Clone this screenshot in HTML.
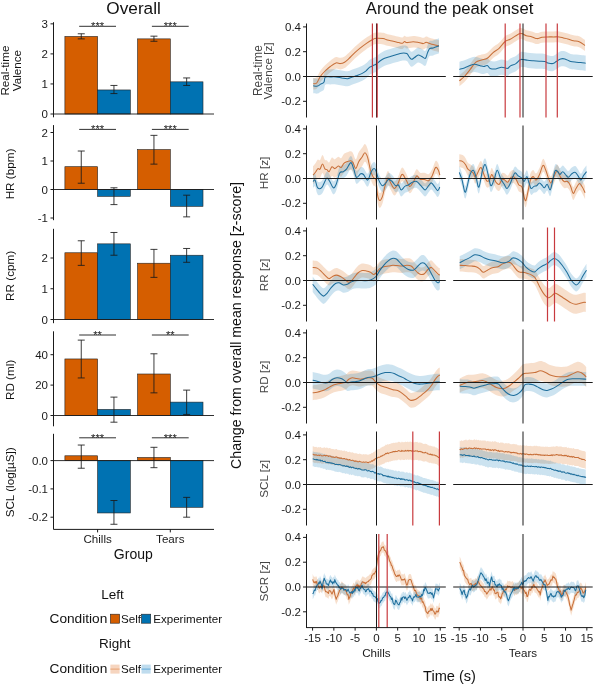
<!DOCTYPE html>
<html><head><meta charset="utf-8"><style>
html,body{margin:0;padding:0;background:#fff;width:598px;height:685px;overflow:hidden}
svg{display:block;will-change:transform}
text{font-family:"Liberation Sans", sans-serif}
</style></head><body>
<svg width="598" height="685" viewBox="0 0 598 685">
<rect width="598" height="685" fill="#fff"/>
<text x="133.60" y="14.40" font-size="17.2" text-anchor="middle" fill="#111111" >Overall</text>
<rect x="64.90" y="36.47" width="32.70" height="77.53" fill="#D55E00" stroke="#222" stroke-width="0.6"/>
<rect x="97.60" y="89.96" width="32.70" height="24.04" fill="#0072B2" stroke="#222" stroke-width="0.6"/>
<rect x="137.60" y="38.88" width="32.70" height="75.12" fill="#D55E00" stroke="#222" stroke-width="0.6"/>
<rect x="170.30" y="81.85" width="32.70" height="32.15" fill="#0072B2" stroke="#222" stroke-width="0.6"/>
<line x1="53.50" y1="114.00" x2="214.00" y2="114.00" stroke="#1a1a1a" stroke-width="0.9" />
<line x1="81.25" y1="38.88" x2="81.25" y2="33.77" stroke="#1a1a1a" stroke-width="0.85" />
<line x1="77.75" y1="38.88" x2="84.75" y2="38.88" stroke="#1a1a1a" stroke-width="0.85" />
<line x1="77.75" y1="33.77" x2="84.75" y2="33.77" stroke="#1a1a1a" stroke-width="0.85" />
<line x1="113.95" y1="93.57" x2="113.95" y2="85.45" stroke="#1a1a1a" stroke-width="0.85" />
<line x1="110.45" y1="93.57" x2="117.45" y2="93.57" stroke="#1a1a1a" stroke-width="0.85" />
<line x1="110.45" y1="85.45" x2="117.45" y2="85.45" stroke="#1a1a1a" stroke-width="0.85" />
<line x1="153.95" y1="41.28" x2="153.95" y2="36.17" stroke="#1a1a1a" stroke-width="0.85" />
<line x1="150.45" y1="41.28" x2="157.45" y2="41.28" stroke="#1a1a1a" stroke-width="0.85" />
<line x1="150.45" y1="36.17" x2="157.45" y2="36.17" stroke="#1a1a1a" stroke-width="0.85" />
<line x1="186.65" y1="85.45" x2="186.65" y2="77.94" stroke="#1a1a1a" stroke-width="0.85" />
<line x1="183.15" y1="85.45" x2="190.15" y2="85.45" stroke="#1a1a1a" stroke-width="0.85" />
<line x1="183.15" y1="77.94" x2="190.15" y2="77.94" stroke="#1a1a1a" stroke-width="0.85" />
<line x1="53.50" y1="22.20" x2="53.50" y2="117.30" stroke="#1a1a1a" stroke-width="1.0" />
<line x1="50.50" y1="114.00" x2="53.50" y2="114.00" stroke="#1a1a1a" stroke-width="1.0" />
<text x="48.00" y="118.00" font-size="11.5" text-anchor="end" fill="#1a1a1a" >0</text>
<line x1="50.50" y1="83.95" x2="53.50" y2="83.95" stroke="#1a1a1a" stroke-width="1.0" />
<text x="48.00" y="87.95" font-size="11.5" text-anchor="end" fill="#1a1a1a" >1</text>
<line x1="50.50" y1="53.90" x2="53.50" y2="53.90" stroke="#1a1a1a" stroke-width="1.0" />
<text x="48.00" y="57.90" font-size="11.5" text-anchor="end" fill="#1a1a1a" >2</text>
<line x1="50.50" y1="23.85" x2="53.50" y2="23.85" stroke="#1a1a1a" stroke-width="1.0" />
<text x="48.00" y="27.85" font-size="11.5" text-anchor="end" fill="#1a1a1a" >3</text>
<line x1="79.20" y1="26.30" x2="116.00" y2="26.30" stroke="#1a1a1a" stroke-width="0.9" />
<text x="97.60" y="30.20" font-size="11.2" text-anchor="middle" fill="#222" >***</text>
<line x1="151.90" y1="26.30" x2="188.70" y2="26.30" stroke="#1a1a1a" stroke-width="0.9" />
<text x="170.30" y="30.20" font-size="11.2" text-anchor="middle" fill="#222" >***</text>
<text x="9.30" y="70.60" font-size="11.7" text-anchor="middle" fill="#111111" transform="rotate(-90 9.30 70.60)" >Real-time</text>
<text x="20.60" y="70.60" font-size="11.7" text-anchor="middle" fill="#111111" transform="rotate(-90 20.60 70.60)" >Valence</text>
<rect x="64.90" y="166.70" width="32.70" height="22.80" fill="#D55E00" stroke="#222" stroke-width="0.6"/>
<rect x="97.60" y="189.50" width="32.70" height="6.84" fill="#0072B2" stroke="#222" stroke-width="0.6"/>
<rect x="137.60" y="149.60" width="32.70" height="39.90" fill="#D55E00" stroke="#222" stroke-width="0.6"/>
<rect x="170.30" y="189.50" width="32.70" height="16.81" fill="#0072B2" stroke="#222" stroke-width="0.6"/>
<line x1="53.50" y1="189.50" x2="214.00" y2="189.50" stroke="#1a1a1a" stroke-width="0.9" />
<line x1="81.25" y1="183.23" x2="81.25" y2="151.03" stroke="#1a1a1a" stroke-width="0.85" />
<line x1="77.75" y1="183.23" x2="84.75" y2="183.23" stroke="#1a1a1a" stroke-width="0.85" />
<line x1="77.75" y1="151.03" x2="84.75" y2="151.03" stroke="#1a1a1a" stroke-width="0.85" />
<line x1="113.95" y1="204.60" x2="113.95" y2="187.79" stroke="#1a1a1a" stroke-width="0.85" />
<line x1="110.45" y1="204.60" x2="117.45" y2="204.60" stroke="#1a1a1a" stroke-width="0.85" />
<line x1="110.45" y1="187.79" x2="117.45" y2="187.79" stroke="#1a1a1a" stroke-width="0.85" />
<line x1="153.95" y1="164.13" x2="153.95" y2="135.35" stroke="#1a1a1a" stroke-width="0.85" />
<line x1="150.45" y1="164.13" x2="157.45" y2="164.13" stroke="#1a1a1a" stroke-width="0.85" />
<line x1="150.45" y1="135.35" x2="157.45" y2="135.35" stroke="#1a1a1a" stroke-width="0.85" />
<line x1="186.65" y1="216.86" x2="186.65" y2="195.20" stroke="#1a1a1a" stroke-width="0.85" />
<line x1="183.15" y1="216.86" x2="190.15" y2="216.86" stroke="#1a1a1a" stroke-width="0.85" />
<line x1="183.15" y1="195.20" x2="190.15" y2="195.20" stroke="#1a1a1a" stroke-width="0.85" />
<line x1="53.50" y1="125.10" x2="53.50" y2="220.20" stroke="#1a1a1a" stroke-width="1.0" />
<line x1="50.50" y1="218.00" x2="53.50" y2="218.00" stroke="#1a1a1a" stroke-width="1.0" />
<text x="48.00" y="222.00" font-size="11.5" text-anchor="end" fill="#1a1a1a" >-1</text>
<line x1="50.50" y1="189.50" x2="53.50" y2="189.50" stroke="#1a1a1a" stroke-width="1.0" />
<text x="48.00" y="193.50" font-size="11.5" text-anchor="end" fill="#1a1a1a" >0</text>
<line x1="50.50" y1="161.00" x2="53.50" y2="161.00" stroke="#1a1a1a" stroke-width="1.0" />
<text x="48.00" y="165.00" font-size="11.5" text-anchor="end" fill="#1a1a1a" >1</text>
<line x1="50.50" y1="132.50" x2="53.50" y2="132.50" stroke="#1a1a1a" stroke-width="1.0" />
<text x="48.00" y="136.50" font-size="11.5" text-anchor="end" fill="#1a1a1a" >2</text>
<line x1="79.20" y1="129.40" x2="116.00" y2="129.40" stroke="#1a1a1a" stroke-width="0.9" />
<text x="97.60" y="133.30" font-size="11.2" text-anchor="middle" fill="#222" >***</text>
<line x1="151.90" y1="129.40" x2="188.70" y2="129.40" stroke="#1a1a1a" stroke-width="0.9" />
<text x="170.30" y="133.30" font-size="11.2" text-anchor="middle" fill="#222" >***</text>
<text x="13.80" y="174.00" font-size="11.7" text-anchor="middle" fill="#111111" transform="rotate(-90 13.80 174.00)" >HR (bpm)</text>
<rect x="64.90" y="252.77" width="32.70" height="66.73" fill="#D55E00" stroke="#222" stroke-width="0.6"/>
<rect x="97.60" y="243.86" width="32.70" height="75.64" fill="#0072B2" stroke="#222" stroke-width="0.6"/>
<rect x="137.60" y="263.23" width="32.70" height="56.27" fill="#D55E00" stroke="#222" stroke-width="0.6"/>
<rect x="170.30" y="255.23" width="32.70" height="64.27" fill="#0072B2" stroke="#222" stroke-width="0.6"/>
<line x1="53.50" y1="319.50" x2="214.00" y2="319.50" stroke="#1a1a1a" stroke-width="0.9" />
<line x1="81.25" y1="265.38" x2="81.25" y2="240.78" stroke="#1a1a1a" stroke-width="0.85" />
<line x1="77.75" y1="265.38" x2="84.75" y2="265.38" stroke="#1a1a1a" stroke-width="0.85" />
<line x1="77.75" y1="240.78" x2="84.75" y2="240.78" stroke="#1a1a1a" stroke-width="0.85" />
<line x1="113.95" y1="255.23" x2="113.95" y2="232.48" stroke="#1a1a1a" stroke-width="0.85" />
<line x1="110.45" y1="255.23" x2="117.45" y2="255.23" stroke="#1a1a1a" stroke-width="0.85" />
<line x1="110.45" y1="232.48" x2="117.45" y2="232.48" stroke="#1a1a1a" stroke-width="0.85" />
<line x1="153.95" y1="277.37" x2="153.95" y2="249.39" stroke="#1a1a1a" stroke-width="0.85" />
<line x1="150.45" y1="277.37" x2="157.45" y2="277.37" stroke="#1a1a1a" stroke-width="0.85" />
<line x1="150.45" y1="249.39" x2="157.45" y2="249.39" stroke="#1a1a1a" stroke-width="0.85" />
<line x1="186.65" y1="262.31" x2="186.65" y2="248.47" stroke="#1a1a1a" stroke-width="0.85" />
<line x1="183.15" y1="262.31" x2="190.15" y2="262.31" stroke="#1a1a1a" stroke-width="0.85" />
<line x1="183.15" y1="248.47" x2="190.15" y2="248.47" stroke="#1a1a1a" stroke-width="0.85" />
<line x1="53.50" y1="228.80" x2="53.50" y2="323.20" stroke="#1a1a1a" stroke-width="1.0" />
<line x1="50.50" y1="319.50" x2="53.50" y2="319.50" stroke="#1a1a1a" stroke-width="1.0" />
<text x="48.00" y="323.50" font-size="11.5" text-anchor="end" fill="#1a1a1a" >0</text>
<line x1="50.50" y1="288.75" x2="53.50" y2="288.75" stroke="#1a1a1a" stroke-width="1.0" />
<text x="48.00" y="292.75" font-size="11.5" text-anchor="end" fill="#1a1a1a" >1</text>
<line x1="50.50" y1="258.00" x2="53.50" y2="258.00" stroke="#1a1a1a" stroke-width="1.0" />
<text x="48.00" y="262.00" font-size="11.5" text-anchor="end" fill="#1a1a1a" >2</text>
<text x="13.80" y="275.90" font-size="11.7" text-anchor="middle" fill="#111111" transform="rotate(-90 13.80 275.90)" >RR (cpm)</text>
<rect x="64.90" y="358.96" width="32.70" height="56.54" fill="#D55E00" stroke="#222" stroke-width="0.6"/>
<rect x="97.60" y="409.42" width="32.70" height="6.08" fill="#0072B2" stroke="#222" stroke-width="0.6"/>
<rect x="137.60" y="374.00" width="32.70" height="41.50" fill="#D55E00" stroke="#222" stroke-width="0.6"/>
<rect x="170.30" y="402.12" width="32.70" height="13.38" fill="#0072B2" stroke="#222" stroke-width="0.6"/>
<line x1="53.50" y1="415.50" x2="214.00" y2="415.50" stroke="#1a1a1a" stroke-width="0.9" />
<line x1="81.25" y1="377.96" x2="81.25" y2="340.11" stroke="#1a1a1a" stroke-width="0.85" />
<line x1="77.75" y1="377.96" x2="84.75" y2="377.96" stroke="#1a1a1a" stroke-width="0.85" />
<line x1="77.75" y1="340.11" x2="84.75" y2="340.11" stroke="#1a1a1a" stroke-width="0.85" />
<line x1="113.95" y1="422.19" x2="113.95" y2="397.11" stroke="#1a1a1a" stroke-width="0.85" />
<line x1="110.45" y1="422.19" x2="117.45" y2="422.19" stroke="#1a1a1a" stroke-width="0.85" />
<line x1="110.45" y1="397.11" x2="117.45" y2="397.11" stroke="#1a1a1a" stroke-width="0.85" />
<line x1="153.95" y1="392.85" x2="153.95" y2="353.79" stroke="#1a1a1a" stroke-width="0.85" />
<line x1="150.45" y1="392.85" x2="157.45" y2="392.85" stroke="#1a1a1a" stroke-width="0.85" />
<line x1="150.45" y1="353.79" x2="157.45" y2="353.79" stroke="#1a1a1a" stroke-width="0.85" />
<line x1="186.65" y1="414.44" x2="186.65" y2="390.12" stroke="#1a1a1a" stroke-width="0.85" />
<line x1="183.15" y1="414.44" x2="190.15" y2="414.44" stroke="#1a1a1a" stroke-width="0.85" />
<line x1="183.15" y1="390.12" x2="190.15" y2="390.12" stroke="#1a1a1a" stroke-width="0.85" />
<line x1="53.50" y1="331.30" x2="53.50" y2="426.30" stroke="#1a1a1a" stroke-width="1.0" />
<line x1="50.50" y1="415.50" x2="53.50" y2="415.50" stroke="#1a1a1a" stroke-width="1.0" />
<text x="48.00" y="419.50" font-size="11.5" text-anchor="end" fill="#1a1a1a" >0</text>
<line x1="50.50" y1="385.10" x2="53.50" y2="385.10" stroke="#1a1a1a" stroke-width="1.0" />
<text x="48.00" y="389.10" font-size="11.5" text-anchor="end" fill="#1a1a1a" >20</text>
<line x1="50.50" y1="354.70" x2="53.50" y2="354.70" stroke="#1a1a1a" stroke-width="1.0" />
<text x="48.00" y="358.70" font-size="11.5" text-anchor="end" fill="#1a1a1a" >40</text>
<line x1="79.20" y1="335.00" x2="116.00" y2="335.00" stroke="#1a1a1a" stroke-width="0.9" />
<text x="97.60" y="338.90" font-size="11.2" text-anchor="middle" fill="#222" >**</text>
<line x1="151.90" y1="335.00" x2="188.70" y2="335.00" stroke="#1a1a1a" stroke-width="0.9" />
<text x="170.30" y="338.90" font-size="11.2" text-anchor="middle" fill="#222" >**</text>
<text x="13.80" y="379.90" font-size="11.7" text-anchor="middle" fill="#111111" transform="rotate(-90 13.80 379.90)" >RD (ml)</text>
<rect x="64.90" y="455.79" width="32.70" height="4.81" fill="#D55E00" stroke="#222" stroke-width="0.6"/>
<rect x="97.60" y="460.60" width="32.70" height="52.36" fill="#0072B2" stroke="#222" stroke-width="0.6"/>
<rect x="137.60" y="457.49" width="32.70" height="3.11" fill="#D55E00" stroke="#222" stroke-width="0.6"/>
<rect x="170.30" y="460.60" width="32.70" height="46.69" fill="#0072B2" stroke="#222" stroke-width="0.6"/>
<line x1="53.50" y1="460.60" x2="214.00" y2="460.60" stroke="#1a1a1a" stroke-width="0.9" />
<line x1="81.25" y1="468.24" x2="81.25" y2="445.04" stroke="#1a1a1a" stroke-width="0.85" />
<line x1="77.75" y1="468.24" x2="84.75" y2="468.24" stroke="#1a1a1a" stroke-width="0.85" />
<line x1="77.75" y1="445.04" x2="84.75" y2="445.04" stroke="#1a1a1a" stroke-width="0.85" />
<line x1="113.95" y1="524.27" x2="113.95" y2="500.50" stroke="#1a1a1a" stroke-width="0.85" />
<line x1="110.45" y1="524.27" x2="117.45" y2="524.27" stroke="#1a1a1a" stroke-width="0.85" />
<line x1="110.45" y1="500.50" x2="117.45" y2="500.50" stroke="#1a1a1a" stroke-width="0.85" />
<line x1="153.95" y1="467.68" x2="153.95" y2="447.30" stroke="#1a1a1a" stroke-width="0.85" />
<line x1="150.45" y1="467.68" x2="157.45" y2="467.68" stroke="#1a1a1a" stroke-width="0.85" />
<line x1="150.45" y1="447.30" x2="157.45" y2="447.30" stroke="#1a1a1a" stroke-width="0.85" />
<line x1="186.65" y1="517.20" x2="186.65" y2="497.39" stroke="#1a1a1a" stroke-width="0.85" />
<line x1="183.15" y1="517.20" x2="190.15" y2="517.20" stroke="#1a1a1a" stroke-width="0.85" />
<line x1="183.15" y1="497.39" x2="190.15" y2="497.39" stroke="#1a1a1a" stroke-width="0.85" />
<line x1="53.50" y1="433.80" x2="53.50" y2="529.40" stroke="#1a1a1a" stroke-width="1.0" />
<line x1="50.50" y1="517.20" x2="53.50" y2="517.20" stroke="#1a1a1a" stroke-width="1.0" />
<text x="48.00" y="521.20" font-size="11.5" text-anchor="end" fill="#1a1a1a" >-0.2</text>
<line x1="50.50" y1="488.90" x2="53.50" y2="488.90" stroke="#1a1a1a" stroke-width="1.0" />
<text x="48.00" y="492.90" font-size="11.5" text-anchor="end" fill="#1a1a1a" >-0.1</text>
<line x1="50.50" y1="460.60" x2="53.50" y2="460.60" stroke="#1a1a1a" stroke-width="1.0" />
<text x="48.00" y="464.60" font-size="11.5" text-anchor="end" fill="#1a1a1a" >0.0</text>
<line x1="79.20" y1="437.80" x2="116.00" y2="437.80" stroke="#1a1a1a" stroke-width="0.9" />
<text x="97.60" y="441.70" font-size="11.2" text-anchor="middle" fill="#222" >***</text>
<line x1="151.90" y1="437.80" x2="188.70" y2="437.80" stroke="#1a1a1a" stroke-width="0.9" />
<text x="170.30" y="441.70" font-size="11.2" text-anchor="middle" fill="#222" >***</text>
<text x="13.80" y="482.40" font-size="11.7" text-anchor="middle" fill="#111111" transform="rotate(-90 13.80 482.40)" >SCL (log[µS])</text>
<line x1="53.50" y1="529.40" x2="214.00" y2="529.40" stroke="#1a1a1a" stroke-width="1.0" />
<line x1="97.60" y1="529.40" x2="97.60" y2="532.40" stroke="#1a1a1a" stroke-width="1.0" />
<line x1="170.30" y1="529.40" x2="170.30" y2="532.40" stroke="#1a1a1a" stroke-width="1.0" />
<text x="97.60" y="542.90" font-size="11.6" text-anchor="middle" fill="#1a1a1a" >Chills</text>
<text x="170.30" y="542.90" font-size="11.6" text-anchor="middle" fill="#1a1a1a" >Tears</text>
<text x="133.30" y="558.50" font-size="14" text-anchor="middle" fill="#111111" >Group</text>
<text x="112.50" y="599.10" font-size="13.5" text-anchor="middle" fill="#111111" >Left</text>
<text x="49.50" y="623.30" font-size="13.7" text-anchor="start" fill="#111111" >Condition</text>
<rect x="110.40" y="614.20" width="9.20" height="9.00" fill="#D55E00" stroke="#222" stroke-width="0.6"/>
<text x="121.00" y="623.00" font-size="11.6" text-anchor="start" fill="#111111" >Self</text>
<rect x="141.50" y="614.20" width="9.20" height="9.00" fill="#0072B2" stroke="#222" stroke-width="0.6"/>
<text x="153.20" y="623.00" font-size="11.6" text-anchor="start" fill="#111111" >Experimenter</text>
<text x="114.80" y="648.20" font-size="13.5" text-anchor="middle" fill="#111111" >Right</text>
<text x="49.50" y="673.00" font-size="13.7" text-anchor="start" fill="#111111" >Condition</text>
<rect x="110.40" y="664.60" width="9.20" height="9.00" fill="#f6d5bf" stroke="none" stroke-width="0.5"/>
<line x1="110.40" y1="669.10" x2="119.60" y2="669.10" stroke="#e8a070" stroke-width="1.0" />
<text x="121.00" y="672.80" font-size="11.6" text-anchor="start" fill="#111111" >Self</text>
<rect x="141.50" y="664.60" width="9.20" height="9.00" fill="#bfdcee" stroke="none" stroke-width="0.5"/>
<line x1="141.50" y1="669.10" x2="150.70" y2="669.10" stroke="#60a8d8" stroke-width="1.0" />
<text x="153.20" y="672.80" font-size="11.6" text-anchor="start" fill="#111111" >Experimenter</text>
<text x="449.60" y="13.80" font-size="16.65" text-anchor="middle" fill="#111111" >Around the peak onset</text>
<path d="M313.20,77.90 C313.78,77.78 315.52,78.40 316.70,77.20 C317.88,76.00 318.98,72.62 320.30,70.70 C321.62,68.78 322.93,67.37 324.60,65.70 C326.27,64.03 328.40,62.13 330.30,60.70 C332.20,59.27 334.33,57.58 336.00,57.10 C337.67,56.62 338.87,57.92 340.30,57.80 C341.73,57.68 343.17,57.23 344.60,56.40 C346.03,55.57 347.23,54.35 348.90,52.80 C350.57,51.25 352.68,48.88 354.60,47.10 C356.52,45.32 358.48,43.65 360.40,42.10 C362.32,40.55 364.20,39.12 366.10,37.80 C368.00,36.48 370.15,35.08 371.80,34.20 C373.45,33.32 374.10,32.73 376.00,32.50 C377.90,32.27 381.30,32.52 383.20,32.80 C385.10,33.08 385.73,33.77 387.40,34.20 C389.07,34.63 391.28,34.97 393.20,35.40 C395.12,35.83 397.35,36.47 398.90,36.80 C400.45,37.13 401.55,37.58 402.50,37.40 C403.45,37.22 403.88,35.80 404.60,35.70 C405.32,35.60 405.37,36.77 406.80,36.80 C408.23,36.83 411.18,35.90 413.20,35.90 C415.22,35.90 417.23,36.48 418.90,36.80 C420.57,37.12 422.00,37.87 423.20,37.80 C424.40,37.73 425.15,36.47 426.10,36.40 C427.05,36.33 427.72,37.00 428.90,37.40 C430.08,37.80 431.52,38.33 433.20,38.80 C434.88,39.27 438.03,39.97 439.00,40.20 L439.00,51.80 C438.03,51.57 434.88,50.87 433.20,50.40 C431.52,49.93 430.08,49.40 428.90,49.00 C427.72,48.60 427.05,47.93 426.10,48.00 C425.15,48.07 424.40,49.33 423.20,49.40 C422.00,49.47 420.57,48.72 418.90,48.40 C417.23,48.08 415.22,47.50 413.20,47.50 C411.18,47.50 408.23,48.43 406.80,48.40 C405.37,48.37 405.32,47.20 404.60,47.30 C403.88,47.40 403.45,48.82 402.50,49.00 C401.55,49.18 400.45,48.73 398.90,48.40 C397.35,48.07 395.12,47.43 393.20,47.00 C391.28,46.57 389.07,46.23 387.40,45.80 C385.73,45.37 385.10,44.68 383.20,44.40 C381.30,44.12 377.90,43.87 376.00,44.10 C374.10,44.33 373.45,44.92 371.80,45.80 C370.15,46.68 368.00,48.08 366.10,49.40 C364.20,50.72 362.32,52.15 360.40,53.70 C358.48,55.25 356.52,56.92 354.60,58.70 C352.68,60.48 350.57,62.85 348.90,64.40 C347.23,65.95 346.03,67.17 344.60,68.00 C343.17,68.83 341.73,69.28 340.30,69.40 C338.87,69.52 337.67,68.22 336.00,68.70 C334.33,69.18 332.20,70.87 330.30,72.30 C328.40,73.73 326.27,75.63 324.60,77.30 C322.93,78.97 321.62,80.38 320.30,82.30 C318.98,84.22 317.88,87.60 316.70,88.80 C315.52,90.00 313.78,89.38 313.20,89.50 Z" fill="#D55E00" fill-opacity="0.2" stroke="none"/>
<path d="M313.20,78.30 C313.90,78.35 316.22,78.83 317.40,78.60 C318.58,78.37 319.22,77.55 320.30,76.90 C321.38,76.25 323.07,75.90 323.90,74.70 C324.73,73.50 324.23,70.58 325.30,69.70 C326.37,68.82 328.52,69.45 330.30,69.40 C332.08,69.35 334.08,69.23 336.00,69.40 C337.92,69.57 339.88,70.10 341.80,70.40 C343.72,70.70 345.83,71.32 347.50,71.20 C349.17,71.08 350.37,70.18 351.80,69.70 C353.23,69.22 354.43,68.90 356.10,68.30 C357.77,67.70 360.13,66.93 361.80,66.10 C363.47,65.27 364.78,64.37 366.10,63.30 C367.42,62.23 368.52,60.58 369.70,59.70 C370.88,58.82 372.15,58.48 373.20,58.00 C374.25,57.52 374.82,57.58 376.00,56.80 C377.18,56.02 378.87,54.30 380.30,53.30 C381.73,52.30 382.93,51.52 384.60,50.80 C386.27,50.08 388.40,49.58 390.30,49.00 C392.20,48.42 394.08,47.85 396.00,47.30 C397.92,46.75 400.00,45.90 401.80,45.70 C403.60,45.50 405.62,45.55 406.80,46.10 C407.98,46.65 408.12,48.05 408.90,49.00 C409.68,49.95 410.55,51.63 411.50,51.80 C412.45,51.97 413.48,50.72 414.60,50.00 C415.72,49.28 417.00,47.67 418.20,47.50 C419.40,47.33 420.60,48.45 421.80,49.00 C423.00,49.55 424.45,51.40 425.40,50.80 C426.35,50.20 426.80,47.02 427.50,45.40 C428.20,43.78 428.65,41.93 429.60,41.10 C430.55,40.27 431.63,40.87 433.20,40.40 C434.77,39.93 438.03,38.65 439.00,38.30 L439.00,53.30 C438.03,53.65 434.77,54.93 433.20,55.40 C431.63,55.87 430.55,55.27 429.60,56.10 C428.65,56.93 428.20,58.78 427.50,60.40 C426.80,62.02 426.35,65.20 425.40,65.80 C424.45,66.40 423.00,64.55 421.80,64.00 C420.60,63.45 419.40,62.33 418.20,62.50 C417.00,62.67 415.72,64.28 414.60,65.00 C413.48,65.72 412.45,66.97 411.50,66.80 C410.55,66.63 409.68,64.95 408.90,64.00 C408.12,63.05 407.98,61.65 406.80,61.10 C405.62,60.55 403.60,60.50 401.80,60.70 C400.00,60.90 397.92,61.75 396.00,62.30 C394.08,62.85 392.20,63.42 390.30,64.00 C388.40,64.58 386.27,65.08 384.60,65.80 C382.93,66.52 381.73,67.30 380.30,68.30 C378.87,69.30 377.18,71.02 376.00,71.80 C374.82,72.58 374.25,72.52 373.20,73.00 C372.15,73.48 370.88,73.82 369.70,74.70 C368.52,75.58 367.42,77.23 366.10,78.30 C364.78,79.37 363.47,80.27 361.80,81.10 C360.13,81.93 357.77,82.70 356.10,83.30 C354.43,83.90 353.23,84.22 351.80,84.70 C350.37,85.18 349.17,86.08 347.50,86.20 C345.83,86.32 343.72,85.70 341.80,85.40 C339.88,85.10 337.92,84.57 336.00,84.40 C334.08,84.23 332.08,84.35 330.30,84.40 C328.52,84.45 326.37,83.82 325.30,84.70 C324.23,85.58 324.73,88.50 323.90,89.70 C323.07,90.90 321.38,91.25 320.30,91.90 C319.22,92.55 318.58,93.37 317.40,93.60 C316.22,93.83 313.90,93.35 313.20,93.30 Z" fill="#0072B2" fill-opacity="0.2" stroke="none"/>
<path d="M313.20,83.70 C313.78,83.58 315.52,84.20 316.70,83.00 C317.88,81.80 318.98,78.42 320.30,76.50 C321.62,74.58 322.93,73.17 324.60,71.50 C326.27,69.83 328.40,67.93 330.30,66.50 C332.20,65.07 334.33,63.38 336.00,62.90 C337.67,62.42 338.87,63.72 340.30,63.60 C341.73,63.48 343.17,63.03 344.60,62.20 C346.03,61.37 347.23,60.15 348.90,58.60 C350.57,57.05 352.68,54.68 354.60,52.90 C356.52,51.12 358.48,49.45 360.40,47.90 C362.32,46.35 364.20,44.92 366.10,43.60 C368.00,42.28 370.15,40.88 371.80,40.00 C373.45,39.12 374.10,38.53 376.00,38.30 C377.90,38.07 381.30,38.32 383.20,38.60 C385.10,38.88 385.73,39.57 387.40,40.00 C389.07,40.43 391.28,40.77 393.20,41.20 C395.12,41.63 397.35,42.27 398.90,42.60 C400.45,42.93 401.55,43.38 402.50,43.20 C403.45,43.02 403.88,41.60 404.60,41.50 C405.32,41.40 405.37,42.57 406.80,42.60 C408.23,42.63 411.18,41.70 413.20,41.70 C415.22,41.70 417.23,42.28 418.90,42.60 C420.57,42.92 422.00,43.67 423.20,43.60 C424.40,43.53 425.15,42.27 426.10,42.20 C427.05,42.13 427.72,42.80 428.90,43.20 C430.08,43.60 431.52,44.13 433.20,44.60 C434.88,45.07 438.03,45.77 439.00,46.00" fill="none" stroke="#C8703A" stroke-width="1.05" stroke-linejoin="round"/>
<path d="M313.20,85.80 C313.90,85.85 316.22,86.33 317.40,86.10 C318.58,85.87 319.22,85.05 320.30,84.40 C321.38,83.75 323.07,83.40 323.90,82.20 C324.73,81.00 324.23,78.08 325.30,77.20 C326.37,76.32 328.52,76.95 330.30,76.90 C332.08,76.85 334.08,76.73 336.00,76.90 C337.92,77.07 339.88,77.60 341.80,77.90 C343.72,78.20 345.83,78.82 347.50,78.70 C349.17,78.58 350.37,77.68 351.80,77.20 C353.23,76.72 354.43,76.40 356.10,75.80 C357.77,75.20 360.13,74.43 361.80,73.60 C363.47,72.77 364.78,71.87 366.10,70.80 C367.42,69.73 368.52,68.08 369.70,67.20 C370.88,66.32 372.15,65.98 373.20,65.50 C374.25,65.02 374.82,65.08 376.00,64.30 C377.18,63.52 378.87,61.80 380.30,60.80 C381.73,59.80 382.93,59.02 384.60,58.30 C386.27,57.58 388.40,57.08 390.30,56.50 C392.20,55.92 394.08,55.35 396.00,54.80 C397.92,54.25 400.00,53.40 401.80,53.20 C403.60,53.00 405.62,53.05 406.80,53.60 C407.98,54.15 408.12,55.55 408.90,56.50 C409.68,57.45 410.55,59.13 411.50,59.30 C412.45,59.47 413.48,58.22 414.60,57.50 C415.72,56.78 417.00,55.17 418.20,55.00 C419.40,54.83 420.60,55.95 421.80,56.50 C423.00,57.05 424.45,58.90 425.40,58.30 C426.35,57.70 426.80,54.52 427.50,52.90 C428.20,51.28 428.65,49.43 429.60,48.60 C430.55,47.77 431.63,48.37 433.20,47.90 C434.77,47.43 438.03,46.15 439.00,45.80" fill="none" stroke="#1E6E9C" stroke-width="1.05" stroke-linejoin="round"/>
<line x1="306.50" y1="76.50" x2="445.80" y2="76.50" stroke="#1a1a1a" stroke-width="1.0" />
<line x1="376.50" y1="23.50" x2="376.50" y2="117.50" stroke="#1a1a1a" stroke-width="1.0" />
<line x1="372.40" y1="23.50" x2="372.40" y2="117.50" stroke="#c83a3e" stroke-width="1.2" />
<line x1="377.20" y1="23.50" x2="377.20" y2="117.50" stroke="#c83a3e" stroke-width="1.2" />
<path d="M459.40,75.30 C460.23,74.58 462.60,72.90 464.40,71.00 C466.20,69.10 468.28,66.28 470.20,63.90 C472.12,61.52 474.00,58.25 475.90,56.70 C477.80,55.15 479.70,55.25 481.60,54.60 C483.50,53.95 485.38,54.05 487.30,52.80 C489.22,51.55 491.18,48.72 493.10,47.10 C495.02,45.48 496.78,44.95 498.80,43.10 C500.82,41.25 503.30,37.55 505.20,36.00 C507.10,34.45 508.42,34.77 510.20,33.80 C511.98,32.83 514.23,31.15 515.90,30.20 C517.57,29.25 519.02,28.38 520.20,28.10 C521.38,27.82 521.98,28.15 523.00,28.50 C524.02,28.85 524.80,29.72 526.30,30.20 C527.80,30.68 530.22,30.92 532.00,31.40 C533.78,31.88 535.33,33.05 537.00,33.10 C538.67,33.15 540.20,31.98 542.00,31.70 C543.80,31.42 545.88,31.45 547.80,31.40 C549.72,31.35 551.60,31.40 553.50,31.40 C555.40,31.40 557.53,31.23 559.20,31.40 C560.87,31.57 562.07,32.07 563.50,32.40 C564.93,32.73 566.13,32.93 567.80,33.40 C569.47,33.87 571.60,34.73 573.50,35.20 C575.40,35.67 577.28,35.40 579.20,36.20 C581.12,37.00 584.03,39.37 585.00,40.00 L585.00,51.00 C584.03,50.37 581.12,48.00 579.20,47.20 C577.28,46.40 575.40,46.67 573.50,46.20 C571.60,45.73 569.47,44.87 567.80,44.40 C566.13,43.93 564.93,43.73 563.50,43.40 C562.07,43.07 560.87,42.57 559.20,42.40 C557.53,42.23 555.40,42.40 553.50,42.40 C551.60,42.40 549.72,42.35 547.80,42.40 C545.88,42.45 543.80,42.42 542.00,42.70 C540.20,42.98 538.67,44.15 537.00,44.10 C535.33,44.05 533.78,42.88 532.00,42.40 C530.22,41.92 527.80,41.68 526.30,41.20 C524.80,40.72 524.02,39.85 523.00,39.50 C521.98,39.15 521.38,38.82 520.20,39.10 C519.02,39.38 517.57,40.25 515.90,41.20 C514.23,42.15 511.98,43.83 510.20,44.80 C508.42,45.77 507.10,45.45 505.20,47.00 C503.30,48.55 500.82,52.25 498.80,54.10 C496.78,55.95 495.02,56.48 493.10,58.10 C491.18,59.72 489.22,62.55 487.30,63.80 C485.38,65.05 483.50,64.95 481.60,65.60 C479.70,66.25 477.80,66.15 475.90,67.70 C474.00,69.25 472.12,72.52 470.20,74.90 C468.28,77.28 466.20,80.10 464.40,82.00 C462.60,83.90 460.23,85.58 459.40,86.30 Z" fill="#D55E00" fill-opacity="0.2" stroke="none"/>
<path d="M459.40,61.80 C460.23,61.55 462.85,60.85 464.40,60.30 C465.95,59.75 467.02,59.10 468.70,58.50 C470.38,57.90 472.58,56.75 474.50,56.70 C476.42,56.65 478.65,57.83 480.20,58.20 C481.75,58.57 482.62,58.95 483.80,58.90 C484.98,58.85 486.23,57.58 487.30,57.90 C488.37,58.22 488.77,60.23 490.20,60.80 C491.63,61.37 494.00,61.50 495.90,61.30 C497.80,61.10 499.68,59.68 501.60,59.60 C503.52,59.52 505.97,60.98 507.40,60.80 C508.83,60.62 508.78,59.30 510.20,58.50 C511.62,57.70 514.23,57.05 515.90,56.00 C517.57,54.95 519.02,52.88 520.20,52.20 C521.38,51.52 521.75,51.82 523.00,51.90 C524.25,51.98 525.97,52.48 527.70,52.70 C529.43,52.92 531.48,53.05 533.40,53.20 C535.32,53.35 537.28,53.48 539.20,53.60 C541.12,53.72 543.47,53.62 544.90,53.90 C546.33,54.18 546.48,54.95 547.80,55.30 C549.12,55.65 551.38,56.23 552.80,56.00 C554.22,55.77 555.00,54.68 556.30,53.90 C557.60,53.12 559.17,51.73 560.60,51.30 C562.03,50.87 563.23,50.87 564.90,51.30 C566.57,51.73 568.68,53.35 570.60,53.90 C572.52,54.45 574.72,54.42 576.40,54.60 C578.08,54.78 579.15,54.83 580.70,55.00 C582.25,55.17 584.87,55.50 585.70,55.60 L585.70,70.80 C584.87,70.70 582.25,70.37 580.70,70.20 C579.15,70.03 578.08,69.98 576.40,69.80 C574.72,69.62 572.52,69.65 570.60,69.10 C568.68,68.55 566.57,66.93 564.90,66.50 C563.23,66.07 562.03,66.07 560.60,66.50 C559.17,66.93 557.60,68.32 556.30,69.10 C555.00,69.88 554.22,70.97 552.80,71.20 C551.38,71.43 549.12,70.85 547.80,70.50 C546.48,70.15 546.33,69.38 544.90,69.10 C543.47,68.82 541.12,68.92 539.20,68.80 C537.28,68.68 535.32,68.55 533.40,68.40 C531.48,68.25 529.43,68.12 527.70,67.90 C525.97,67.68 524.25,67.18 523.00,67.10 C521.75,67.02 521.38,66.72 520.20,67.40 C519.02,68.08 517.57,70.15 515.90,71.20 C514.23,72.25 511.62,72.90 510.20,73.70 C508.78,74.50 508.83,75.82 507.40,76.00 C505.97,76.18 503.52,74.72 501.60,74.80 C499.68,74.88 497.80,76.30 495.90,76.50 C494.00,76.70 491.63,76.57 490.20,76.00 C488.77,75.43 488.37,73.42 487.30,73.10 C486.23,72.78 484.98,74.05 483.80,74.10 C482.62,74.15 481.75,73.77 480.20,73.40 C478.65,73.03 476.42,71.85 474.50,71.90 C472.58,71.95 470.38,73.10 468.70,73.70 C467.02,74.30 465.95,74.95 464.40,75.50 C462.85,76.05 460.23,76.75 459.40,77.00 Z" fill="#0072B2" fill-opacity="0.2" stroke="none"/>
<path d="M459.40,80.80 C460.23,80.08 462.60,78.40 464.40,76.50 C466.20,74.60 468.28,71.78 470.20,69.40 C472.12,67.02 474.00,63.75 475.90,62.20 C477.80,60.65 479.70,60.75 481.60,60.10 C483.50,59.45 485.38,59.55 487.30,58.30 C489.22,57.05 491.18,54.22 493.10,52.60 C495.02,50.98 496.78,50.45 498.80,48.60 C500.82,46.75 503.30,43.05 505.20,41.50 C507.10,39.95 508.42,40.27 510.20,39.30 C511.98,38.33 514.23,36.65 515.90,35.70 C517.57,34.75 519.02,33.88 520.20,33.60 C521.38,33.32 521.98,33.65 523.00,34.00 C524.02,34.35 524.80,35.22 526.30,35.70 C527.80,36.18 530.22,36.42 532.00,36.90 C533.78,37.38 535.33,38.55 537.00,38.60 C538.67,38.65 540.20,37.48 542.00,37.20 C543.80,36.92 545.88,36.95 547.80,36.90 C549.72,36.85 551.60,36.90 553.50,36.90 C555.40,36.90 557.53,36.73 559.20,36.90 C560.87,37.07 562.07,37.57 563.50,37.90 C564.93,38.23 566.13,38.43 567.80,38.90 C569.47,39.37 571.60,40.23 573.50,40.70 C575.40,41.17 577.28,40.90 579.20,41.70 C581.12,42.50 584.03,44.87 585.00,45.50" fill="none" stroke="#C8703A" stroke-width="1.05" stroke-linejoin="round"/>
<path d="M459.40,69.40 C460.23,69.15 462.85,68.45 464.40,67.90 C465.95,67.35 467.02,66.70 468.70,66.10 C470.38,65.50 472.58,64.35 474.50,64.30 C476.42,64.25 478.65,65.43 480.20,65.80 C481.75,66.17 482.62,66.55 483.80,66.50 C484.98,66.45 486.23,65.18 487.30,65.50 C488.37,65.82 488.77,67.83 490.20,68.40 C491.63,68.97 494.00,69.10 495.90,68.90 C497.80,68.70 499.68,67.28 501.60,67.20 C503.52,67.12 505.97,68.58 507.40,68.40 C508.83,68.22 508.78,66.90 510.20,66.10 C511.62,65.30 514.23,64.65 515.90,63.60 C517.57,62.55 519.02,60.48 520.20,59.80 C521.38,59.12 521.75,59.42 523.00,59.50 C524.25,59.58 525.97,60.08 527.70,60.30 C529.43,60.52 531.48,60.65 533.40,60.80 C535.32,60.95 537.28,61.08 539.20,61.20 C541.12,61.32 543.47,61.22 544.90,61.50 C546.33,61.78 546.48,62.55 547.80,62.90 C549.12,63.25 551.38,63.83 552.80,63.60 C554.22,63.37 555.00,62.28 556.30,61.50 C557.60,60.72 559.17,59.33 560.60,58.90 C562.03,58.47 563.23,58.47 564.90,58.90 C566.57,59.33 568.68,60.95 570.60,61.50 C572.52,62.05 574.72,62.02 576.40,62.20 C578.08,62.38 579.15,62.43 580.70,62.60 C582.25,62.77 584.87,63.10 585.70,63.20" fill="none" stroke="#1E6E9C" stroke-width="1.05" stroke-linejoin="round"/>
<line x1="453.20" y1="76.50" x2="592.70" y2="76.50" stroke="#1a1a1a" stroke-width="1.0" />
<line x1="523.00" y1="23.50" x2="523.00" y2="117.50" stroke="#1a1a1a" stroke-width="1.0" />
<line x1="505.20" y1="23.50" x2="505.20" y2="117.50" stroke="#c83a3e" stroke-width="1.2" />
<line x1="520.00" y1="23.50" x2="520.00" y2="117.50" stroke="#c83a3e" stroke-width="1.2" />
<line x1="546.00" y1="23.50" x2="546.00" y2="117.50" stroke="#c83a3e" stroke-width="1.2" />
<line x1="557.30" y1="23.50" x2="557.30" y2="117.50" stroke="#c83a3e" stroke-width="1.2" />
<line x1="306.50" y1="23.50" x2="306.50" y2="117.50" stroke="#1a1a1a" stroke-width="1.0" />
<line x1="303.00" y1="26.90" x2="306.50" y2="26.90" stroke="#1a1a1a" stroke-width="1.0" />
<text x="301.00" y="30.90" font-size="11.5" text-anchor="end" fill="#1a1a1a" >0.4</text>
<line x1="303.00" y1="51.70" x2="306.50" y2="51.70" stroke="#1a1a1a" stroke-width="1.0" />
<text x="301.00" y="55.70" font-size="11.5" text-anchor="end" fill="#1a1a1a" >0.2</text>
<line x1="303.00" y1="76.50" x2="306.50" y2="76.50" stroke="#1a1a1a" stroke-width="1.0" />
<text x="301.00" y="80.50" font-size="11.5" text-anchor="end" fill="#1a1a1a" >0.0</text>
<line x1="303.00" y1="101.30" x2="306.50" y2="101.30" stroke="#1a1a1a" stroke-width="1.0" />
<text x="301.00" y="105.30" font-size="11.5" text-anchor="end" fill="#1a1a1a" >-0.2</text>
<text x="261.80" y="70.60" font-size="11.9" text-anchor="middle" fill="#444" transform="rotate(-90 261.80 70.60)" >Real-time</text>
<text x="271.60" y="70.90" font-size="11.7" text-anchor="middle" fill="#444" transform="rotate(-90 271.60 70.90)" >Valence [z]</text>
<path d="M313.00,166.20 C313.47,165.61 314.98,163.78 315.80,162.67 C316.62,161.56 317.20,159.97 317.90,159.55 C318.60,159.12 319.23,160.90 320.00,160.13 C320.77,159.35 321.68,154.96 322.50,154.90 C323.32,154.84 324.15,158.85 324.90,159.77 C325.65,160.70 326.30,159.99 327.00,160.45 C327.70,160.91 328.28,163.00 329.10,162.53 C329.92,162.05 330.95,158.13 331.90,157.60 C332.85,157.07 333.73,159.50 334.80,159.37 C335.87,159.24 337.25,157.03 338.30,156.83 C339.35,156.64 340.17,158.68 341.10,158.20 C342.03,157.72 342.85,154.97 343.90,153.97 C344.95,152.98 346.23,152.68 347.40,152.23 C348.57,151.79 349.97,151.14 350.90,151.30 C351.83,151.45 352.18,151.87 353.00,153.17 C353.82,154.48 354.87,159.27 355.80,159.14 C356.73,159.02 357.55,154.31 358.60,152.41 C359.65,150.52 361.05,149.18 362.10,147.76 C363.15,146.35 363.97,143.68 364.90,143.91 C365.83,144.15 366.77,146.13 367.70,149.16 C368.63,152.20 369.57,158.74 370.50,162.11 C371.43,165.49 372.38,167.68 373.30,169.40 C374.22,171.12 375.32,169.56 376.00,172.41 C376.68,175.26 376.82,183.09 377.40,186.52 C377.98,189.94 378.68,192.45 379.50,192.98 C380.32,193.51 381.37,192.07 382.30,189.69 C383.23,187.31 384.17,181.81 385.10,178.70 C386.03,175.59 386.97,171.48 387.90,171.03 C388.83,170.57 389.65,174.19 390.70,175.95 C391.75,177.71 393.03,181.34 394.20,181.58 C395.37,181.83 396.42,179.74 397.70,177.42 C398.98,175.09 400.60,168.58 401.90,167.65 C403.20,166.73 404.20,169.89 405.50,171.89 C406.80,173.88 408.42,179.03 409.70,179.62 C410.98,180.22 412.03,177.20 413.20,175.46 C414.37,173.72 415.53,169.64 416.70,169.19 C417.87,168.73 418.92,172.12 420.20,172.72 C421.48,173.31 423.00,172.51 424.40,172.76 C425.80,173.00 427.32,174.77 428.60,174.20 C429.88,173.62 430.93,171.53 432.10,169.33 C433.27,167.12 434.55,161.88 435.60,160.96 C436.65,160.04 437.70,162.50 438.40,163.79 C439.10,165.08 439.57,167.88 439.80,168.70 L439.80,181.70 C439.57,180.89 439.10,178.09 438.40,176.81 C437.70,175.54 436.65,173.10 435.60,174.04 C434.55,174.98 433.27,180.24 432.10,182.47 C430.93,184.70 429.88,186.81 428.60,187.40 C427.32,188.00 425.80,186.26 424.40,186.04 C423.00,185.82 421.48,186.65 420.20,186.08 C418.92,185.51 417.87,182.13 416.70,182.61 C415.53,183.09 414.37,187.18 413.20,188.94 C412.03,190.70 410.98,193.75 409.70,193.18 C408.42,192.60 406.80,187.49 405.50,185.51 C404.20,183.54 403.20,180.40 401.90,181.35 C400.60,182.29 398.98,188.84 397.70,191.18 C396.42,193.53 395.37,195.64 394.20,195.42 C393.03,195.19 391.75,191.59 390.70,189.85 C389.65,188.11 388.83,184.50 387.90,184.97 C386.97,185.45 386.03,189.51 385.10,192.70 C384.17,195.89 383.23,201.59 382.30,204.11 C381.37,206.63 380.32,208.23 379.50,207.82 C378.68,207.42 377.98,205.02 377.40,201.68 C376.82,198.35 376.68,190.54 376.00,187.79 C375.32,185.04 374.22,186.75 373.30,185.20 C372.38,183.65 371.43,181.65 370.50,178.49 C369.57,175.33 368.63,169.04 367.70,166.24 C366.77,163.44 365.83,161.69 364.90,161.69 C363.97,161.69 363.15,164.62 362.10,166.24 C361.05,167.85 359.65,169.42 358.60,171.39 C357.55,173.35 356.73,177.95 355.80,178.06 C354.87,178.16 353.82,173.35 353.00,172.03 C352.18,170.70 351.83,170.28 350.90,170.10 C349.97,169.93 348.57,170.55 347.40,170.97 C346.23,171.39 344.95,171.66 343.90,172.63 C342.85,173.60 342.03,176.34 341.10,176.80 C340.17,177.26 339.35,175.20 338.30,175.37 C337.25,175.54 335.87,177.73 334.80,177.83 C333.73,177.94 332.85,175.49 331.90,176.00 C330.95,176.51 329.92,180.41 329.10,180.87 C328.28,181.33 327.70,179.22 327.00,178.75 C326.30,178.27 325.65,178.97 324.90,178.03 C324.15,177.09 323.32,173.06 322.50,173.10 C321.68,173.14 320.77,177.52 320.00,178.27 C319.23,179.03 318.60,177.24 317.90,177.65 C317.20,178.06 316.62,179.64 315.80,180.73 C314.98,181.82 313.47,183.62 313.00,184.20 Z" fill="#D55E00" fill-opacity="0.2" stroke="none"/>
<path d="M313.00,175.00 C313.35,174.77 314.40,172.67 315.10,173.60 C315.80,174.53 316.50,179.15 317.20,180.60 C317.90,182.05 318.48,182.30 319.30,182.30 C320.12,182.30 321.28,181.58 322.10,180.60 C322.92,179.62 323.38,177.92 324.20,176.40 C325.02,174.88 326.07,171.73 327.00,171.50 C327.93,171.27 328.75,173.37 329.80,175.00 C330.85,176.63 332.23,180.83 333.30,181.30 C334.37,181.77 335.13,180.25 336.20,177.80 C337.27,175.35 338.53,168.70 339.70,166.60 C340.87,164.50 342.03,165.90 343.20,165.20 C344.37,164.50 345.42,163.92 346.70,162.40 C347.98,160.88 349.73,156.10 350.90,156.10 C352.07,156.10 352.77,159.95 353.70,162.40 C354.63,164.85 355.33,169.98 356.50,170.80 C357.67,171.62 359.53,167.77 360.70,167.30 C361.87,166.83 362.33,166.95 363.50,168.00 C364.67,169.05 366.42,174.07 367.70,173.60 C368.98,173.13 370.15,167.12 371.20,165.20 C372.25,163.28 373.20,162.22 374.00,162.10 C374.80,161.98 375.20,162.58 376.00,164.50 C376.80,166.42 377.75,171.15 378.80,173.60 C379.85,176.05 381.13,178.73 382.30,179.20 C383.47,179.67 384.75,177.45 385.80,176.40 C386.85,175.35 387.55,173.13 388.60,172.90 C389.65,172.67 390.93,173.95 392.10,175.00 C393.27,176.05 394.55,178.62 395.60,179.20 C396.65,179.78 397.47,177.80 398.40,178.50 C399.33,179.20 400.13,183.17 401.20,183.40 C402.27,183.63 403.62,180.72 404.80,179.90 C405.98,179.08 407.02,179.20 408.30,178.50 C409.58,177.80 411.10,176.28 412.50,175.70 C413.90,175.12 415.30,174.42 416.70,175.00 C418.10,175.58 419.50,177.80 420.90,179.20 C422.30,180.60 423.82,183.40 425.10,183.40 C426.38,183.40 427.55,180.37 428.60,179.20 C429.65,178.03 430.35,176.17 431.40,176.40 C432.45,176.63 433.85,179.32 434.90,180.60 C435.95,181.88 436.88,184.10 437.70,184.10 C438.52,184.10 439.45,181.18 439.80,180.60 L439.80,193.60 C439.45,194.18 438.52,197.10 437.70,197.10 C436.88,197.10 435.95,194.88 434.90,193.60 C433.85,192.32 432.45,189.63 431.40,189.40 C430.35,189.17 429.65,191.03 428.60,192.20 C427.55,193.37 426.38,196.40 425.10,196.40 C423.82,196.40 422.30,193.60 420.90,192.20 C419.50,190.80 418.10,188.58 416.70,188.00 C415.30,187.42 413.90,188.12 412.50,188.70 C411.10,189.28 409.58,190.80 408.30,191.50 C407.02,192.20 405.98,192.08 404.80,192.90 C403.62,193.72 402.27,196.63 401.20,196.40 C400.13,196.17 399.33,192.20 398.40,191.50 C397.47,190.80 396.65,192.78 395.60,192.20 C394.55,191.62 393.27,189.05 392.10,188.00 C390.93,186.95 389.65,185.67 388.60,185.90 C387.55,186.13 386.85,188.35 385.80,189.40 C384.75,190.45 383.47,192.67 382.30,192.20 C381.13,191.73 379.85,189.05 378.80,186.60 C377.75,184.15 376.80,179.42 376.00,177.50 C375.20,175.58 374.80,174.98 374.00,175.10 C373.20,175.22 372.25,176.28 371.20,178.20 C370.15,180.12 368.98,186.13 367.70,186.60 C366.42,187.07 364.67,182.05 363.50,181.00 C362.33,179.95 361.87,179.83 360.70,180.30 C359.53,180.77 357.67,184.62 356.50,183.80 C355.33,182.98 354.63,177.85 353.70,175.40 C352.77,172.95 352.07,169.10 350.90,169.10 C349.73,169.10 347.98,173.88 346.70,175.40 C345.42,176.92 344.37,177.50 343.20,178.20 C342.03,178.90 340.87,177.50 339.70,179.60 C338.53,181.70 337.27,188.35 336.20,190.80 C335.13,193.25 334.37,194.77 333.30,194.30 C332.23,193.83 330.85,189.63 329.80,188.00 C328.75,186.37 327.93,184.27 327.00,184.50 C326.07,184.73 325.02,187.88 324.20,189.40 C323.38,190.92 322.92,192.62 322.10,193.60 C321.28,194.58 320.12,195.30 319.30,195.30 C318.48,195.30 317.90,195.05 317.20,193.60 C316.50,192.15 315.80,187.53 315.10,186.60 C314.40,185.67 313.35,187.77 313.00,188.00 Z" fill="#0072B2" fill-opacity="0.2" stroke="none"/>
<path d="M313.00,175.20 C313.47,174.62 314.98,172.80 315.80,171.70 C316.62,170.60 317.20,169.02 317.90,168.60 C318.60,168.18 319.23,169.97 320.00,169.20 C320.77,168.43 321.68,164.05 322.50,164.00 C323.32,163.95 324.15,167.97 324.90,168.90 C325.65,169.83 326.30,169.13 327.00,169.60 C327.70,170.07 328.28,172.17 329.10,171.70 C329.92,171.23 330.95,167.32 331.90,166.80 C332.85,166.28 333.73,168.72 334.80,168.60 C335.87,168.48 337.25,166.28 338.30,166.10 C339.35,165.92 340.17,167.97 341.10,167.50 C342.03,167.03 342.85,164.28 343.90,163.30 C344.95,162.32 346.23,162.03 347.40,161.60 C348.57,161.17 349.97,160.53 350.90,160.70 C351.83,160.87 352.18,161.28 353.00,162.60 C353.82,163.92 354.87,168.72 355.80,168.60 C356.73,168.48 357.55,163.83 358.60,161.90 C359.65,159.97 361.05,158.52 362.10,157.00 C363.15,155.48 363.97,152.68 364.90,152.80 C365.83,152.92 366.77,154.78 367.70,157.70 C368.63,160.62 369.57,167.03 370.50,170.30 C371.43,173.57 372.38,175.67 373.30,177.30 C374.22,178.93 375.32,177.30 376.00,180.10 C376.68,182.90 376.82,190.72 377.40,194.10 C377.98,197.48 378.68,199.93 379.50,200.40 C380.32,200.87 381.37,199.35 382.30,196.90 C383.23,194.45 384.17,188.85 385.10,185.70 C386.03,182.55 386.97,178.47 387.90,178.00 C388.83,177.53 389.65,181.15 390.70,182.90 C391.75,184.65 393.03,188.27 394.20,188.50 C395.37,188.73 396.42,186.63 397.70,184.30 C398.98,181.97 400.60,175.43 401.90,174.50 C403.20,173.57 404.20,176.72 405.50,178.70 C406.80,180.68 408.42,185.82 409.70,186.40 C410.98,186.98 412.03,183.95 413.20,182.20 C414.37,180.45 415.53,176.37 416.70,175.90 C417.87,175.43 418.92,178.82 420.20,179.40 C421.48,179.98 423.00,179.17 424.40,179.40 C425.80,179.63 427.32,181.38 428.60,180.80 C429.88,180.22 430.93,178.12 432.10,175.90 C433.27,173.68 434.55,168.43 435.60,167.50 C436.65,166.57 437.70,169.02 438.40,170.30 C439.10,171.58 439.57,174.38 439.80,175.20" fill="none" stroke="#C8703A" stroke-width="1.05" stroke-linejoin="round"/>
<path d="M313.00,181.50 C313.35,181.27 314.40,179.17 315.10,180.10 C315.80,181.03 316.50,185.65 317.20,187.10 C317.90,188.55 318.48,188.80 319.30,188.80 C320.12,188.80 321.28,188.08 322.10,187.10 C322.92,186.12 323.38,184.42 324.20,182.90 C325.02,181.38 326.07,178.23 327.00,178.00 C327.93,177.77 328.75,179.87 329.80,181.50 C330.85,183.13 332.23,187.33 333.30,187.80 C334.37,188.27 335.13,186.75 336.20,184.30 C337.27,181.85 338.53,175.20 339.70,173.10 C340.87,171.00 342.03,172.40 343.20,171.70 C344.37,171.00 345.42,170.42 346.70,168.90 C347.98,167.38 349.73,162.60 350.90,162.60 C352.07,162.60 352.77,166.45 353.70,168.90 C354.63,171.35 355.33,176.48 356.50,177.30 C357.67,178.12 359.53,174.27 360.70,173.80 C361.87,173.33 362.33,173.45 363.50,174.50 C364.67,175.55 366.42,180.57 367.70,180.10 C368.98,179.63 370.15,173.62 371.20,171.70 C372.25,169.78 373.20,168.72 374.00,168.60 C374.80,168.48 375.20,169.08 376.00,171.00 C376.80,172.92 377.75,177.65 378.80,180.10 C379.85,182.55 381.13,185.23 382.30,185.70 C383.47,186.17 384.75,183.95 385.80,182.90 C386.85,181.85 387.55,179.63 388.60,179.40 C389.65,179.17 390.93,180.45 392.10,181.50 C393.27,182.55 394.55,185.12 395.60,185.70 C396.65,186.28 397.47,184.30 398.40,185.00 C399.33,185.70 400.13,189.67 401.20,189.90 C402.27,190.13 403.62,187.22 404.80,186.40 C405.98,185.58 407.02,185.70 408.30,185.00 C409.58,184.30 411.10,182.78 412.50,182.20 C413.90,181.62 415.30,180.92 416.70,181.50 C418.10,182.08 419.50,184.30 420.90,185.70 C422.30,187.10 423.82,189.90 425.10,189.90 C426.38,189.90 427.55,186.87 428.60,185.70 C429.65,184.53 430.35,182.67 431.40,182.90 C432.45,183.13 433.85,185.82 434.90,187.10 C435.95,188.38 436.88,190.60 437.70,190.60 C438.52,190.60 439.45,187.68 439.80,187.10" fill="none" stroke="#1E6E9C" stroke-width="1.05" stroke-linejoin="round"/>
<line x1="306.50" y1="178.50" x2="445.80" y2="178.50" stroke="#1a1a1a" stroke-width="1.0" />
<line x1="376.50" y1="125.50" x2="376.50" y2="219.50" stroke="#1a1a1a" stroke-width="1.0" />
<path d="M459.30,154.20 C459.88,154.35 461.75,154.43 462.80,155.10 C463.85,155.77 464.78,156.98 465.60,158.20 C466.42,159.42 466.88,161.35 467.70,162.40 C468.52,163.45 469.57,163.80 470.50,164.50 C471.43,165.20 472.48,165.55 473.30,166.60 C474.12,167.65 474.58,171.03 475.40,170.80 C476.22,170.57 477.27,166.83 478.20,165.20 C479.13,163.57 480.05,160.53 481.00,161.00 C481.95,161.47 482.95,165.78 483.90,168.00 C484.85,170.22 485.77,173.37 486.70,174.30 C487.63,175.23 488.68,174.65 489.50,173.60 C490.32,172.55 490.90,168.35 491.60,168.00 C492.30,167.65 492.88,170.10 493.70,171.50 C494.52,172.90 495.57,175.35 496.50,176.40 C497.43,177.45 498.37,178.38 499.30,177.80 C500.23,177.22 501.17,173.60 502.10,172.90 C503.03,172.20 503.97,173.13 504.90,173.60 C505.83,174.07 506.77,176.05 507.70,175.70 C508.63,175.35 509.57,172.43 510.50,171.50 C511.43,170.57 512.37,169.87 513.30,170.10 C514.23,170.33 515.17,171.50 516.10,172.90 C517.03,174.30 517.92,177.22 518.90,178.50 C519.88,179.78 521.13,178.62 522.00,180.60 C522.87,182.58 523.45,188.18 524.10,190.40 C524.75,192.62 525.20,195.07 525.90,193.90 C526.60,192.73 527.55,186.78 528.30,183.40 C529.05,180.02 529.58,175.82 530.40,173.60 C531.22,171.38 532.27,170.10 533.20,170.10 C534.13,170.10 534.95,173.95 536.00,173.60 C537.05,173.25 538.33,170.45 539.50,168.00 C540.67,165.55 541.95,159.60 543.00,158.90 C544.05,158.20 544.87,161.58 545.80,163.80 C546.73,166.02 547.77,170.10 548.60,172.20 C549.43,174.30 549.97,176.63 550.80,176.40 C551.63,176.17 552.55,172.78 553.60,170.80 C554.65,168.82 555.93,164.50 557.10,164.50 C558.27,164.50 559.43,169.05 560.60,170.80 C561.77,172.55 562.93,174.30 564.10,175.00 C565.27,175.70 566.55,174.30 567.60,175.00 C568.65,175.70 569.47,177.22 570.40,179.20 C571.33,181.18 572.27,186.43 573.20,186.90 C574.13,187.37 574.95,183.63 576.00,182.00 C577.05,180.37 578.45,177.33 579.50,177.10 C580.55,176.87 581.37,179.08 582.30,180.60 C583.23,182.12 584.63,185.27 585.10,186.20 L585.10,199.20 C584.63,198.27 583.23,195.12 582.30,193.60 C581.37,192.08 580.55,189.87 579.50,190.10 C578.45,190.33 577.05,193.37 576.00,195.00 C574.95,196.63 574.13,200.37 573.20,199.90 C572.27,199.43 571.33,194.18 570.40,192.20 C569.47,190.22 568.65,188.70 567.60,188.00 C566.55,187.30 565.27,188.70 564.10,188.00 C562.93,187.30 561.77,185.55 560.60,183.80 C559.43,182.05 558.27,177.50 557.10,177.50 C555.93,177.50 554.65,181.82 553.60,183.80 C552.55,185.78 551.63,189.17 550.80,189.40 C549.97,189.63 549.43,187.30 548.60,185.20 C547.77,183.10 546.73,179.02 545.80,176.80 C544.87,174.58 544.05,171.20 543.00,171.90 C541.95,172.60 540.67,178.55 539.50,181.00 C538.33,183.45 537.05,186.25 536.00,186.60 C534.95,186.95 534.13,183.10 533.20,183.10 C532.27,183.10 531.22,184.38 530.40,186.60 C529.58,188.82 529.05,193.02 528.30,196.40 C527.55,199.78 526.60,205.73 525.90,206.90 C525.20,208.07 524.75,205.62 524.10,203.40 C523.45,201.18 522.87,195.58 522.00,193.60 C521.13,191.62 519.88,192.78 518.90,191.50 C517.92,190.22 517.03,187.30 516.10,185.90 C515.17,184.50 514.23,183.33 513.30,183.10 C512.37,182.87 511.43,183.57 510.50,184.50 C509.57,185.43 508.63,188.35 507.70,188.70 C506.77,189.05 505.83,187.07 504.90,186.60 C503.97,186.13 503.03,185.20 502.10,185.90 C501.17,186.60 500.23,190.22 499.30,190.80 C498.37,191.38 497.43,190.45 496.50,189.40 C495.57,188.35 494.52,185.90 493.70,184.50 C492.88,183.10 492.30,180.65 491.60,181.00 C490.90,181.35 490.32,185.55 489.50,186.60 C488.68,187.65 487.63,188.23 486.70,187.30 C485.77,186.37 484.85,183.22 483.90,181.00 C482.95,178.78 481.95,174.47 481.00,174.00 C480.05,173.53 479.13,176.57 478.20,178.20 C477.27,179.83 476.22,183.57 475.40,183.80 C474.58,184.03 474.12,180.65 473.30,179.60 C472.48,178.55 471.43,178.20 470.50,177.50 C469.57,176.80 468.52,176.45 467.70,175.40 C466.88,174.35 466.42,172.42 465.60,171.20 C464.78,169.98 463.85,168.77 462.80,168.10 C461.75,167.43 459.88,167.35 459.30,167.20 Z" fill="#D55E00" fill-opacity="0.2" stroke="none"/>
<path d="M459.30,166.10 C459.77,167.38 461.17,170.53 462.10,173.80 C463.03,177.07 464.08,184.53 464.90,185.70 C465.72,186.87 466.18,183.60 467.00,180.80 C467.82,178.00 468.75,171.70 469.80,168.90 C470.85,166.10 472.25,163.65 473.30,164.00 C474.35,164.35 475.17,168.20 476.10,171.00 C477.03,173.80 477.83,181.97 478.90,180.80 C479.97,179.63 481.43,167.73 482.50,164.00 C483.57,160.27 484.37,157.70 485.30,158.40 C486.23,159.10 487.17,164.70 488.10,168.20 C489.03,171.70 489.85,178.70 490.90,179.40 C491.95,180.10 493.35,174.97 494.40,172.40 C495.45,169.83 496.15,164.00 497.20,164.00 C498.25,164.00 499.53,170.07 500.70,172.40 C501.87,174.73 503.15,176.37 504.20,178.00 C505.25,179.63 505.95,182.43 507.00,182.20 C508.05,181.97 509.22,179.17 510.50,176.60 C511.78,174.03 513.42,167.97 514.70,166.80 C515.98,165.63 517.03,168.78 518.20,169.60 C519.37,170.42 520.72,170.77 521.70,171.70 C522.68,172.63 523.23,175.43 524.10,175.20 C524.97,174.97 526.08,170.07 526.90,170.30 C527.72,170.53 528.30,174.62 529.00,176.60 C529.70,178.58 530.28,181.62 531.10,182.20 C531.92,182.78 532.97,180.57 533.90,180.10 C534.83,179.63 535.77,179.98 536.70,179.40 C537.63,178.82 538.57,176.60 539.50,176.60 C540.43,176.60 541.48,178.58 542.30,179.40 C543.12,180.22 543.58,181.73 544.40,181.50 C545.22,181.27 546.25,177.65 547.20,178.00 C548.15,178.35 549.27,183.83 550.10,183.60 C550.93,183.37 551.38,179.75 552.20,176.60 C553.02,173.45 554.07,166.57 555.00,164.70 C555.93,162.83 556.98,164.82 557.80,165.40 C558.62,165.98 559.08,168.20 559.90,168.20 C560.72,168.20 561.77,165.40 562.70,165.40 C563.63,165.40 564.57,167.27 565.50,168.20 C566.43,169.13 567.25,171.12 568.30,171.00 C569.35,170.88 570.63,168.32 571.80,167.50 C572.97,166.68 574.25,165.75 575.30,166.10 C576.35,166.45 577.17,168.32 578.10,169.60 C579.03,170.88 579.97,173.92 580.90,173.80 C581.83,173.68 582.77,170.30 583.70,168.90 C584.63,167.50 586.03,165.98 586.50,165.40 L586.50,178.00 C586.03,178.58 584.63,180.10 583.70,181.50 C582.77,182.90 581.83,186.28 580.90,186.40 C579.97,186.52 579.03,183.48 578.10,182.20 C577.17,180.92 576.35,179.05 575.30,178.70 C574.25,178.35 572.97,179.28 571.80,180.10 C570.63,180.92 569.35,183.48 568.30,183.60 C567.25,183.72 566.43,181.73 565.50,180.80 C564.57,179.87 563.63,178.00 562.70,178.00 C561.77,178.00 560.72,180.80 559.90,180.80 C559.08,180.80 558.62,178.58 557.80,178.00 C556.98,177.42 555.93,175.43 555.00,177.30 C554.07,179.17 553.02,186.05 552.20,189.20 C551.38,192.35 550.93,195.97 550.10,196.20 C549.27,196.43 548.15,190.95 547.20,190.60 C546.25,190.25 545.22,193.87 544.40,194.10 C543.58,194.33 543.12,192.82 542.30,192.00 C541.48,191.18 540.43,189.20 539.50,189.20 C538.57,189.20 537.63,191.42 536.70,192.00 C535.77,192.58 534.83,192.23 533.90,192.70 C532.97,193.17 531.92,195.38 531.10,194.80 C530.28,194.22 529.70,191.18 529.00,189.20 C528.30,187.22 527.72,183.13 526.90,182.90 C526.08,182.67 524.97,187.57 524.10,187.80 C523.23,188.03 522.68,185.23 521.70,184.30 C520.72,183.37 519.37,183.02 518.20,182.20 C517.03,181.38 515.98,178.23 514.70,179.40 C513.42,180.57 511.78,186.63 510.50,189.20 C509.22,191.77 508.05,194.57 507.00,194.80 C505.95,195.03 505.25,192.23 504.20,190.60 C503.15,188.97 501.87,187.33 500.70,185.00 C499.53,182.67 498.25,176.60 497.20,176.60 C496.15,176.60 495.45,182.43 494.40,185.00 C493.35,187.57 491.95,192.70 490.90,192.00 C489.85,191.30 489.03,184.30 488.10,180.80 C487.17,177.30 486.23,171.70 485.30,171.00 C484.37,170.30 483.57,172.87 482.50,176.60 C481.43,180.33 479.97,192.23 478.90,193.40 C477.83,194.57 477.03,186.40 476.10,183.60 C475.17,180.80 474.35,176.95 473.30,176.60 C472.25,176.25 470.85,178.70 469.80,181.50 C468.75,184.30 467.82,190.60 467.00,193.40 C466.18,196.20 465.72,199.47 464.90,198.30 C464.08,197.13 463.03,189.67 462.10,186.40 C461.17,183.13 459.77,179.98 459.30,178.70 Z" fill="#0072B2" fill-opacity="0.2" stroke="none"/>
<path d="M459.30,160.70 C459.88,160.85 461.75,160.93 462.80,161.60 C463.85,162.27 464.78,163.48 465.60,164.70 C466.42,165.92 466.88,167.85 467.70,168.90 C468.52,169.95 469.57,170.30 470.50,171.00 C471.43,171.70 472.48,172.05 473.30,173.10 C474.12,174.15 474.58,177.53 475.40,177.30 C476.22,177.07 477.27,173.33 478.20,171.70 C479.13,170.07 480.05,167.03 481.00,167.50 C481.95,167.97 482.95,172.28 483.90,174.50 C484.85,176.72 485.77,179.87 486.70,180.80 C487.63,181.73 488.68,181.15 489.50,180.10 C490.32,179.05 490.90,174.85 491.60,174.50 C492.30,174.15 492.88,176.60 493.70,178.00 C494.52,179.40 495.57,181.85 496.50,182.90 C497.43,183.95 498.37,184.88 499.30,184.30 C500.23,183.72 501.17,180.10 502.10,179.40 C503.03,178.70 503.97,179.63 504.90,180.10 C505.83,180.57 506.77,182.55 507.70,182.20 C508.63,181.85 509.57,178.93 510.50,178.00 C511.43,177.07 512.37,176.37 513.30,176.60 C514.23,176.83 515.17,178.00 516.10,179.40 C517.03,180.80 517.92,183.72 518.90,185.00 C519.88,186.28 521.13,185.12 522.00,187.10 C522.87,189.08 523.45,194.68 524.10,196.90 C524.75,199.12 525.20,201.57 525.90,200.40 C526.60,199.23 527.55,193.28 528.30,189.90 C529.05,186.52 529.58,182.32 530.40,180.10 C531.22,177.88 532.27,176.60 533.20,176.60 C534.13,176.60 534.95,180.45 536.00,180.10 C537.05,179.75 538.33,176.95 539.50,174.50 C540.67,172.05 541.95,166.10 543.00,165.40 C544.05,164.70 544.87,168.08 545.80,170.30 C546.73,172.52 547.77,176.60 548.60,178.70 C549.43,180.80 549.97,183.13 550.80,182.90 C551.63,182.67 552.55,179.28 553.60,177.30 C554.65,175.32 555.93,171.00 557.10,171.00 C558.27,171.00 559.43,175.55 560.60,177.30 C561.77,179.05 562.93,180.80 564.10,181.50 C565.27,182.20 566.55,180.80 567.60,181.50 C568.65,182.20 569.47,183.72 570.40,185.70 C571.33,187.68 572.27,192.93 573.20,193.40 C574.13,193.87 574.95,190.13 576.00,188.50 C577.05,186.87 578.45,183.83 579.50,183.60 C580.55,183.37 581.37,185.58 582.30,187.10 C583.23,188.62 584.63,191.77 585.10,192.70" fill="none" stroke="#C8703A" stroke-width="1.05" stroke-linejoin="round"/>
<path d="M459.30,172.40 C459.77,173.68 461.17,176.83 462.10,180.10 C463.03,183.37 464.08,190.83 464.90,192.00 C465.72,193.17 466.18,189.90 467.00,187.10 C467.82,184.30 468.75,178.00 469.80,175.20 C470.85,172.40 472.25,169.95 473.30,170.30 C474.35,170.65 475.17,174.50 476.10,177.30 C477.03,180.10 477.83,188.27 478.90,187.10 C479.97,185.93 481.43,174.03 482.50,170.30 C483.57,166.57 484.37,164.00 485.30,164.70 C486.23,165.40 487.17,171.00 488.10,174.50 C489.03,178.00 489.85,185.00 490.90,185.70 C491.95,186.40 493.35,181.27 494.40,178.70 C495.45,176.13 496.15,170.30 497.20,170.30 C498.25,170.30 499.53,176.37 500.70,178.70 C501.87,181.03 503.15,182.67 504.20,184.30 C505.25,185.93 505.95,188.73 507.00,188.50 C508.05,188.27 509.22,185.47 510.50,182.90 C511.78,180.33 513.42,174.27 514.70,173.10 C515.98,171.93 517.03,175.08 518.20,175.90 C519.37,176.72 520.72,177.07 521.70,178.00 C522.68,178.93 523.23,181.73 524.10,181.50 C524.97,181.27 526.08,176.37 526.90,176.60 C527.72,176.83 528.30,180.92 529.00,182.90 C529.70,184.88 530.28,187.92 531.10,188.50 C531.92,189.08 532.97,186.87 533.90,186.40 C534.83,185.93 535.77,186.28 536.70,185.70 C537.63,185.12 538.57,182.90 539.50,182.90 C540.43,182.90 541.48,184.88 542.30,185.70 C543.12,186.52 543.58,188.03 544.40,187.80 C545.22,187.57 546.25,183.95 547.20,184.30 C548.15,184.65 549.27,190.13 550.10,189.90 C550.93,189.67 551.38,186.05 552.20,182.90 C553.02,179.75 554.07,172.87 555.00,171.00 C555.93,169.13 556.98,171.12 557.80,171.70 C558.62,172.28 559.08,174.50 559.90,174.50 C560.72,174.50 561.77,171.70 562.70,171.70 C563.63,171.70 564.57,173.57 565.50,174.50 C566.43,175.43 567.25,177.42 568.30,177.30 C569.35,177.18 570.63,174.62 571.80,173.80 C572.97,172.98 574.25,172.05 575.30,172.40 C576.35,172.75 577.17,174.62 578.10,175.90 C579.03,177.18 579.97,180.22 580.90,180.10 C581.83,179.98 582.77,176.60 583.70,175.20 C584.63,173.80 586.03,172.28 586.50,171.70" fill="none" stroke="#1E6E9C" stroke-width="1.05" stroke-linejoin="round"/>
<line x1="453.20" y1="178.50" x2="592.70" y2="178.50" stroke="#1a1a1a" stroke-width="1.0" />
<line x1="523.00" y1="125.50" x2="523.00" y2="219.50" stroke="#1a1a1a" stroke-width="1.0" />
<line x1="306.50" y1="125.50" x2="306.50" y2="219.50" stroke="#1a1a1a" stroke-width="1.0" />
<line x1="303.00" y1="128.90" x2="306.50" y2="128.90" stroke="#1a1a1a" stroke-width="1.0" />
<text x="301.00" y="132.90" font-size="11.5" text-anchor="end" fill="#1a1a1a" >0.4</text>
<line x1="303.00" y1="153.70" x2="306.50" y2="153.70" stroke="#1a1a1a" stroke-width="1.0" />
<text x="301.00" y="157.70" font-size="11.5" text-anchor="end" fill="#1a1a1a" >0.2</text>
<line x1="303.00" y1="178.50" x2="306.50" y2="178.50" stroke="#1a1a1a" stroke-width="1.0" />
<text x="301.00" y="182.50" font-size="11.5" text-anchor="end" fill="#1a1a1a" >0.0</text>
<line x1="303.00" y1="203.30" x2="306.50" y2="203.30" stroke="#1a1a1a" stroke-width="1.0" />
<text x="301.00" y="207.30" font-size="11.5" text-anchor="end" fill="#1a1a1a" >-0.2</text>
<text x="267.80" y="172.90" font-size="11.7" text-anchor="middle" fill="#444" transform="rotate(-90 267.80 172.90)" >HR [z]</text>
<path d="M312.70,260.40 C313.45,260.52 315.75,260.40 317.20,261.10 C318.65,261.80 320.00,263.32 321.40,264.60 C322.80,265.88 324.32,267.63 325.60,268.80 C326.88,269.97 327.93,271.48 329.10,271.60 C330.27,271.72 331.42,270.08 332.60,269.50 C333.78,268.92 334.90,268.10 336.20,268.10 C337.50,268.10 339.00,268.80 340.40,269.50 C341.80,270.20 343.32,271.37 344.60,272.30 C345.88,273.23 347.05,274.75 348.10,275.10 C349.15,275.45 349.85,275.22 350.90,274.40 C351.95,273.58 353.23,271.60 354.40,270.20 C355.57,268.80 356.62,267.10 357.90,266.00 C359.18,264.90 360.70,263.95 362.10,263.60 C363.50,263.25 364.90,263.62 366.30,263.90 C367.70,264.18 369.33,264.72 370.50,265.30 C371.67,265.88 372.38,267.28 373.30,267.40 C374.22,267.52 374.97,266.93 376.00,266.00 C377.03,265.07 378.22,262.85 379.50,261.80 C380.78,260.75 382.18,260.17 383.70,259.70 C385.22,259.23 387.08,259.23 388.60,259.00 C390.12,258.77 391.40,258.37 392.80,258.30 C394.20,258.23 395.48,258.48 397.00,258.60 C398.52,258.72 400.25,259.05 401.90,259.00 C403.55,258.95 405.37,258.30 406.90,258.30 C408.43,258.30 409.82,258.30 411.10,259.00 C412.38,259.70 413.43,261.33 414.60,262.50 C415.77,263.67 417.05,265.18 418.10,266.00 C419.15,266.82 419.85,267.28 420.90,267.40 C421.95,267.52 423.23,267.52 424.40,266.70 C425.57,265.88 426.73,263.55 427.90,262.50 C429.07,261.45 430.23,260.17 431.40,260.40 C432.57,260.63 433.73,262.73 434.90,263.90 C436.07,265.07 437.58,266.70 438.40,267.40 C439.22,268.10 439.57,267.98 439.80,268.10 L439.80,282.10 C439.57,281.98 439.22,282.10 438.40,281.40 C437.58,280.70 436.07,279.07 434.90,277.90 C433.73,276.73 432.57,274.63 431.40,274.40 C430.23,274.17 429.07,275.45 427.90,276.50 C426.73,277.55 425.57,279.88 424.40,280.70 C423.23,281.52 421.95,281.52 420.90,281.40 C419.85,281.28 419.15,280.82 418.10,280.00 C417.05,279.18 415.77,277.67 414.60,276.50 C413.43,275.33 412.38,273.70 411.10,273.00 C409.82,272.30 408.43,272.30 406.90,272.30 C405.37,272.30 403.55,272.95 401.90,273.00 C400.25,273.05 398.52,272.72 397.00,272.60 C395.48,272.48 394.20,272.23 392.80,272.30 C391.40,272.37 390.12,272.77 388.60,273.00 C387.08,273.23 385.22,273.23 383.70,273.70 C382.18,274.17 380.78,274.75 379.50,275.80 C378.22,276.85 377.03,279.07 376.00,280.00 C374.97,280.93 374.22,281.52 373.30,281.40 C372.38,281.28 371.67,279.88 370.50,279.30 C369.33,278.72 367.70,278.18 366.30,277.90 C364.90,277.62 363.50,277.25 362.10,277.60 C360.70,277.95 359.18,278.90 357.90,280.00 C356.62,281.10 355.57,282.80 354.40,284.20 C353.23,285.60 351.95,287.58 350.90,288.40 C349.85,289.22 349.15,289.45 348.10,289.10 C347.05,288.75 345.88,287.23 344.60,286.30 C343.32,285.37 341.80,284.20 340.40,283.50 C339.00,282.80 337.50,282.10 336.20,282.10 C334.90,282.10 333.78,282.92 332.60,283.50 C331.42,284.08 330.27,285.72 329.10,285.60 C327.93,285.48 326.88,283.97 325.60,282.80 C324.32,281.63 322.80,279.88 321.40,278.60 C320.00,277.32 318.65,275.80 317.20,275.10 C315.75,274.40 313.45,274.52 312.70,274.40 Z" fill="#D55E00" fill-opacity="0.2" stroke="none"/>
<path d="M312.70,276.40 C313.33,277.22 315.28,279.78 316.50,281.30 C317.72,282.82 318.83,284.33 320.00,285.50 C321.17,286.67 322.33,288.30 323.50,288.30 C324.67,288.30 325.72,286.90 327.00,285.50 C328.28,284.10 329.78,281.53 331.20,279.90 C332.62,278.27 334.20,276.52 335.50,275.70 C336.80,274.88 337.72,274.77 339.00,275.00 C340.28,275.23 341.80,276.87 343.20,277.10 C344.60,277.33 346.12,276.87 347.40,276.40 C348.68,275.93 349.73,274.88 350.90,274.30 C352.07,273.72 353.00,273.18 354.40,272.90 C355.80,272.62 357.55,272.60 359.30,272.60 C361.05,272.60 363.03,272.97 364.90,272.90 C366.77,272.83 368.65,272.90 370.50,272.20 C372.35,271.50 374.50,270.22 376.00,268.70 C377.50,267.18 378.22,264.97 379.50,263.10 C380.78,261.23 382.30,259.13 383.70,257.50 C385.10,255.87 386.50,254.43 387.90,253.30 C389.30,252.17 390.70,251.05 392.10,250.70 C393.50,250.35 395.02,250.53 396.30,251.20 C397.58,251.87 398.52,253.42 399.80,254.70 C401.08,255.98 402.58,257.73 404.00,258.90 C405.42,260.07 406.77,261.12 408.30,261.70 C409.83,262.28 411.80,262.75 413.20,262.40 C414.60,262.05 415.42,260.77 416.70,259.60 C417.98,258.43 419.62,256.10 420.90,255.40 C422.18,254.70 423.23,254.70 424.40,255.40 C425.57,256.10 426.73,257.85 427.90,259.60 C429.07,261.35 430.23,263.80 431.40,265.90 C432.57,268.00 433.85,270.68 434.90,272.20 C435.95,273.72 436.88,274.77 437.70,275.00 C438.52,275.23 439.45,273.83 439.80,273.60 L439.80,289.20 C439.45,289.43 438.52,290.83 437.70,290.60 C436.88,290.37 435.95,289.32 434.90,287.80 C433.85,286.28 432.57,283.60 431.40,281.50 C430.23,279.40 429.07,276.95 427.90,275.20 C426.73,273.45 425.57,271.70 424.40,271.00 C423.23,270.30 422.18,270.30 420.90,271.00 C419.62,271.70 417.98,274.03 416.70,275.20 C415.42,276.37 414.60,277.65 413.20,278.00 C411.80,278.35 409.83,277.88 408.30,277.30 C406.77,276.72 405.42,275.67 404.00,274.50 C402.58,273.33 401.08,271.58 399.80,270.30 C398.52,269.02 397.58,267.47 396.30,266.80 C395.02,266.13 393.50,265.95 392.10,266.30 C390.70,266.65 389.30,267.77 387.90,268.90 C386.50,270.03 385.10,271.47 383.70,273.10 C382.30,274.73 380.78,276.83 379.50,278.70 C378.22,280.57 377.50,282.78 376.00,284.30 C374.50,285.82 372.35,287.10 370.50,287.80 C368.65,288.50 366.77,288.43 364.90,288.50 C363.03,288.57 361.05,288.20 359.30,288.20 C357.55,288.20 355.80,288.22 354.40,288.50 C353.00,288.78 352.07,289.32 350.90,289.90 C349.73,290.48 348.68,291.53 347.40,292.00 C346.12,292.47 344.60,292.93 343.20,292.70 C341.80,292.47 340.28,290.83 339.00,290.60 C337.72,290.37 336.80,290.48 335.50,291.30 C334.20,292.12 332.62,293.87 331.20,295.50 C329.78,297.13 328.28,299.70 327.00,301.10 C325.72,302.50 324.67,303.90 323.50,303.90 C322.33,303.90 321.17,302.27 320.00,301.10 C318.83,299.93 317.72,298.42 316.50,296.90 C315.28,295.38 313.33,292.82 312.70,292.00 Z" fill="#0072B2" fill-opacity="0.2" stroke="none"/>
<path d="M312.70,267.40 C313.45,267.52 315.75,267.40 317.20,268.10 C318.65,268.80 320.00,270.32 321.40,271.60 C322.80,272.88 324.32,274.63 325.60,275.80 C326.88,276.97 327.93,278.48 329.10,278.60 C330.27,278.72 331.42,277.08 332.60,276.50 C333.78,275.92 334.90,275.10 336.20,275.10 C337.50,275.10 339.00,275.80 340.40,276.50 C341.80,277.20 343.32,278.37 344.60,279.30 C345.88,280.23 347.05,281.75 348.10,282.10 C349.15,282.45 349.85,282.22 350.90,281.40 C351.95,280.58 353.23,278.60 354.40,277.20 C355.57,275.80 356.62,274.10 357.90,273.00 C359.18,271.90 360.70,270.95 362.10,270.60 C363.50,270.25 364.90,270.62 366.30,270.90 C367.70,271.18 369.33,271.72 370.50,272.30 C371.67,272.88 372.38,274.28 373.30,274.40 C374.22,274.52 374.97,273.93 376.00,273.00 C377.03,272.07 378.22,269.85 379.50,268.80 C380.78,267.75 382.18,267.17 383.70,266.70 C385.22,266.23 387.08,266.23 388.60,266.00 C390.12,265.77 391.40,265.37 392.80,265.30 C394.20,265.23 395.48,265.48 397.00,265.60 C398.52,265.72 400.25,266.05 401.90,266.00 C403.55,265.95 405.37,265.30 406.90,265.30 C408.43,265.30 409.82,265.30 411.10,266.00 C412.38,266.70 413.43,268.33 414.60,269.50 C415.77,270.67 417.05,272.18 418.10,273.00 C419.15,273.82 419.85,274.28 420.90,274.40 C421.95,274.52 423.23,274.52 424.40,273.70 C425.57,272.88 426.73,270.55 427.90,269.50 C429.07,268.45 430.23,267.17 431.40,267.40 C432.57,267.63 433.73,269.73 434.90,270.90 C436.07,272.07 437.58,273.70 438.40,274.40 C439.22,275.10 439.57,274.98 439.80,275.10" fill="none" stroke="#C8703A" stroke-width="1.05" stroke-linejoin="round"/>
<path d="M312.70,284.20 C313.33,285.02 315.28,287.58 316.50,289.10 C317.72,290.62 318.83,292.13 320.00,293.30 C321.17,294.47 322.33,296.10 323.50,296.10 C324.67,296.10 325.72,294.70 327.00,293.30 C328.28,291.90 329.78,289.33 331.20,287.70 C332.62,286.07 334.20,284.32 335.50,283.50 C336.80,282.68 337.72,282.57 339.00,282.80 C340.28,283.03 341.80,284.67 343.20,284.90 C344.60,285.13 346.12,284.67 347.40,284.20 C348.68,283.73 349.73,282.68 350.90,282.10 C352.07,281.52 353.00,280.98 354.40,280.70 C355.80,280.42 357.55,280.40 359.30,280.40 C361.05,280.40 363.03,280.77 364.90,280.70 C366.77,280.63 368.65,280.70 370.50,280.00 C372.35,279.30 374.50,278.02 376.00,276.50 C377.50,274.98 378.22,272.77 379.50,270.90 C380.78,269.03 382.30,266.93 383.70,265.30 C385.10,263.67 386.50,262.23 387.90,261.10 C389.30,259.97 390.70,258.85 392.10,258.50 C393.50,258.15 395.02,258.33 396.30,259.00 C397.58,259.67 398.52,261.22 399.80,262.50 C401.08,263.78 402.58,265.53 404.00,266.70 C405.42,267.87 406.77,268.92 408.30,269.50 C409.83,270.08 411.80,270.55 413.20,270.20 C414.60,269.85 415.42,268.57 416.70,267.40 C417.98,266.23 419.62,263.90 420.90,263.20 C422.18,262.50 423.23,262.50 424.40,263.20 C425.57,263.90 426.73,265.65 427.90,267.40 C429.07,269.15 430.23,271.60 431.40,273.70 C432.57,275.80 433.85,278.48 434.90,280.00 C435.95,281.52 436.88,282.57 437.70,282.80 C438.52,283.03 439.45,281.63 439.80,281.40" fill="none" stroke="#1E6E9C" stroke-width="1.05" stroke-linejoin="round"/>
<line x1="306.50" y1="280.50" x2="445.80" y2="280.50" stroke="#1a1a1a" stroke-width="1.0" />
<line x1="376.50" y1="227.50" x2="376.50" y2="321.50" stroke="#1a1a1a" stroke-width="1.0" />
<path d="M459.70,259.00 C460.68,259.05 463.68,259.18 465.60,259.30 C467.52,259.42 469.45,259.52 471.20,259.70 C472.95,259.88 474.70,259.93 476.10,260.40 C477.50,260.87 478.42,261.57 479.60,262.50 C480.78,263.43 481.90,265.77 483.20,266.00 C484.50,266.23 485.88,264.65 487.40,263.90 C488.92,263.15 490.55,262.08 492.30,261.50 C494.05,260.92 496.27,261.02 497.90,260.40 C499.53,259.78 500.70,258.50 502.10,257.80 C503.50,257.10 504.90,256.43 506.30,256.20 C507.70,255.97 509.22,255.70 510.50,256.40 C511.78,257.10 512.83,259.03 514.00,260.40 C515.17,261.77 516.45,263.67 517.50,264.60 C518.55,265.53 519.38,265.77 520.30,266.00 C521.22,266.23 522.02,265.88 523.00,266.00 C523.98,266.12 524.97,266.36 526.20,266.70 C527.43,267.04 529.00,267.48 530.40,268.01 C531.80,268.55 533.43,268.88 534.60,269.92 C535.77,270.95 536.47,272.67 537.40,274.22 C538.33,275.77 539.27,277.67 540.20,279.22 C541.13,280.77 542.07,282.30 543.00,283.53 C543.93,284.76 544.87,285.80 545.80,286.60 C546.73,287.40 547.65,288.30 548.60,288.30 C549.55,288.30 550.43,287.35 551.50,286.60 C552.57,285.85 553.83,284.03 555.00,283.80 C556.17,283.57 557.22,284.50 558.50,285.20 C559.78,285.90 561.30,287.07 562.70,288.00 C564.10,288.93 565.50,289.90 566.90,290.80 C568.30,291.70 569.70,292.73 571.10,293.40 C572.50,294.07 573.90,294.72 575.30,294.80 C576.70,294.88 578.22,294.22 579.50,293.90 C580.78,293.58 581.95,293.07 583.00,292.90 C584.05,292.73 585.33,292.90 585.80,292.90 L585.80,311.90 C585.33,311.90 584.05,311.73 583.00,311.90 C581.95,312.07 580.78,312.58 579.50,312.90 C578.22,313.22 576.70,313.88 575.30,313.80 C573.90,313.72 572.50,313.07 571.10,312.40 C569.70,311.73 568.30,310.70 566.90,309.80 C565.50,308.90 564.10,307.93 562.70,307.00 C561.30,306.07 559.78,304.90 558.50,304.20 C557.22,303.50 556.17,302.57 555.00,302.80 C553.83,303.03 552.57,304.85 551.50,305.60 C550.43,306.35 549.55,307.30 548.60,307.30 C547.65,307.30 546.73,306.54 545.80,305.60 C544.87,304.66 543.93,303.24 543.00,301.67 C542.07,300.10 541.13,298.13 540.20,296.18 C539.27,294.23 538.33,291.93 537.40,289.98 C536.47,288.03 535.77,286.01 534.60,284.48 C533.43,282.95 531.80,281.65 530.40,280.79 C529.00,279.92 527.43,279.66 526.20,279.30 C524.97,278.94 523.98,278.72 523.00,278.60 C522.02,278.48 521.22,278.83 520.30,278.60 C519.38,278.37 518.55,278.13 517.50,277.20 C516.45,276.27 515.17,274.37 514.00,273.00 C512.83,271.63 511.78,269.70 510.50,269.00 C509.22,268.30 507.70,268.57 506.30,268.80 C504.90,269.03 503.50,269.70 502.10,270.40 C500.70,271.10 499.53,272.38 497.90,273.00 C496.27,273.62 494.05,273.52 492.30,274.10 C490.55,274.68 488.92,275.75 487.40,276.50 C485.88,277.25 484.50,278.83 483.20,278.60 C481.90,278.37 480.78,276.03 479.60,275.10 C478.42,274.17 477.50,273.47 476.10,273.00 C474.70,272.53 472.95,272.48 471.20,272.30 C469.45,272.12 467.52,272.02 465.60,271.90 C463.68,271.78 460.68,271.65 459.70,271.60 Z" fill="#D55E00" fill-opacity="0.2" stroke="none"/>
<path d="M459.70,256.20 C460.45,255.82 462.52,254.75 464.20,253.90 C465.88,253.05 468.05,252.03 469.80,251.10 C471.55,250.17 473.07,248.65 474.70,248.30 C476.33,247.95 477.95,248.47 479.60,249.00 C481.25,249.53 482.95,250.80 484.60,251.50 C486.25,252.20 487.75,252.73 489.50,253.20 C491.25,253.67 493.23,253.83 495.10,254.30 C496.97,254.77 499.07,255.68 500.70,256.00 C502.33,256.32 503.50,256.43 504.90,256.20 C506.30,255.97 507.82,255.38 509.10,254.60 C510.38,253.82 511.43,251.93 512.60,251.50 C513.77,251.07 514.93,251.60 516.10,252.00 C517.27,252.40 518.45,253.08 519.60,253.90 C520.75,254.72 521.90,255.73 523.00,256.90 C524.10,258.07 524.97,259.70 526.20,260.90 C527.43,262.10 529.00,263.33 530.40,264.10 C531.80,264.87 533.32,265.80 534.60,265.50 C535.88,265.20 536.82,263.30 538.10,262.30 C539.38,261.30 540.78,260.37 542.30,259.50 C543.82,258.63 545.78,258.03 547.20,257.10 C548.62,256.17 549.62,254.75 550.80,253.90 C551.98,253.05 553.02,251.93 554.30,252.00 C555.58,252.07 557.10,253.05 558.50,254.30 C559.90,255.55 561.30,257.58 562.70,259.50 C564.10,261.42 565.50,263.47 566.90,265.80 C568.30,268.13 569.58,271.40 571.10,273.50 C572.62,275.60 574.60,278.05 576.00,278.40 C577.40,278.75 578.33,277.12 579.50,275.60 C580.67,274.08 581.83,271.28 583.00,269.30 C584.17,267.32 585.92,264.63 586.50,263.70 L586.50,276.70 C585.92,277.63 584.17,280.32 583.00,282.30 C581.83,284.28 580.67,287.08 579.50,288.60 C578.33,290.12 577.40,291.75 576.00,291.40 C574.60,291.05 572.62,288.60 571.10,286.50 C569.58,284.40 568.30,281.13 566.90,278.80 C565.50,276.47 564.10,274.42 562.70,272.50 C561.30,270.58 559.90,268.55 558.50,267.30 C557.10,266.05 555.58,265.07 554.30,265.00 C553.02,264.93 551.98,266.05 550.80,266.90 C549.62,267.75 548.62,269.17 547.20,270.10 C545.78,271.03 543.82,271.63 542.30,272.50 C540.78,273.37 539.38,274.30 538.10,275.30 C536.82,276.30 535.88,278.20 534.60,278.50 C533.32,278.80 531.80,277.87 530.40,277.10 C529.00,276.33 527.43,275.10 526.20,273.90 C524.97,272.70 524.10,271.07 523.00,269.90 C521.90,268.73 520.75,267.72 519.60,266.90 C518.45,266.08 517.27,265.40 516.10,265.00 C514.93,264.60 513.77,264.07 512.60,264.50 C511.43,264.93 510.38,266.82 509.10,267.60 C507.82,268.38 506.30,268.97 504.90,269.20 C503.50,269.43 502.33,269.32 500.70,269.00 C499.07,268.68 496.97,267.77 495.10,267.30 C493.23,266.83 491.25,266.67 489.50,266.20 C487.75,265.73 486.25,265.20 484.60,264.50 C482.95,263.80 481.25,262.53 479.60,262.00 C477.95,261.47 476.33,260.95 474.70,261.30 C473.07,261.65 471.55,263.17 469.80,264.10 C468.05,265.03 465.88,266.05 464.20,266.90 C462.52,267.75 460.45,268.82 459.70,269.20 Z" fill="#0072B2" fill-opacity="0.2" stroke="none"/>
<path d="M459.70,265.30 C460.68,265.35 463.68,265.48 465.60,265.60 C467.52,265.72 469.45,265.82 471.20,266.00 C472.95,266.18 474.70,266.23 476.10,266.70 C477.50,267.17 478.42,267.87 479.60,268.80 C480.78,269.73 481.90,272.07 483.20,272.30 C484.50,272.53 485.88,270.95 487.40,270.20 C488.92,269.45 490.55,268.38 492.30,267.80 C494.05,267.22 496.27,267.32 497.90,266.70 C499.53,266.08 500.70,264.80 502.10,264.10 C503.50,263.40 504.90,262.73 506.30,262.50 C507.70,262.27 509.22,262.00 510.50,262.70 C511.78,263.40 512.83,265.33 514.00,266.70 C515.17,268.07 516.45,269.97 517.50,270.90 C518.55,271.83 519.38,272.07 520.30,272.30 C521.22,272.53 522.02,272.18 523.00,272.30 C523.98,272.42 524.97,272.65 526.20,273.00 C527.43,273.35 529.00,273.70 530.40,274.40 C531.80,275.10 533.43,275.92 534.60,277.20 C535.77,278.48 536.47,280.35 537.40,282.10 C538.33,283.85 539.27,285.95 540.20,287.70 C541.13,289.45 542.07,291.20 543.00,292.60 C543.93,294.00 544.87,295.23 545.80,296.10 C546.73,296.97 547.65,297.80 548.60,297.80 C549.55,297.80 550.43,296.85 551.50,296.10 C552.57,295.35 553.83,293.53 555.00,293.30 C556.17,293.07 557.22,294.00 558.50,294.70 C559.78,295.40 561.30,296.57 562.70,297.50 C564.10,298.43 565.50,299.40 566.90,300.30 C568.30,301.20 569.70,302.23 571.10,302.90 C572.50,303.57 573.90,304.22 575.30,304.30 C576.70,304.38 578.22,303.72 579.50,303.40 C580.78,303.08 581.95,302.57 583.00,302.40 C584.05,302.23 585.33,302.40 585.80,302.40" fill="none" stroke="#C8703A" stroke-width="1.05" stroke-linejoin="round"/>
<path d="M459.70,262.70 C460.45,262.32 462.52,261.25 464.20,260.40 C465.88,259.55 468.05,258.53 469.80,257.60 C471.55,256.67 473.07,255.15 474.70,254.80 C476.33,254.45 477.95,254.97 479.60,255.50 C481.25,256.03 482.95,257.30 484.60,258.00 C486.25,258.70 487.75,259.23 489.50,259.70 C491.25,260.17 493.23,260.33 495.10,260.80 C496.97,261.27 499.07,262.18 500.70,262.50 C502.33,262.82 503.50,262.93 504.90,262.70 C506.30,262.47 507.82,261.88 509.10,261.10 C510.38,260.32 511.43,258.43 512.60,258.00 C513.77,257.57 514.93,258.10 516.10,258.50 C517.27,258.90 518.45,259.58 519.60,260.40 C520.75,261.22 521.90,262.23 523.00,263.40 C524.10,264.57 524.97,266.20 526.20,267.40 C527.43,268.60 529.00,269.83 530.40,270.60 C531.80,271.37 533.32,272.30 534.60,272.00 C535.88,271.70 536.82,269.80 538.10,268.80 C539.38,267.80 540.78,266.87 542.30,266.00 C543.82,265.13 545.78,264.53 547.20,263.60 C548.62,262.67 549.62,261.25 550.80,260.40 C551.98,259.55 553.02,258.43 554.30,258.50 C555.58,258.57 557.10,259.55 558.50,260.80 C559.90,262.05 561.30,264.08 562.70,266.00 C564.10,267.92 565.50,269.97 566.90,272.30 C568.30,274.63 569.58,277.90 571.10,280.00 C572.62,282.10 574.60,284.55 576.00,284.90 C577.40,285.25 578.33,283.62 579.50,282.10 C580.67,280.58 581.83,277.78 583.00,275.80 C584.17,273.82 585.92,271.13 586.50,270.20" fill="none" stroke="#1E6E9C" stroke-width="1.05" stroke-linejoin="round"/>
<line x1="453.20" y1="280.50" x2="592.70" y2="280.50" stroke="#1a1a1a" stroke-width="1.0" />
<line x1="523.00" y1="227.50" x2="523.00" y2="321.50" stroke="#1a1a1a" stroke-width="1.0" />
<line x1="547.50" y1="227.50" x2="547.50" y2="321.50" stroke="#c83a3e" stroke-width="1.2" />
<line x1="554.50" y1="227.50" x2="554.50" y2="321.50" stroke="#c83a3e" stroke-width="1.2" />
<line x1="306.50" y1="227.50" x2="306.50" y2="321.50" stroke="#1a1a1a" stroke-width="1.0" />
<line x1="303.00" y1="230.90" x2="306.50" y2="230.90" stroke="#1a1a1a" stroke-width="1.0" />
<text x="301.00" y="234.90" font-size="11.5" text-anchor="end" fill="#1a1a1a" >0.4</text>
<line x1="303.00" y1="255.70" x2="306.50" y2="255.70" stroke="#1a1a1a" stroke-width="1.0" />
<text x="301.00" y="259.70" font-size="11.5" text-anchor="end" fill="#1a1a1a" >0.2</text>
<line x1="303.00" y1="280.50" x2="306.50" y2="280.50" stroke="#1a1a1a" stroke-width="1.0" />
<text x="301.00" y="284.50" font-size="11.5" text-anchor="end" fill="#1a1a1a" >0.0</text>
<line x1="303.00" y1="305.30" x2="306.50" y2="305.30" stroke="#1a1a1a" stroke-width="1.0" />
<text x="301.00" y="309.30" font-size="11.5" text-anchor="end" fill="#1a1a1a" >-0.2</text>
<text x="267.80" y="274.90" font-size="11.7" text-anchor="middle" fill="#444" transform="rotate(-90 267.80 274.90)" >RR [z]</text>
<path d="M312.70,385.40 C313.45,385.30 315.75,385.08 317.20,384.80 C318.65,384.52 320.00,384.17 321.40,383.70 C322.80,383.23 324.20,382.70 325.60,382.00 C327.00,381.30 328.40,380.27 329.80,379.50 C331.20,378.73 332.58,377.92 334.00,377.40 C335.42,376.88 336.88,376.70 338.30,376.40 C339.72,376.10 341.22,375.90 342.50,375.60 C343.78,375.30 344.95,375.23 346.00,374.60 C347.05,373.97 347.75,372.50 348.80,371.80 C349.85,371.10 351.02,370.52 352.30,370.40 C353.58,370.28 355.10,370.87 356.50,371.10 C357.90,371.33 359.30,371.85 360.70,371.80 C362.10,371.75 363.50,371.03 364.90,370.80 C366.30,370.57 367.82,370.35 369.10,370.40 C370.38,370.45 371.45,370.33 372.60,371.10 C373.75,371.87 374.73,373.83 376.00,375.00 C377.27,376.17 378.80,377.35 380.20,378.10 C381.60,378.85 383.00,379.03 384.40,379.50 C385.80,379.97 387.20,380.43 388.60,380.90 C390.00,381.37 391.28,381.95 392.80,382.30 C394.32,382.65 396.18,382.42 397.70,383.00 C399.22,383.58 400.48,384.75 401.90,385.80 C403.32,386.85 404.78,388.13 406.20,389.30 C407.62,390.47 408.88,392.33 410.40,392.80 C411.92,393.27 413.78,392.68 415.30,392.10 C416.82,391.52 418.10,390.35 419.50,389.30 C420.90,388.25 422.30,386.97 423.70,385.80 C425.10,384.63 426.62,383.58 427.90,382.30 C429.18,381.02 430.23,379.73 431.40,378.10 C432.57,376.47 433.85,374.02 434.90,372.50 C435.95,370.98 436.88,369.82 437.70,369.00 C438.52,368.18 439.45,367.83 439.80,367.60 L439.80,382.40 C439.45,382.63 438.52,382.98 437.70,383.80 C436.88,384.62 435.95,385.78 434.90,387.30 C433.85,388.82 432.57,391.27 431.40,392.90 C430.23,394.53 429.18,395.82 427.90,397.10 C426.62,398.38 425.10,399.43 423.70,400.60 C422.30,401.77 420.90,403.05 419.50,404.10 C418.10,405.15 416.82,406.32 415.30,406.90 C413.78,407.48 411.92,408.07 410.40,407.60 C408.88,407.13 407.62,405.27 406.20,404.10 C404.78,402.93 403.32,401.65 401.90,400.60 C400.48,399.55 399.22,398.38 397.70,397.80 C396.18,397.22 394.32,397.45 392.80,397.10 C391.28,396.75 390.00,396.17 388.60,395.70 C387.20,395.23 385.80,394.77 384.40,394.30 C383.00,393.83 381.60,393.65 380.20,392.90 C378.80,392.15 377.27,390.97 376.00,389.80 C374.73,388.63 373.75,386.67 372.60,385.90 C371.45,385.13 370.38,385.25 369.10,385.20 C367.82,385.15 366.30,385.37 364.90,385.60 C363.50,385.83 362.10,386.55 360.70,386.60 C359.30,386.65 357.90,386.13 356.50,385.90 C355.10,385.67 353.58,385.08 352.30,385.20 C351.02,385.32 349.85,385.90 348.80,386.60 C347.75,387.30 347.05,388.77 346.00,389.40 C344.95,390.03 343.78,390.10 342.50,390.40 C341.22,390.70 339.72,390.90 338.30,391.20 C336.88,391.50 335.42,391.68 334.00,392.20 C332.58,392.72 331.20,393.53 329.80,394.30 C328.40,395.07 327.00,396.10 325.60,396.80 C324.20,397.50 322.80,398.03 321.40,398.50 C320.00,398.97 318.65,399.32 317.20,399.60 C315.75,399.88 313.45,400.10 312.70,400.20 Z" fill="#D55E00" fill-opacity="0.2" stroke="none"/>
<path d="M312.70,372.00 C313.45,372.18 315.75,372.73 317.20,373.10 C318.65,373.47 320.00,373.92 321.40,374.20 C322.80,374.48 324.32,374.87 325.60,374.80 C326.88,374.73 327.93,374.43 329.10,373.80 C330.27,373.17 331.30,371.70 332.60,371.00 C333.90,370.30 335.48,369.72 336.90,369.60 C338.32,369.48 339.82,369.83 341.10,370.30 C342.38,370.77 343.55,371.70 344.60,372.40 C345.65,373.10 346.35,374.27 347.40,374.50 C348.45,374.73 349.62,373.97 350.90,373.80 C352.18,373.63 353.70,373.67 355.10,373.50 C356.50,373.33 357.90,373.22 359.30,372.80 C360.70,372.38 362.10,371.60 363.50,371.00 C364.90,370.40 366.30,369.55 367.70,369.20 C369.10,368.85 370.52,369.18 371.90,368.90 C373.28,368.62 374.62,368.02 376.00,367.50 C377.38,366.98 378.68,366.32 380.20,365.80 C381.72,365.28 383.47,364.63 385.10,364.40 C386.73,364.17 388.48,364.23 390.00,364.40 C391.52,364.57 392.80,364.88 394.20,365.40 C395.60,365.92 397.00,366.87 398.40,367.50 C399.80,368.13 401.18,368.50 402.60,369.20 C404.02,369.90 405.48,370.93 406.90,371.70 C408.32,372.47 409.58,373.15 411.10,373.80 C412.62,374.45 414.37,375.25 416.00,375.60 C417.63,375.95 419.15,375.97 420.90,375.90 C422.65,375.83 424.63,375.43 426.50,375.20 C428.37,374.97 430.47,374.73 432.10,374.50 C433.73,374.27 435.02,373.92 436.30,373.80 C437.58,373.68 439.22,373.80 439.80,373.80 L439.80,390.20 C439.22,390.20 437.58,390.08 436.30,390.20 C435.02,390.32 433.73,390.67 432.10,390.90 C430.47,391.13 428.37,391.37 426.50,391.60 C424.63,391.83 422.65,392.23 420.90,392.30 C419.15,392.37 417.63,392.35 416.00,392.00 C414.37,391.65 412.62,390.85 411.10,390.20 C409.58,389.55 408.32,388.87 406.90,388.10 C405.48,387.33 404.02,386.30 402.60,385.60 C401.18,384.90 399.80,384.53 398.40,383.90 C397.00,383.27 395.60,382.32 394.20,381.80 C392.80,381.28 391.52,380.97 390.00,380.80 C388.48,380.63 386.73,380.57 385.10,380.80 C383.47,381.03 381.72,381.68 380.20,382.20 C378.68,382.72 377.38,383.38 376.00,383.90 C374.62,384.42 373.28,385.02 371.90,385.30 C370.52,385.58 369.10,385.25 367.70,385.60 C366.30,385.95 364.90,386.80 363.50,387.40 C362.10,388.00 360.70,388.78 359.30,389.20 C357.90,389.62 356.50,389.73 355.10,389.90 C353.70,390.07 352.18,390.03 350.90,390.20 C349.62,390.37 348.45,391.13 347.40,390.90 C346.35,390.67 345.65,389.50 344.60,388.80 C343.55,388.10 342.38,387.17 341.10,386.70 C339.82,386.23 338.32,385.88 336.90,386.00 C335.48,386.12 333.90,386.70 332.60,387.40 C331.30,388.10 330.27,389.57 329.10,390.20 C327.93,390.83 326.88,391.13 325.60,391.20 C324.32,391.27 322.80,390.88 321.40,390.60 C320.00,390.32 318.65,389.87 317.20,389.50 C315.75,389.13 313.45,388.58 312.70,388.40 Z" fill="#0072B2" fill-opacity="0.2" stroke="none"/>
<path d="M312.70,392.80 C313.45,392.70 315.75,392.48 317.20,392.20 C318.65,391.92 320.00,391.57 321.40,391.10 C322.80,390.63 324.20,390.10 325.60,389.40 C327.00,388.70 328.40,387.67 329.80,386.90 C331.20,386.13 332.58,385.32 334.00,384.80 C335.42,384.28 336.88,384.10 338.30,383.80 C339.72,383.50 341.22,383.30 342.50,383.00 C343.78,382.70 344.95,382.63 346.00,382.00 C347.05,381.37 347.75,379.90 348.80,379.20 C349.85,378.50 351.02,377.92 352.30,377.80 C353.58,377.68 355.10,378.27 356.50,378.50 C357.90,378.73 359.30,379.25 360.70,379.20 C362.10,379.15 363.50,378.43 364.90,378.20 C366.30,377.97 367.82,377.75 369.10,377.80 C370.38,377.85 371.45,377.73 372.60,378.50 C373.75,379.27 374.73,381.23 376.00,382.40 C377.27,383.57 378.80,384.75 380.20,385.50 C381.60,386.25 383.00,386.43 384.40,386.90 C385.80,387.37 387.20,387.83 388.60,388.30 C390.00,388.77 391.28,389.35 392.80,389.70 C394.32,390.05 396.18,389.82 397.70,390.40 C399.22,390.98 400.48,392.15 401.90,393.20 C403.32,394.25 404.78,395.53 406.20,396.70 C407.62,397.87 408.88,399.73 410.40,400.20 C411.92,400.67 413.78,400.08 415.30,399.50 C416.82,398.92 418.10,397.75 419.50,396.70 C420.90,395.65 422.30,394.37 423.70,393.20 C425.10,392.03 426.62,390.98 427.90,389.70 C429.18,388.42 430.23,387.13 431.40,385.50 C432.57,383.87 433.85,381.42 434.90,379.90 C435.95,378.38 436.88,377.22 437.70,376.40 C438.52,375.58 439.45,375.23 439.80,375.00" fill="none" stroke="#C8703A" stroke-width="1.05" stroke-linejoin="round"/>
<path d="M312.70,380.20 C313.45,380.38 315.75,380.93 317.20,381.30 C318.65,381.67 320.00,382.12 321.40,382.40 C322.80,382.68 324.32,383.07 325.60,383.00 C326.88,382.93 327.93,382.63 329.10,382.00 C330.27,381.37 331.30,379.90 332.60,379.20 C333.90,378.50 335.48,377.92 336.90,377.80 C338.32,377.68 339.82,378.03 341.10,378.50 C342.38,378.97 343.55,379.90 344.60,380.60 C345.65,381.30 346.35,382.47 347.40,382.70 C348.45,382.93 349.62,382.17 350.90,382.00 C352.18,381.83 353.70,381.87 355.10,381.70 C356.50,381.53 357.90,381.42 359.30,381.00 C360.70,380.58 362.10,379.80 363.50,379.20 C364.90,378.60 366.30,377.75 367.70,377.40 C369.10,377.05 370.52,377.38 371.90,377.10 C373.28,376.82 374.62,376.22 376.00,375.70 C377.38,375.18 378.68,374.52 380.20,374.00 C381.72,373.48 383.47,372.83 385.10,372.60 C386.73,372.37 388.48,372.43 390.00,372.60 C391.52,372.77 392.80,373.08 394.20,373.60 C395.60,374.12 397.00,375.07 398.40,375.70 C399.80,376.33 401.18,376.70 402.60,377.40 C404.02,378.10 405.48,379.13 406.90,379.90 C408.32,380.67 409.58,381.35 411.10,382.00 C412.62,382.65 414.37,383.45 416.00,383.80 C417.63,384.15 419.15,384.17 420.90,384.10 C422.65,384.03 424.63,383.63 426.50,383.40 C428.37,383.17 430.47,382.93 432.10,382.70 C433.73,382.47 435.02,382.12 436.30,382.00 C437.58,381.88 439.22,382.00 439.80,382.00" fill="none" stroke="#1E6E9C" stroke-width="1.05" stroke-linejoin="round"/>
<line x1="306.50" y1="382.50" x2="445.80" y2="382.50" stroke="#1a1a1a" stroke-width="1.0" />
<line x1="376.50" y1="329.50" x2="376.50" y2="423.50" stroke="#1a1a1a" stroke-width="1.0" />
<path d="M459.70,378.49 C460.45,378.12 462.75,376.91 464.20,376.30 C465.65,375.69 467.00,375.08 468.40,374.82 C469.80,374.56 471.08,374.89 472.60,374.74 C474.12,374.60 475.85,374.22 477.50,373.95 C479.15,373.69 480.97,373.07 482.50,373.16 C484.03,373.24 485.18,373.81 486.70,374.48 C488.22,375.15 489.97,376.28 491.60,377.18 C493.23,378.09 494.87,379.29 496.50,379.89 C498.13,380.49 499.88,380.76 501.40,380.80 C502.92,380.84 504.20,380.66 505.60,380.12 C507.00,379.58 508.40,378.61 509.80,377.54 C511.20,376.47 512.60,375.03 514.00,373.70 C515.40,372.37 516.70,371.13 518.20,369.57 C519.70,368.01 521.43,365.38 523.00,364.35 C524.57,363.32 525.67,363.65 527.60,363.39 C529.53,363.12 532.50,363.17 534.60,362.77 C536.70,362.36 538.45,361.02 540.20,360.95 C541.95,360.88 543.45,361.64 545.10,362.33 C546.75,363.03 548.33,364.42 550.10,365.12 C551.87,365.81 553.83,366.20 555.70,366.50 C557.57,366.79 559.43,366.89 561.30,366.88 C563.17,366.87 565.15,366.88 566.90,366.46 C568.65,366.04 570.05,365.12 571.80,364.35 C573.55,363.57 575.88,362.12 577.40,361.83 C578.92,361.54 579.73,362.09 580.90,362.62 C582.07,363.15 583.52,364.26 584.40,365.01 C585.28,365.75 585.90,366.75 586.20,367.10 L586.20,387.10 C585.90,386.75 585.28,385.75 584.40,384.99 C583.52,384.24 582.07,383.12 580.90,382.58 C579.73,382.05 578.92,381.49 577.40,381.77 C575.88,382.05 573.55,383.49 571.80,384.25 C570.05,385.02 568.65,385.93 566.90,386.34 C565.15,386.75 563.17,386.73 561.30,386.72 C559.43,386.71 557.57,386.61 555.70,386.30 C553.83,386.00 551.87,385.59 550.10,384.88 C548.33,384.18 546.75,382.77 545.10,382.07 C543.45,381.36 541.95,380.59 540.20,380.65 C538.45,380.71 536.70,382.04 534.60,382.43 C532.50,382.83 529.53,382.81 527.60,383.01 C525.67,383.21 524.57,382.91 523.00,383.65 C521.43,384.39 519.70,386.32 518.20,387.43 C516.70,388.54 515.40,389.30 514.00,390.30 C512.60,391.30 511.20,392.53 509.80,393.46 C508.40,394.39 507.00,395.39 505.60,395.88 C504.20,396.37 502.92,396.50 501.40,396.40 C499.88,396.30 498.13,395.97 496.50,395.31 C494.87,394.64 493.23,393.38 491.60,392.42 C489.97,391.45 488.22,390.25 486.70,389.52 C485.18,388.79 484.03,388.19 482.50,388.04 C480.97,387.90 479.15,388.45 477.50,388.65 C475.85,388.85 474.12,389.17 472.60,389.26 C471.08,389.34 469.80,388.97 468.40,389.18 C467.00,389.38 465.65,389.94 464.20,390.50 C462.75,391.05 460.45,392.18 459.70,392.51 Z" fill="#D55E00" fill-opacity="0.2" stroke="none"/>
<path d="M459.70,379.20 C460.68,379.27 463.92,379.48 465.60,379.60 C467.28,379.72 468.40,379.62 469.80,379.90 C471.20,380.18 472.60,381.30 474.00,381.30 C475.40,381.30 476.55,380.37 478.20,379.90 C479.85,379.43 482.02,378.97 483.90,378.50 C485.78,378.03 487.63,377.45 489.50,377.10 C491.37,376.75 493.58,376.40 495.10,376.40 C496.62,376.40 497.43,376.28 498.60,377.10 C499.77,377.92 500.82,379.90 502.10,381.30 C503.38,382.70 504.90,384.38 506.30,385.50 C507.70,386.62 509.10,387.53 510.50,388.00 C511.90,388.47 513.30,388.60 514.70,388.30 C516.10,388.00 517.52,387.32 518.90,386.20 C520.28,385.08 522.02,383.00 523.00,381.60 C523.98,380.20 523.80,378.55 524.80,377.80 C525.80,377.05 527.60,377.10 529.00,377.10 C530.40,377.10 531.80,377.33 533.20,377.80 C534.60,378.27 535.77,379.08 537.40,379.90 C539.03,380.72 541.37,382.12 543.00,382.70 C544.63,383.28 545.78,383.52 547.20,383.40 C548.62,383.28 550.08,382.58 551.50,382.00 C552.92,381.42 554.30,380.72 555.70,379.90 C557.10,379.08 558.50,378.03 559.90,377.10 C561.30,376.17 562.70,375.12 564.10,374.30 C565.50,373.48 566.67,372.62 568.30,372.20 C569.93,371.78 572.03,371.87 573.90,371.80 C575.77,371.73 577.45,371.73 579.50,371.80 C581.55,371.87 585.08,372.13 586.20,372.20 L586.20,386.20 C585.08,386.13 581.55,385.87 579.50,385.80 C577.45,385.73 575.77,385.73 573.90,385.80 C572.03,385.87 569.93,385.78 568.30,386.20 C566.67,386.62 565.50,387.48 564.10,388.30 C562.70,389.12 561.30,390.17 559.90,391.10 C558.50,392.03 557.10,393.08 555.70,393.90 C554.30,394.72 552.92,395.42 551.50,396.00 C550.08,396.58 548.62,397.28 547.20,397.40 C545.78,397.52 544.63,397.28 543.00,396.70 C541.37,396.12 539.03,394.72 537.40,393.90 C535.77,393.08 534.60,392.27 533.20,391.80 C531.80,391.33 530.40,391.10 529.00,391.10 C527.60,391.10 525.80,391.05 524.80,391.80 C523.80,392.55 523.98,394.20 523.00,395.60 C522.02,397.00 520.28,399.08 518.90,400.20 C517.52,401.32 516.10,402.00 514.70,402.30 C513.30,402.60 511.90,402.47 510.50,402.00 C509.10,401.53 507.70,400.62 506.30,399.50 C504.90,398.38 503.38,396.70 502.10,395.30 C500.82,393.90 499.77,391.92 498.60,391.10 C497.43,390.28 496.62,390.40 495.10,390.40 C493.58,390.40 491.37,390.75 489.50,391.10 C487.63,391.45 485.78,392.03 483.90,392.50 C482.02,392.97 479.85,393.43 478.20,393.90 C476.55,394.37 475.40,395.30 474.00,395.30 C472.60,395.30 471.20,394.18 469.80,393.90 C468.40,393.62 467.28,393.72 465.60,393.60 C463.92,393.48 460.68,393.27 459.70,393.20 Z" fill="#0072B2" fill-opacity="0.2" stroke="none"/>
<path d="M459.70,385.50 C460.45,385.15 462.75,383.98 464.20,383.40 C465.65,382.82 467.00,382.23 468.40,382.00 C469.80,381.77 471.08,382.12 472.60,382.00 C474.12,381.88 475.85,381.53 477.50,381.30 C479.15,381.07 480.97,380.48 482.50,380.60 C484.03,380.72 485.18,381.30 486.70,382.00 C488.22,382.70 489.97,383.87 491.60,384.80 C493.23,385.73 494.87,386.97 496.50,387.60 C498.13,388.23 499.88,388.53 501.40,388.60 C502.92,388.67 504.20,388.52 505.60,388.00 C507.00,387.48 508.40,386.50 509.80,385.50 C511.20,384.50 512.60,383.17 514.00,382.00 C515.40,380.83 516.70,379.83 518.20,378.50 C519.70,377.17 521.43,374.88 523.00,374.00 C524.57,373.12 525.67,373.43 527.60,373.20 C529.53,372.97 532.50,373.00 534.60,372.60 C536.70,372.20 538.45,370.87 540.20,370.80 C541.95,370.73 543.45,371.50 545.10,372.20 C546.75,372.90 548.33,374.30 550.10,375.00 C551.87,375.70 553.83,376.10 555.70,376.40 C557.57,376.70 559.43,376.80 561.30,376.80 C563.17,376.80 565.15,376.82 566.90,376.40 C568.65,375.98 570.05,375.07 571.80,374.30 C573.55,373.53 575.88,372.08 577.40,371.80 C578.92,371.52 579.73,372.07 580.90,372.60 C582.07,373.13 583.52,374.25 584.40,375.00 C585.28,375.75 585.90,376.75 586.20,377.10" fill="none" stroke="#C8703A" stroke-width="1.05" stroke-linejoin="round"/>
<path d="M459.70,386.20 C460.68,386.27 463.92,386.48 465.60,386.60 C467.28,386.72 468.40,386.62 469.80,386.90 C471.20,387.18 472.60,388.30 474.00,388.30 C475.40,388.30 476.55,387.37 478.20,386.90 C479.85,386.43 482.02,385.97 483.90,385.50 C485.78,385.03 487.63,384.45 489.50,384.10 C491.37,383.75 493.58,383.40 495.10,383.40 C496.62,383.40 497.43,383.28 498.60,384.10 C499.77,384.92 500.82,386.90 502.10,388.30 C503.38,389.70 504.90,391.38 506.30,392.50 C507.70,393.62 509.10,394.53 510.50,395.00 C511.90,395.47 513.30,395.60 514.70,395.30 C516.10,395.00 517.52,394.32 518.90,393.20 C520.28,392.08 522.02,390.00 523.00,388.60 C523.98,387.20 523.80,385.55 524.80,384.80 C525.80,384.05 527.60,384.10 529.00,384.10 C530.40,384.10 531.80,384.33 533.20,384.80 C534.60,385.27 535.77,386.08 537.40,386.90 C539.03,387.72 541.37,389.12 543.00,389.70 C544.63,390.28 545.78,390.52 547.20,390.40 C548.62,390.28 550.08,389.58 551.50,389.00 C552.92,388.42 554.30,387.72 555.70,386.90 C557.10,386.08 558.50,385.03 559.90,384.10 C561.30,383.17 562.70,382.12 564.10,381.30 C565.50,380.48 566.67,379.62 568.30,379.20 C569.93,378.78 572.03,378.87 573.90,378.80 C575.77,378.73 577.45,378.73 579.50,378.80 C581.55,378.87 585.08,379.13 586.20,379.20" fill="none" stroke="#1E6E9C" stroke-width="1.05" stroke-linejoin="round"/>
<line x1="453.20" y1="382.50" x2="592.70" y2="382.50" stroke="#1a1a1a" stroke-width="1.0" />
<line x1="523.00" y1="329.50" x2="523.00" y2="423.50" stroke="#1a1a1a" stroke-width="1.0" />
<line x1="306.50" y1="329.50" x2="306.50" y2="423.50" stroke="#1a1a1a" stroke-width="1.0" />
<line x1="303.00" y1="332.90" x2="306.50" y2="332.90" stroke="#1a1a1a" stroke-width="1.0" />
<text x="301.00" y="336.90" font-size="11.5" text-anchor="end" fill="#1a1a1a" >0.4</text>
<line x1="303.00" y1="357.70" x2="306.50" y2="357.70" stroke="#1a1a1a" stroke-width="1.0" />
<text x="301.00" y="361.70" font-size="11.5" text-anchor="end" fill="#1a1a1a" >0.2</text>
<line x1="303.00" y1="382.50" x2="306.50" y2="382.50" stroke="#1a1a1a" stroke-width="1.0" />
<text x="301.00" y="386.50" font-size="11.5" text-anchor="end" fill="#1a1a1a" >0.0</text>
<line x1="303.00" y1="407.30" x2="306.50" y2="407.30" stroke="#1a1a1a" stroke-width="1.0" />
<text x="301.00" y="411.30" font-size="11.5" text-anchor="end" fill="#1a1a1a" >-0.2</text>
<text x="267.80" y="376.90" font-size="11.7" text-anchor="middle" fill="#444" transform="rotate(-90 267.80 376.90)" >RD [z]</text>
<path d="M312.7,446.3 L313.4,446.3 L314.2,447.0 L314.9,446.8 L315.6,447.1 L316.4,446.8 L317.1,447.4 L317.8,447.4 L318.5,447.1 L319.3,447.6 L320.0,447.0 L320.7,447.0 L321.4,447.8 L322.1,447.9 L322.8,447.8 L323.5,447.8 L324.2,447.2 L324.9,447.5 L325.6,448.1 L326.3,447.4 L327.0,447.8 L327.7,447.8 L328.4,448.6 L329.1,448.0 L329.8,448.0 L330.5,448.3 L331.2,449.0 L331.9,448.8 L332.6,449.1 L333.3,449.1 L334.0,449.3 L334.7,449.6 L335.4,449.3 L336.1,448.9 L336.8,449.0 L337.6,449.9 L338.3,449.7 L339.0,450.3 L339.7,450.0 L340.4,450.5 L341.1,450.0 L341.8,450.6 L342.5,450.8 L343.2,451.0 L343.9,450.6 L344.6,450.6 L345.3,451.2 L346.0,451.3 L346.7,451.1 L347.4,451.7 L348.1,452.0 L348.8,452.1 L349.5,451.6 L350.2,452.1 L350.9,452.5 L351.6,452.5 L352.3,452.3 L353.0,452.4 L353.7,453.0 L354.4,453.5 L355.1,452.8 L355.8,453.6 L356.5,453.2 L357.2,453.4 L357.9,454.1 L358.6,454.0 L359.3,453.4 L360.0,453.8 L360.7,453.9 L361.4,454.3 L362.1,454.4 L362.8,454.5 L363.5,454.1 L364.2,454.5 L364.9,454.3 L365.6,454.2 L366.3,454.3 L367.0,454.4 L367.7,454.8 L368.4,454.8 L369.1,454.3 L369.8,454.2 L370.5,454.1 L371.2,453.5 L371.9,452.8 L372.6,453.2 L373.5,451.9 L374.3,452.0 L375.1,450.8 L376.0,450.2 L376.8,449.9 L377.7,449.5 L378.5,448.9 L379.4,448.9 L380.2,448.4 L380.9,447.4 L381.6,447.6 L382.3,447.1 L383.0,446.6 L383.7,446.4 L384.4,446.1 L385.1,445.4 L385.8,444.6 L386.6,444.9 L387.4,444.1 L388.2,444.8 L389.0,444.1 L389.8,443.9 L390.6,443.7 L391.4,443.3 L392.1,443.3 L392.8,443.0 L393.5,442.7 L394.2,442.7 L394.9,442.9 L395.6,442.5 L396.3,442.5 L397.0,442.8 L397.7,442.2 L398.4,441.8 L399.1,441.8 L399.8,442.1 L400.5,442.4 L401.2,442.5 L401.9,441.5 L402.7,442.2 L403.4,442.2 L404.1,442.1 L404.8,442.3 L405.5,441.5 L406.2,442.1 L406.9,441.9 L407.6,441.4 L408.3,442.2 L409.0,441.5 L409.7,441.9 L410.4,441.6 L411.1,441.8 L411.8,442.3 L412.5,441.6 L413.2,442.2 L413.9,442.4 L414.6,442.3 L415.3,441.8 L416.0,442.0 L416.7,441.9 L417.4,441.8 L418.1,442.7 L418.8,442.4 L419.5,442.6 L420.2,442.3 L420.9,442.9 L421.6,442.8 L422.3,443.3 L423.0,443.8 L423.7,443.9 L424.4,444.1 L425.1,443.5 L425.8,444.1 L426.5,444.1 L427.2,444.3 L427.9,445.2 L428.6,445.2 L429.3,445.6 L430.0,446.0 L430.7,445.4 L431.4,446.3 L432.1,445.8 L432.8,446.8 L433.5,446.6 L434.2,446.6 L434.9,446.8 L435.6,447.4 L436.3,447.4 L437.0,447.8 L437.7,448.3 L438.4,449.2 L439.1,449.3 L439.1,465.8 L438.4,465.8 L437.7,464.9 L437.0,464.5 L436.3,464.1 L435.6,464.1 L434.9,463.7 L434.2,463.5 L433.5,463.5 L432.8,463.7 L432.1,462.8 L431.4,463.4 L430.7,462.6 L430.0,463.2 L429.3,462.8 L428.6,462.5 L427.9,462.6 L427.2,461.7 L426.5,461.6 L425.8,461.6 L425.1,461.1 L424.4,461.7 L423.7,461.6 L423.0,461.5 L422.3,461.1 L421.6,460.7 L420.9,460.8 L420.2,460.3 L419.5,460.6 L418.8,460.4 L418.1,460.6 L417.4,459.8 L416.7,459.9 L416.0,460.0 L415.3,459.8 L414.6,460.2 L413.9,460.3 L413.2,460.1 L412.5,459.5 L411.8,460.2 L411.1,459.7 L410.4,459.5 L409.7,459.8 L409.0,459.4 L408.3,460.1 L407.6,459.3 L406.9,459.8 L406.2,459.9 L405.5,459.3 L404.8,460.1 L404.1,459.9 L403.4,460.0 L402.7,460.0 L401.9,459.3 L401.2,460.3 L400.5,460.2 L399.8,459.9 L399.1,459.6 L398.4,459.5 L397.7,459.9 L397.0,460.5 L396.3,460.3 L395.6,460.2 L394.9,460.6 L394.2,460.4 L393.5,460.4 L392.8,460.7 L392.1,461.0 L391.4,461.0 L390.6,461.4 L389.8,461.6 L389.0,461.7 L388.2,462.4 L387.4,461.7 L386.6,462.5 L385.8,462.2 L385.1,463.0 L384.4,463.6 L383.7,463.8 L383.0,463.9 L382.3,464.3 L381.6,464.8 L380.9,464.5 L380.2,465.4 L379.4,465.7 L378.5,465.6 L377.7,466.1 L376.8,466.4 L376.0,466.6 L375.1,467.1 L374.3,468.2 L373.5,467.9 L372.6,469.1 L371.9,468.6 L371.2,469.2 L370.5,469.8 L369.8,469.8 L369.1,469.9 L368.4,470.4 L367.7,470.4 L367.0,470.1 L366.3,470.0 L365.6,469.8 L364.9,470.0 L364.2,470.1 L363.5,469.7 L362.8,470.2 L362.1,470.1 L361.4,469.9 L360.7,469.6 L360.0,469.5 L359.3,469.1 L358.6,469.6 L357.9,469.7 L357.2,469.1 L356.5,468.9 L355.8,469.3 L355.1,468.5 L354.4,469.2 L353.7,468.7 L353.0,468.1 L352.3,468.1 L351.6,468.3 L350.9,468.2 L350.2,467.9 L349.5,467.4 L348.8,467.9 L348.1,467.8 L347.4,467.5 L346.7,466.9 L346.0,467.1 L345.3,467.0 L344.6,466.4 L343.9,466.4 L343.2,466.7 L342.5,466.6 L341.8,466.4 L341.1,465.8 L340.4,466.3 L339.7,465.8 L339.0,466.1 L338.3,465.5 L337.6,465.8 L336.8,464.8 L336.1,464.7 L335.4,465.2 L334.7,465.4 L334.0,465.2 L333.3,465.0 L332.6,465.0 L331.9,464.6 L331.2,464.9 L330.5,464.2 L329.8,463.8 L329.1,463.9 L328.4,464.5 L327.7,463.7 L327.0,463.7 L326.3,463.3 L325.6,464.0 L324.9,463.4 L324.2,463.1 L323.5,463.7 L322.8,463.7 L322.1,463.8 L321.4,463.7 L320.7,463.0 L320.0,463.0 L319.3,463.5 L318.5,463.1 L317.8,463.3 L317.1,463.3 L316.4,462.8 L315.6,463.0 L314.9,462.8 L314.2,462.9 L313.4,462.3 L312.7,462.3 Z" fill="#D55E00" fill-opacity="0.2" stroke="none"/>
<path d="M312.7,451.4 L313.4,451.5 L314.2,452.0 L314.9,452.1 L315.6,452.3 L316.4,452.0 L317.1,452.7 L317.8,452.1 L318.5,452.8 L319.3,452.8 L320.0,452.5 L320.7,453.5 L321.4,453.4 L322.1,453.0 L322.8,453.9 L323.5,454.0 L324.2,454.1 L324.9,453.8 L325.6,454.6 L326.3,455.2 L327.0,455.3 L327.7,454.8 L328.4,455.3 L329.1,455.0 L329.8,455.5 L330.5,455.3 L331.2,455.8 L331.9,455.5 L332.6,456.0 L333.3,456.0 L334.0,456.1 L334.7,456.8 L335.4,457.0 L336.1,456.8 L336.8,457.1 L337.6,457.1 L338.3,457.4 L339.0,457.0 L339.7,457.2 L340.4,457.4 L341.1,457.7 L341.8,457.9 L342.5,458.4 L343.2,458.5 L343.9,458.2 L344.6,458.4 L345.3,458.9 L346.0,459.1 L346.7,458.5 L347.4,459.1 L348.1,458.8 L348.8,459.6 L349.5,460.1 L350.2,459.4 L350.9,459.9 L351.6,460.4 L352.3,459.9 L353.0,459.8 L353.7,460.5 L354.4,460.7 L355.1,460.9 L355.8,461.2 L356.5,460.9 L357.2,461.3 L357.9,461.7 L358.6,461.1 L359.3,461.2 L360.0,461.8 L360.7,461.6 L361.4,462.4 L362.1,462.6 L362.8,462.5 L363.5,462.6 L364.2,462.8 L364.9,462.2 L365.6,462.4 L366.3,462.5 L367.0,463.3 L367.7,463.6 L368.4,463.2 L369.1,463.2 L369.9,463.7 L370.6,464.2 L371.4,464.3 L372.2,463.9 L372.9,464.2 L373.7,464.4 L374.5,465.5 L375.2,465.7 L376.0,465.0 L376.7,466.0 L377.4,466.4 L378.1,466.6 L378.8,466.1 L379.5,467.0 L380.2,466.5 L380.9,466.6 L381.6,466.9 L382.3,467.1 L383.0,468.3 L383.7,468.0 L384.4,468.4 L385.1,468.2 L385.8,468.6 L386.5,469.0 L387.2,468.6 L387.9,469.5 L388.6,468.7 L389.3,469.7 L390.0,469.2 L390.7,469.8 L391.4,469.7 L392.1,470.3 L392.8,469.8 L393.5,470.2 L394.2,470.7 L394.9,470.7 L395.6,470.6 L396.3,470.6 L397.0,471.4 L397.7,471.3 L398.4,470.7 L399.1,471.1 L399.8,471.2 L400.5,472.0 L401.2,471.2 L401.9,472.0 L402.6,471.5 L403.3,471.8 L404.0,471.7 L404.7,472.5 L405.4,472.7 L406.1,472.3 L406.8,472.3 L407.6,472.6 L408.3,473.3 L409.0,472.6 L409.7,472.8 L410.4,472.9 L411.1,473.8 L411.8,473.3 L412.5,473.8 L413.2,474.4 L413.9,474.7 L414.6,474.4 L415.3,475.2 L416.0,475.4 L416.7,475.6 L417.4,475.2 L418.1,475.3 L418.8,476.1 L419.5,475.9 L420.2,476.8 L420.9,476.4 L421.6,477.1 L422.3,477.3 L423.0,477.7 L423.7,477.9 L424.4,477.9 L425.1,478.0 L425.8,478.4 L426.5,478.4 L427.2,478.8 L427.9,479.3 L428.6,479.0 L429.3,479.5 L430.0,479.4 L430.7,480.0 L431.4,480.1 L432.1,479.7 L432.8,480.2 L433.5,480.6 L434.2,480.6 L434.9,481.2 L435.6,481.1 L436.3,481.8 L437.0,481.7 L437.7,481.4 L438.4,482.4 L439.1,482.2 L439.1,497.0 L438.4,497.2 L437.7,496.2 L437.0,496.5 L436.3,496.6 L435.6,495.9 L434.9,496.0 L434.2,495.4 L433.5,495.4 L432.8,495.0 L432.1,494.5 L431.4,494.9 L430.7,494.8 L430.0,494.2 L429.3,494.3 L428.6,493.8 L427.9,494.1 L427.2,493.6 L426.5,493.2 L425.8,493.2 L425.1,492.8 L424.4,492.7 L423.7,492.7 L423.0,492.5 L422.3,492.1 L421.6,491.9 L420.9,491.2 L420.2,491.6 L419.5,490.7 L418.8,490.9 L418.1,490.1 L417.4,490.0 L416.7,490.4 L416.0,490.2 L415.3,490.0 L414.6,489.2 L413.9,489.5 L413.2,489.2 L412.5,488.6 L411.8,488.1 L411.1,488.6 L410.4,487.7 L409.7,487.6 L409.0,487.4 L408.3,488.1 L407.6,487.4 L406.8,487.1 L406.1,487.1 L405.4,487.5 L404.7,487.3 L404.0,486.5 L403.3,486.6 L402.6,486.3 L401.9,486.8 L401.2,486.0 L400.5,486.8 L399.8,486.0 L399.1,485.9 L398.4,485.5 L397.7,486.1 L397.0,486.2 L396.3,485.4 L395.6,485.4 L394.9,485.5 L394.2,485.5 L393.5,485.0 L392.8,484.6 L392.1,485.1 L391.4,484.5 L390.7,484.6 L390.0,484.0 L389.3,484.5 L388.6,483.5 L387.9,484.3 L387.2,483.4 L386.5,483.8 L385.8,483.4 L385.1,483.0 L384.4,483.2 L383.7,482.8 L383.0,483.1 L382.3,481.9 L381.6,481.7 L380.9,481.4 L380.2,481.3 L379.5,481.8 L378.8,480.9 L378.1,481.4 L377.4,481.2 L376.7,480.8 L376.0,479.8 L375.2,480.5 L374.5,480.3 L373.7,479.2 L372.9,479.0 L372.2,478.7 L371.4,479.1 L370.6,479.0 L369.9,478.5 L369.1,478.0 L368.4,478.0 L367.7,478.4 L367.0,478.1 L366.3,477.3 L365.6,477.2 L364.9,477.0 L364.2,477.6 L363.5,477.4 L362.8,477.3 L362.1,477.4 L361.4,477.2 L360.7,476.4 L360.0,476.6 L359.3,476.0 L358.6,475.9 L357.9,476.5 L357.2,476.1 L356.5,475.7 L355.8,476.0 L355.1,475.7 L354.4,475.5 L353.7,475.3 L353.0,474.6 L352.3,474.7 L351.6,475.2 L350.9,474.7 L350.2,474.2 L349.5,474.9 L348.8,474.4 L348.1,473.6 L347.4,473.9 L346.7,473.3 L346.0,473.9 L345.3,473.7 L344.6,473.2 L343.9,473.0 L343.2,473.3 L342.5,473.2 L341.8,472.7 L341.1,472.5 L340.4,472.2 L339.7,472.0 L339.0,471.8 L338.3,472.2 L337.6,471.9 L336.8,471.9 L336.1,471.6 L335.4,471.8 L334.7,471.6 L334.0,470.9 L333.3,470.8 L332.6,470.8 L331.9,470.3 L331.2,470.6 L330.5,470.1 L329.8,470.3 L329.1,469.8 L328.4,470.1 L327.7,469.6 L327.0,470.1 L326.3,470.0 L325.6,469.4 L324.9,468.6 L324.2,468.9 L323.5,468.8 L322.8,468.7 L322.1,467.8 L321.4,468.2 L320.7,468.3 L320.0,467.3 L319.3,467.6 L318.5,467.6 L317.8,466.9 L317.1,467.5 L316.4,466.8 L315.6,467.1 L314.9,466.9 L314.2,466.8 L313.4,466.3 L312.7,466.2 Z" fill="#0072B2" fill-opacity="0.2" stroke="none"/>
<path d="M312.7,454.3 L313.4,454.3 L314.2,455.0 L314.9,454.8 L315.6,455.1 L316.4,454.8 L317.1,455.4 L317.8,455.3 L318.5,455.1 L319.3,455.6 L320.0,455.0 L320.7,455.0 L321.4,455.7 L322.1,455.9 L322.8,455.8 L323.5,455.8 L324.2,455.2 L324.9,455.4 L325.6,456.0 L326.3,455.3 L327.0,455.7 L327.7,455.7 L328.4,456.5 L329.1,455.9 L329.8,455.9 L330.5,456.2 L331.2,456.9 L331.9,456.7 L332.6,457.1 L333.3,457.1 L334.0,457.3 L334.7,457.5 L335.4,457.3 L336.1,456.8 L336.8,456.9 L337.6,457.8 L338.3,457.6 L339.0,458.2 L339.7,457.9 L340.4,458.4 L341.1,457.9 L341.8,458.5 L342.5,458.7 L343.2,458.8 L343.9,458.5 L344.6,458.5 L345.3,459.1 L346.0,459.2 L346.7,459.0 L347.4,459.6 L348.1,459.9 L348.8,460.0 L349.5,459.5 L350.2,460.0 L350.9,460.3 L351.6,460.4 L352.3,460.2 L353.0,460.3 L353.7,460.9 L354.4,461.4 L355.1,460.7 L355.8,461.5 L356.5,461.1 L357.2,461.3 L357.9,461.9 L358.6,461.8 L359.3,461.3 L360.0,461.6 L360.7,461.8 L361.4,462.1 L362.1,462.2 L362.8,462.3 L363.5,461.9 L364.2,462.3 L364.9,462.2 L365.6,462.0 L366.3,462.1 L367.0,462.2 L367.7,462.6 L368.4,462.6 L369.1,462.1 L369.8,462.0 L370.5,462.0 L371.2,461.4 L371.9,460.7 L372.6,461.2 L373.5,459.9 L374.3,460.1 L375.1,458.9 L376.0,458.4 L376.8,458.2 L377.7,457.8 L378.5,457.2 L379.4,457.3 L380.2,456.9 L380.9,456.0 L381.6,456.2 L382.3,455.7 L383.0,455.3 L383.7,455.1 L384.4,454.8 L385.1,454.2 L385.8,453.4 L386.6,453.7 L387.4,452.9 L388.2,453.6 L389.0,452.9 L389.8,452.8 L390.6,452.6 L391.4,452.2 L392.1,452.2 L392.8,451.8 L393.5,451.6 L394.2,451.6 L394.9,451.8 L395.6,451.3 L396.3,451.4 L397.0,451.6 L397.7,451.1 L398.4,450.6 L399.1,450.7 L399.8,451.0 L400.5,451.3 L401.2,451.4 L401.9,450.4 L402.7,451.1 L403.4,451.1 L404.1,451.0 L404.8,451.2 L405.5,450.4 L406.2,451.0 L406.9,450.9 L407.6,450.4 L408.3,451.1 L409.0,450.4 L409.7,450.9 L410.4,450.5 L411.1,450.8 L411.8,451.3 L412.5,450.6 L413.2,451.1 L413.9,451.3 L414.6,451.2 L415.3,450.8 L416.0,451.0 L416.7,450.9 L417.4,450.8 L418.1,451.7 L418.8,451.4 L419.5,451.6 L420.2,451.3 L420.9,451.9 L421.6,451.8 L422.3,452.2 L423.0,452.7 L423.7,452.8 L424.4,452.9 L425.1,452.3 L425.8,452.8 L426.5,452.9 L427.2,453.0 L427.9,453.9 L428.6,453.9 L429.3,454.2 L430.0,454.6 L430.7,454.0 L431.4,454.9 L432.1,454.3 L432.8,455.2 L433.5,455.1 L434.2,455.0 L434.9,455.3 L435.6,455.7 L436.3,455.8 L437.0,456.2 L437.7,456.6 L438.4,457.5 L439.1,457.6" fill="none" stroke="#C8703A" stroke-width="1.05" stroke-linejoin="round"/>
<path d="M312.7,458.8 L313.4,458.9 L314.2,459.4 L314.9,459.5 L315.6,459.7 L316.4,459.4 L317.1,460.1 L317.8,459.5 L318.5,460.2 L319.3,460.2 L320.0,459.9 L320.7,460.9 L321.4,460.8 L322.1,460.4 L322.8,461.3 L323.5,461.4 L324.2,461.5 L324.9,461.2 L325.6,462.0 L326.3,462.6 L327.0,462.7 L327.7,462.2 L328.4,462.7 L329.1,462.4 L329.8,462.9 L330.5,462.7 L331.2,463.2 L331.9,462.9 L332.6,463.4 L333.3,463.4 L334.0,463.5 L334.7,464.2 L335.4,464.4 L336.1,464.2 L336.8,464.5 L337.6,464.5 L338.3,464.8 L339.0,464.4 L339.7,464.6 L340.4,464.8 L341.1,465.1 L341.8,465.3 L342.5,465.8 L343.2,465.9 L343.9,465.6 L344.6,465.8 L345.3,466.3 L346.0,466.5 L346.7,465.9 L347.4,466.5 L348.1,466.2 L348.8,467.0 L349.5,467.5 L350.2,466.8 L350.9,467.3 L351.6,467.8 L352.3,467.3 L353.0,467.2 L353.7,467.9 L354.4,468.1 L355.1,468.3 L355.8,468.6 L356.5,468.3 L357.2,468.7 L357.9,469.1 L358.6,468.5 L359.3,468.6 L360.0,469.2 L360.7,469.0 L361.4,469.8 L362.1,470.0 L362.8,469.9 L363.5,470.0 L364.2,470.2 L364.9,469.6 L365.6,469.8 L366.3,469.9 L367.0,470.7 L367.7,471.0 L368.4,470.6 L369.1,470.6 L369.9,471.1 L370.6,471.6 L371.4,471.7 L372.2,471.3 L372.9,471.6 L373.7,471.8 L374.5,472.9 L375.2,473.1 L376.0,472.4 L376.7,473.4 L377.4,473.8 L378.1,474.0 L378.8,473.5 L379.5,474.4 L380.2,473.9 L380.9,474.0 L381.6,474.3 L382.3,474.5 L383.0,475.7 L383.7,475.4 L384.4,475.8 L385.1,475.6 L385.8,476.0 L386.5,476.4 L387.2,476.0 L387.9,476.9 L388.6,476.1 L389.3,477.1 L390.0,476.6 L390.7,477.2 L391.4,477.1 L392.1,477.7 L392.8,477.2 L393.5,477.6 L394.2,478.1 L394.9,478.1 L395.6,478.0 L396.3,478.0 L397.0,478.8 L397.7,478.7 L398.4,478.1 L399.1,478.5 L399.8,478.6 L400.5,479.4 L401.2,478.6 L401.9,479.4 L402.6,478.9 L403.3,479.2 L404.0,479.1 L404.7,479.9 L405.4,480.1 L406.1,479.7 L406.8,479.7 L407.6,480.0 L408.3,480.7 L409.0,480.0 L409.7,480.2 L410.4,480.3 L411.1,481.2 L411.8,480.7 L412.5,481.2 L413.2,481.8 L413.9,482.1 L414.6,481.8 L415.3,482.6 L416.0,482.8 L416.7,483.0 L417.4,482.6 L418.1,482.7 L418.8,483.5 L419.5,483.3 L420.2,484.2 L420.9,483.8 L421.6,484.5 L422.3,484.7 L423.0,485.1 L423.7,485.3 L424.4,485.3 L425.1,485.4 L425.8,485.8 L426.5,485.8 L427.2,486.2 L427.9,486.7 L428.6,486.4 L429.3,486.9 L430.0,486.8 L430.7,487.4 L431.4,487.5 L432.1,487.1 L432.8,487.6 L433.5,488.0 L434.2,488.0 L434.9,488.6 L435.6,488.5 L436.3,489.2 L437.0,489.1 L437.7,488.8 L438.4,489.8 L439.1,489.6" fill="none" stroke="#1E6E9C" stroke-width="1.05" stroke-linejoin="round"/>
<line x1="306.50" y1="484.50" x2="445.80" y2="484.50" stroke="#1a1a1a" stroke-width="1.0" />
<line x1="376.50" y1="431.50" x2="376.50" y2="525.50" stroke="#1a1a1a" stroke-width="1.0" />
<line x1="412.80" y1="431.50" x2="412.80" y2="525.50" stroke="#c83a3e" stroke-width="1.2" />
<line x1="439.40" y1="431.50" x2="439.40" y2="525.50" stroke="#c83a3e" stroke-width="1.2" />
<path d="M459.7,440.5 L460.4,441.3 L461.2,440.2 L461.9,440.5 L462.6,441.0 L463.4,440.6 L464.1,440.3 L464.8,440.0 L465.5,439.8 L466.3,439.6 L467.0,440.4 L467.7,440.3 L468.4,440.1 L469.1,439.5 L469.8,439.5 L470.5,439.9 L471.2,439.8 L471.9,440.0 L472.6,440.2 L473.3,440.1 L474.0,439.6 L474.7,439.3 L475.4,440.3 L476.1,439.5 L476.8,439.8 L477.5,440.2 L478.2,440.0 L478.9,439.8 L479.6,440.7 L480.3,440.1 L481.0,440.7 L481.7,440.5 L482.4,440.6 L483.1,440.4 L483.8,440.5 L484.6,440.4 L485.3,440.4 L486.0,441.0 L486.7,441.4 L487.4,440.9 L488.1,440.7 L488.8,441.5 L489.5,441.6 L490.2,441.0 L490.9,441.9 L491.6,441.7 L492.3,441.2 L493.0,441.2 L493.7,442.1 L494.4,441.3 L495.1,441.3 L495.8,441.5 L496.5,442.0 L497.2,442.1 L497.9,442.7 L498.6,441.9 L499.3,442.9 L500.0,442.9 L500.7,442.3 L501.4,442.5 L502.1,442.8 L502.8,442.6 L503.5,443.1 L504.2,443.5 L504.9,443.4 L505.6,443.0 L506.3,443.3 L507.0,443.2 L507.7,443.6 L508.4,443.1 L509.1,443.5 L509.8,443.4 L510.5,444.2 L511.2,443.9 L511.9,444.4 L512.6,443.9 L513.3,443.8 L514.0,444.2 L514.7,444.0 L515.4,444.2 L516.1,444.6 L516.9,444.2 L517.6,445.3 L518.4,445.2 L519.2,445.2 L519.9,445.4 L520.7,444.9 L521.5,445.7 L522.2,445.3 L523.0,445.2 L523.8,445.2 L524.5,445.5 L525.2,446.0 L526.0,445.5 L526.8,445.4 L527.5,445.9 L528.2,446.1 L529.0,446.1 L529.7,446.1 L530.4,445.7 L531.1,446.3 L531.8,446.0 L532.5,446.3 L533.2,446.3 L533.9,445.8 L534.6,445.8 L535.3,445.7 L536.0,446.2 L536.7,445.6 L537.4,446.2 L538.1,446.0 L538.8,446.5 L539.5,446.1 L540.2,446.7 L540.9,446.2 L541.6,446.8 L542.3,446.7 L543.0,446.4 L543.7,446.7 L544.4,447.0 L545.1,446.5 L545.8,446.8 L546.5,446.8 L547.3,446.6 L548.0,446.9 L548.7,447.0 L549.4,446.9 L550.1,446.7 L550.8,447.0 L551.5,446.4 L552.2,447.1 L552.9,446.2 L553.6,446.6 L554.3,446.8 L555.0,446.6 L555.7,446.4 L556.4,446.0 L557.1,446.3 L557.8,446.2 L558.5,446.7 L559.2,446.6 L559.9,446.6 L560.6,446.6 L561.3,446.3 L562.0,447.2 L562.7,447.0 L563.4,447.1 L564.1,447.5 L564.8,446.7 L565.5,447.2 L566.2,446.8 L566.9,447.5 L567.6,448.0 L568.3,447.4 L569.0,447.8 L569.7,448.2 L570.4,448.1 L571.1,448.4 L571.8,447.9 L572.5,448.8 L573.2,448.1 L573.9,448.2 L574.6,449.0 L575.3,449.0 L576.0,449.1 L576.7,448.9 L577.4,449.0 L578.1,448.9 L578.9,449.5 L579.6,450.1 L580.4,450.3 L581.2,450.3 L582.0,451.0 L582.7,450.8 L583.5,451.0 L584.3,451.1 L585.0,451.6 L585.8,452.1 L585.8,469.1 L585.0,468.6 L584.3,468.1 L583.5,468.0 L582.7,467.8 L582.0,468.0 L581.2,467.3 L580.4,467.3 L579.6,467.1 L578.9,466.5 L578.1,465.9 L577.4,466.0 L576.7,465.9 L576.0,466.1 L575.3,466.0 L574.6,466.0 L573.9,465.2 L573.2,465.1 L572.5,465.8 L571.8,464.9 L571.1,465.4 L570.4,465.1 L569.7,465.2 L569.0,464.8 L568.3,464.4 L567.6,465.0 L566.9,464.5 L566.2,463.8 L565.5,464.2 L564.8,463.7 L564.1,464.5 L563.4,464.1 L562.7,464.0 L562.0,464.2 L561.3,463.3 L560.6,463.6 L559.9,463.6 L559.2,463.6 L558.5,463.7 L557.8,463.2 L557.1,463.3 L556.4,463.0 L555.7,463.4 L555.0,463.6 L554.3,463.8 L553.6,463.6 L552.9,463.2 L552.2,464.1 L551.5,463.4 L550.8,464.0 L550.1,463.7 L549.4,463.9 L548.7,464.0 L548.0,463.9 L547.3,463.6 L546.5,463.8 L545.8,463.8 L545.1,463.5 L544.4,464.0 L543.7,463.7 L543.0,463.4 L542.3,463.7 L541.6,463.8 L540.9,463.2 L540.2,463.7 L539.5,463.1 L538.8,463.5 L538.1,463.0 L537.4,463.2 L536.7,462.6 L536.0,463.2 L535.3,462.7 L534.6,462.8 L533.9,462.8 L533.2,463.3 L532.5,463.3 L531.8,463.0 L531.1,463.3 L530.4,462.7 L529.7,463.1 L529.0,463.1 L528.2,463.1 L527.5,462.9 L526.8,462.4 L526.0,462.5 L525.2,463.0 L524.5,462.5 L523.8,462.2 L523.0,462.2 L522.2,462.3 L521.5,462.7 L520.7,461.9 L519.9,462.4 L519.2,462.2 L518.4,462.2 L517.6,462.3 L516.9,461.2 L516.1,461.6 L515.4,461.2 L514.7,461.0 L514.0,461.2 L513.3,460.8 L512.6,460.9 L511.9,461.4 L511.2,460.9 L510.5,461.2 L509.8,460.4 L509.1,460.5 L508.4,460.1 L507.7,460.6 L507.0,460.2 L506.3,460.3 L505.6,460.0 L504.9,460.4 L504.2,460.5 L503.5,460.1 L502.8,459.6 L502.1,459.8 L501.4,459.5 L500.7,459.3 L500.0,459.9 L499.3,459.9 L498.6,458.9 L497.9,459.7 L497.2,459.1 L496.5,459.0 L495.8,458.5 L495.1,458.3 L494.4,458.3 L493.7,459.1 L493.0,458.2 L492.3,458.2 L491.6,458.7 L490.9,458.9 L490.2,458.0 L489.5,458.6 L488.8,458.5 L488.1,457.7 L487.4,457.9 L486.7,458.4 L486.0,458.0 L485.3,457.4 L484.6,457.4 L483.8,457.5 L483.1,457.4 L482.4,457.6 L481.7,457.5 L481.0,457.7 L480.3,457.1 L479.6,457.7 L478.9,456.8 L478.2,457.0 L477.5,457.2 L476.8,456.8 L476.1,456.5 L475.4,457.3 L474.7,456.3 L474.0,456.6 L473.3,457.1 L472.6,457.2 L471.9,457.0 L471.2,456.8 L470.5,456.9 L469.8,456.5 L469.1,456.5 L468.4,457.1 L467.7,457.3 L467.0,457.4 L466.3,456.6 L465.5,456.8 L464.8,457.0 L464.1,457.3 L463.4,457.6 L462.6,458.0 L461.9,457.5 L461.2,457.2 L460.4,458.3 L459.7,457.5 Z" fill="#D55E00" fill-opacity="0.2" stroke="none"/>
<path d="M459.7,447.0 L460.4,447.1 L461.2,447.4 L461.9,447.1 L462.6,447.8 L463.4,447.3 L464.1,447.1 L464.8,447.0 L465.5,447.9 L466.3,447.7 L467.0,447.8 L467.7,447.9 L468.4,448.0 L469.1,447.6 L469.8,448.4 L470.5,448.2 L471.2,448.4 L471.9,448.5 L472.6,448.7 L473.3,448.7 L474.0,448.2 L474.7,449.1 L475.4,449.1 L476.1,449.2 L476.8,449.3 L477.5,448.9 L478.2,449.1 L478.9,449.9 L479.6,449.8 L480.3,450.2 L481.0,449.9 L481.7,449.8 L482.4,450.3 L483.1,450.4 L483.8,450.9 L484.6,450.7 L485.3,451.5 L486.0,451.3 L486.7,451.3 L487.4,452.0 L488.1,452.0 L488.8,452.2 L489.5,451.6 L490.2,451.7 L490.9,452.1 L491.6,451.9 L492.3,452.3 L493.0,452.7 L493.7,452.3 L494.4,452.4 L495.1,452.8 L495.8,452.3 L496.5,452.2 L497.2,452.6 L497.9,452.3 L498.6,453.3 L499.3,452.5 L500.0,452.7 L500.7,453.2 L501.4,453.2 L502.1,453.3 L502.8,453.0 L503.5,453.5 L504.2,453.3 L504.9,454.1 L505.6,454.4 L506.3,454.1 L507.0,453.9 L507.7,454.4 L508.4,454.3 L509.1,454.6 L509.8,454.4 L510.5,454.5 L511.2,455.0 L511.9,455.1 L512.6,455.7 L513.3,455.2 L514.0,456.0 L514.7,456.1 L515.4,456.0 L516.1,456.7 L516.9,456.0 L517.6,456.7 L518.4,457.2 L519.2,457.3 L519.9,457.1 L520.7,457.6 L521.5,457.3 L522.2,457.9 L523.0,458.6 L523.8,458.2 L524.5,458.3 L525.2,458.8 L526.0,458.6 L526.8,458.6 L527.5,458.2 L528.2,458.7 L529.0,458.5 L529.7,458.5 L530.4,458.9 L531.1,458.3 L531.8,458.6 L532.5,458.8 L533.2,458.8 L533.9,458.9 L534.6,459.1 L535.3,459.1 L536.0,458.7 L536.7,458.9 L537.4,459.6 L538.1,459.2 L538.8,459.0 L539.5,459.4 L540.2,459.9 L540.9,459.3 L541.6,459.4 L542.3,459.6 L543.0,459.8 L543.7,459.6 L544.4,459.9 L545.1,460.2 L545.8,459.9 L546.5,460.4 L547.3,460.7 L548.0,460.6 L548.7,460.7 L549.4,461.1 L550.1,460.8 L550.8,460.6 L551.5,461.6 L552.2,461.7 L552.9,461.6 L553.6,462.2 L554.3,462.5 L555.0,462.4 L555.7,462.4 L556.4,462.8 L557.1,463.2 L557.8,462.9 L558.5,463.7 L559.2,463.3 L559.9,463.5 L560.6,463.4 L561.3,464.2 L562.0,464.7 L562.7,464.1 L563.4,464.4 L564.1,464.2 L564.8,464.9 L565.5,465.3 L566.2,465.5 L566.9,465.3 L567.6,465.0 L568.3,465.3 L569.0,465.9 L569.7,465.6 L570.4,466.4 L571.1,466.1 L571.8,466.6 L572.5,466.5 L573.2,467.1 L573.9,466.5 L574.6,467.0 L575.3,467.2 L576.0,467.3 L576.7,467.9 L577.4,468.1 L578.1,467.5 L578.9,468.3 L579.6,468.4 L580.4,468.5 L581.2,468.7 L582.0,469.1 L582.7,468.9 L583.5,469.1 L584.3,469.5 L585.0,469.0 L585.8,470.1 L585.8,485.5 L585.0,484.4 L584.3,484.9 L583.5,484.5 L582.7,484.3 L582.0,484.5 L581.2,484.1 L580.4,483.9 L579.6,483.8 L578.9,483.7 L578.1,482.9 L577.4,483.5 L576.7,483.3 L576.0,482.7 L575.3,482.6 L574.6,482.4 L573.9,481.9 L573.2,482.5 L572.5,481.9 L571.8,482.0 L571.1,481.5 L570.4,481.8 L569.7,481.0 L569.0,481.3 L568.3,480.7 L567.6,480.4 L566.9,480.7 L566.2,480.9 L565.5,480.7 L564.8,480.3 L564.1,479.6 L563.4,479.8 L562.7,479.5 L562.0,480.1 L561.3,479.6 L560.6,478.8 L559.9,478.9 L559.2,478.7 L558.5,479.1 L557.8,478.3 L557.1,478.6 L556.4,478.2 L555.7,477.8 L555.0,477.8 L554.3,477.9 L553.6,477.6 L552.9,477.0 L552.2,477.1 L551.5,477.0 L550.8,476.0 L550.1,476.2 L549.4,476.5 L548.7,476.1 L548.0,476.0 L547.3,476.1 L546.5,475.8 L545.8,475.3 L545.1,475.6 L544.4,475.3 L543.7,475.0 L543.0,475.2 L542.3,475.0 L541.6,474.8 L540.9,474.7 L540.2,475.3 L539.5,474.8 L538.8,474.4 L538.1,474.6 L537.4,475.0 L536.7,474.3 L536.0,474.1 L535.3,474.5 L534.6,474.5 L533.9,474.3 L533.2,474.2 L532.5,474.2 L531.8,474.0 L531.1,473.7 L530.4,474.3 L529.7,473.9 L529.0,473.9 L528.2,474.1 L527.5,473.6 L526.8,474.0 L526.0,474.0 L525.2,474.2 L524.5,473.7 L523.8,473.6 L523.0,474.0 L522.2,473.3 L521.5,472.7 L520.7,473.0 L519.9,472.5 L519.2,472.7 L518.4,472.6 L517.6,472.1 L516.9,471.4 L516.1,472.1 L515.4,471.4 L514.7,471.5 L514.0,471.4 L513.3,470.6 L512.6,471.1 L511.9,470.5 L511.2,470.4 L510.5,469.9 L509.8,469.8 L509.1,470.0 L508.4,469.7 L507.7,469.8 L507.0,469.3 L506.3,469.5 L505.6,469.8 L504.9,469.5 L504.2,468.7 L503.5,468.9 L502.8,468.4 L502.1,468.7 L501.4,468.6 L500.7,468.6 L500.0,468.1 L499.3,467.9 L498.6,468.7 L497.9,467.7 L497.2,468.0 L496.5,467.6 L495.8,467.7 L495.1,468.2 L494.4,467.8 L493.7,467.7 L493.0,468.1 L492.3,467.7 L491.6,467.3 L490.9,467.5 L490.2,467.1 L489.5,467.0 L488.8,467.6 L488.1,467.4 L487.4,467.4 L486.7,466.7 L486.0,466.7 L485.3,466.9 L484.6,466.1 L483.8,466.3 L483.1,465.8 L482.4,465.7 L481.7,465.2 L481.0,465.3 L480.3,465.6 L479.6,465.2 L478.9,465.3 L478.2,464.5 L477.5,464.3 L476.8,464.7 L476.1,464.6 L475.4,464.5 L474.7,464.5 L474.0,463.6 L473.3,464.1 L472.6,464.1 L471.9,463.9 L471.2,463.8 L470.5,463.6 L469.8,463.8 L469.1,463.0 L468.4,463.4 L467.7,463.3 L467.0,463.2 L466.3,463.1 L465.5,463.3 L464.8,462.4 L464.1,462.5 L463.4,462.7 L462.6,463.2 L461.9,462.5 L461.2,462.8 L460.4,462.5 L459.7,462.4 Z" fill="#0072B2" fill-opacity="0.2" stroke="none"/>
<path d="M459.7,449.0 L460.4,449.8 L461.2,448.7 L461.9,449.0 L462.6,449.5 L463.4,449.1 L464.1,448.8 L464.8,448.5 L465.5,448.3 L466.3,448.1 L467.0,448.9 L467.7,448.8 L468.4,448.6 L469.1,448.0 L469.8,448.0 L470.5,448.4 L471.2,448.3 L471.9,448.5 L472.6,448.7 L473.3,448.6 L474.0,448.1 L474.7,447.8 L475.4,448.8 L476.1,448.0 L476.8,448.3 L477.5,448.7 L478.2,448.5 L478.9,448.3 L479.6,449.2 L480.3,448.6 L481.0,449.2 L481.7,449.0 L482.4,449.1 L483.1,448.9 L483.8,449.0 L484.6,448.9 L485.3,448.9 L486.0,449.5 L486.7,449.9 L487.4,449.4 L488.1,449.2 L488.8,450.0 L489.5,450.1 L490.2,449.5 L490.9,450.4 L491.6,450.2 L492.3,449.7 L493.0,449.7 L493.7,450.6 L494.4,449.8 L495.1,449.8 L495.8,450.0 L496.5,450.5 L497.2,450.6 L497.9,451.2 L498.6,450.4 L499.3,451.4 L500.0,451.4 L500.7,450.8 L501.4,451.0 L502.1,451.3 L502.8,451.1 L503.5,451.6 L504.2,452.0 L504.9,451.9 L505.6,451.5 L506.3,451.8 L507.0,451.7 L507.7,452.1 L508.4,451.6 L509.1,452.0 L509.8,451.9 L510.5,452.7 L511.2,452.4 L511.9,452.9 L512.6,452.4 L513.3,452.3 L514.0,452.7 L514.7,452.5 L515.4,452.7 L516.1,453.1 L516.9,452.7 L517.6,453.8 L518.4,453.7 L519.2,453.7 L519.9,453.9 L520.7,453.4 L521.5,454.2 L522.2,453.8 L523.0,453.7 L523.8,453.7 L524.5,454.0 L525.2,454.5 L526.0,454.0 L526.8,453.9 L527.5,454.4 L528.2,454.6 L529.0,454.6 L529.7,454.6 L530.4,454.2 L531.1,454.8 L531.8,454.5 L532.5,454.8 L533.2,454.8 L533.9,454.3 L534.6,454.3 L535.3,454.2 L536.0,454.7 L536.7,454.1 L537.4,454.7 L538.1,454.5 L538.8,455.0 L539.5,454.6 L540.2,455.2 L540.9,454.7 L541.6,455.3 L542.3,455.2 L543.0,454.9 L543.7,455.2 L544.4,455.5 L545.1,455.0 L545.8,455.3 L546.5,455.3 L547.3,455.1 L548.0,455.4 L548.7,455.5 L549.4,455.4 L550.1,455.2 L550.8,455.5 L551.5,454.9 L552.2,455.6 L552.9,454.7 L553.6,455.1 L554.3,455.3 L555.0,455.1 L555.7,454.9 L556.4,454.5 L557.1,454.8 L557.8,454.7 L558.5,455.2 L559.2,455.1 L559.9,455.1 L560.6,455.1 L561.3,454.8 L562.0,455.7 L562.7,455.5 L563.4,455.6 L564.1,456.0 L564.8,455.2 L565.5,455.7 L566.2,455.3 L566.9,456.0 L567.6,456.5 L568.3,455.9 L569.0,456.3 L569.7,456.7 L570.4,456.6 L571.1,456.9 L571.8,456.4 L572.5,457.3 L573.2,456.6 L573.9,456.7 L574.6,457.5 L575.3,457.5 L576.0,457.6 L576.7,457.4 L577.4,457.5 L578.1,457.4 L578.9,458.0 L579.6,458.6 L580.4,458.8 L581.2,458.8 L582.0,459.5 L582.7,459.3 L583.5,459.5 L584.3,459.6 L585.0,460.1 L585.8,460.6" fill="none" stroke="#C8703A" stroke-width="1.05" stroke-linejoin="round"/>
<path d="M459.7,454.7 L460.4,454.8 L461.2,455.1 L461.9,454.8 L462.6,455.5 L463.4,455.0 L464.1,454.8 L464.8,454.7 L465.5,455.6 L466.3,455.4 L467.0,455.5 L467.7,455.6 L468.4,455.7 L469.1,455.3 L469.8,456.1 L470.5,455.9 L471.2,456.1 L471.9,456.2 L472.6,456.4 L473.3,456.4 L474.0,455.9 L474.7,456.8 L475.4,456.8 L476.1,456.9 L476.8,457.0 L477.5,456.6 L478.2,456.8 L478.9,457.6 L479.6,457.5 L480.3,457.9 L481.0,457.6 L481.7,457.5 L482.4,458.0 L483.1,458.1 L483.8,458.6 L484.6,458.4 L485.3,459.2 L486.0,459.0 L486.7,459.0 L487.4,459.7 L488.1,459.7 L488.8,459.9 L489.5,459.3 L490.2,459.4 L490.9,459.8 L491.6,459.6 L492.3,460.0 L493.0,460.4 L493.7,460.0 L494.4,460.1 L495.1,460.5 L495.8,460.0 L496.5,459.9 L497.2,460.3 L497.9,460.0 L498.6,461.0 L499.3,460.2 L500.0,460.4 L500.7,460.9 L501.4,460.9 L502.1,461.0 L502.8,460.7 L503.5,461.2 L504.2,461.0 L504.9,461.8 L505.6,462.1 L506.3,461.8 L507.0,461.6 L507.7,462.1 L508.4,462.0 L509.1,462.3 L509.8,462.1 L510.5,462.2 L511.2,462.7 L511.9,462.8 L512.6,463.4 L513.3,462.9 L514.0,463.7 L514.7,463.8 L515.4,463.7 L516.1,464.4 L516.9,463.7 L517.6,464.4 L518.4,464.9 L519.2,465.0 L519.9,464.8 L520.7,465.3 L521.5,465.0 L522.2,465.6 L523.0,466.3 L523.8,465.9 L524.5,466.0 L525.2,466.5 L526.0,466.3 L526.8,466.3 L527.5,465.9 L528.2,466.4 L529.0,466.2 L529.7,466.2 L530.4,466.6 L531.1,466.0 L531.8,466.3 L532.5,466.5 L533.2,466.5 L533.9,466.6 L534.6,466.8 L535.3,466.8 L536.0,466.4 L536.7,466.6 L537.4,467.3 L538.1,466.9 L538.8,466.7 L539.5,467.1 L540.2,467.6 L540.9,467.0 L541.6,467.1 L542.3,467.3 L543.0,467.5 L543.7,467.3 L544.4,467.6 L545.1,467.9 L545.8,467.6 L546.5,468.1 L547.3,468.4 L548.0,468.3 L548.7,468.4 L549.4,468.8 L550.1,468.5 L550.8,468.3 L551.5,469.3 L552.2,469.4 L552.9,469.3 L553.6,469.9 L554.3,470.2 L555.0,470.1 L555.7,470.1 L556.4,470.5 L557.1,470.9 L557.8,470.6 L558.5,471.4 L559.2,471.0 L559.9,471.2 L560.6,471.1 L561.3,471.9 L562.0,472.4 L562.7,471.8 L563.4,472.1 L564.1,471.9 L564.8,472.6 L565.5,473.0 L566.2,473.2 L566.9,473.0 L567.6,472.7 L568.3,473.0 L569.0,473.6 L569.7,473.3 L570.4,474.1 L571.1,473.8 L571.8,474.3 L572.5,474.2 L573.2,474.8 L573.9,474.2 L574.6,474.7 L575.3,474.9 L576.0,475.0 L576.7,475.6 L577.4,475.8 L578.1,475.2 L578.9,476.0 L579.6,476.1 L580.4,476.2 L581.2,476.4 L582.0,476.8 L582.7,476.6 L583.5,476.8 L584.3,477.2 L585.0,476.7 L585.8,477.8" fill="none" stroke="#1E6E9C" stroke-width="1.05" stroke-linejoin="round"/>
<line x1="453.20" y1="484.50" x2="592.70" y2="484.50" stroke="#1a1a1a" stroke-width="1.0" />
<line x1="523.00" y1="431.50" x2="523.00" y2="525.50" stroke="#1a1a1a" stroke-width="1.0" />
<line x1="306.50" y1="431.50" x2="306.50" y2="525.50" stroke="#1a1a1a" stroke-width="1.0" />
<line x1="303.00" y1="434.90" x2="306.50" y2="434.90" stroke="#1a1a1a" stroke-width="1.0" />
<text x="301.00" y="438.90" font-size="11.5" text-anchor="end" fill="#1a1a1a" >0.4</text>
<line x1="303.00" y1="459.70" x2="306.50" y2="459.70" stroke="#1a1a1a" stroke-width="1.0" />
<text x="301.00" y="463.70" font-size="11.5" text-anchor="end" fill="#1a1a1a" >0.2</text>
<line x1="303.00" y1="484.50" x2="306.50" y2="484.50" stroke="#1a1a1a" stroke-width="1.0" />
<text x="301.00" y="488.50" font-size="11.5" text-anchor="end" fill="#1a1a1a" >0.0</text>
<line x1="303.00" y1="509.30" x2="306.50" y2="509.30" stroke="#1a1a1a" stroke-width="1.0" />
<text x="301.00" y="513.30" font-size="11.5" text-anchor="end" fill="#1a1a1a" >-0.2</text>
<text x="267.80" y="478.90" font-size="11.7" text-anchor="middle" fill="#444" transform="rotate(-90 267.80 478.90)" >SCL [z]</text>
<path d="M312.7,573.8 L313.5,576.3 L314.4,577.3 L315.1,576.0 L315.8,577.4 L316.5,575.9 L317.2,578.9 L317.9,579.1 L318.6,581.4 L319.5,582.6 L320.5,580.6 L321.4,582.1 L322.1,581.1 L322.8,579.6 L323.5,580.4 L324.2,580.3 L324.9,584.1 L325.6,586.2 L326.6,586.3 L327.7,587.0 L328.4,588.0 L329.1,585.0 L329.8,585.3 L330.5,585.5 L331.3,587.2 L332.0,588.6 L333.0,586.2 L334.0,583.8 L334.7,588.6 L335.5,591.3 L336.2,593.8 L336.9,591.7 L337.6,590.8 L338.3,588.5 L339.4,585.3 L340.4,584.0 L341.1,582.6 L341.8,581.2 L342.5,582.3 L343.2,583.1 L343.9,583.6 L344.6,583.7 L345.3,585.3 L346.0,584.7 L346.7,587.7 L347.4,589.3 L348.1,589.2 L348.8,593.8 L349.5,592.1 L350.2,590.5 L350.9,587.5 L351.6,587.7 L352.5,584.9 L353.5,582.6 L354.4,583.9 L355.1,582.6 L355.8,580.4 L356.5,580.4 L357.2,578.8 L357.9,581.2 L358.6,579.6 L359.3,581.4 L360.0,580.2 L360.7,580.1 L361.4,578.4 L362.1,576.9 L362.8,576.2 L363.5,576.8 L364.2,577.7 L364.9,576.9 L365.6,578.3 L366.5,576.9 L367.5,576.3 L368.4,575.9 L369.1,574.7 L369.8,574.4 L370.5,573.9 L371.2,573.0 L371.9,570.2 L372.6,569.6 L373.3,568.3 L374.0,568.6 L375.0,567.1 L376.0,565.3 L377.4,554.2 L378.2,549.9 L379.1,547.1 L380.0,545.6 L380.9,544.4 L381.6,542.2 L382.3,541.8 L383.4,541.2 L384.4,544.8 L385.1,545.0 L385.8,546.0 L386.5,547.7 L387.2,549.2 L387.9,549.6 L388.6,551.3 L389.6,555.6 L390.7,557.4 L391.4,560.0 L392.1,560.4 L392.8,563.1 L393.9,565.8 L394.9,568.8 L395.6,569.9 L396.3,571.0 L397.0,570.9 L397.7,569.7 L398.4,570.6 L399.1,569.3 L400.1,570.6 L401.2,573.5 L401.9,574.8 L402.6,574.0 L403.3,574.4 L404.0,574.1 L404.7,573.3 L405.4,575.7 L406.2,578.2 L406.9,579.8 L407.6,578.7 L408.3,575.2 L409.0,574.2 L409.7,574.0 L410.4,574.0 L411.1,574.7 L411.8,577.2 L412.5,579.2 L413.2,580.7 L413.9,583.1 L414.6,585.2 L415.5,584.9 L416.5,587.9 L417.4,589.5 L418.1,590.5 L418.8,590.2 L419.5,591.0 L420.2,593.6 L420.9,592.5 L421.6,593.0 L422.3,596.8 L423.0,596.2 L423.7,597.9 L424.4,599.9 L425.1,601.1 L426.1,606.1 L427.2,607.3 L427.9,608.1 L428.6,605.7 L429.3,605.8 L430.0,605.3 L430.7,603.1 L431.4,604.9 L432.1,602.7 L432.8,604.8 L433.9,606.0 L434.9,608.6 L435.6,608.4 L436.3,606.0 L437.0,605.4 L437.7,606.6 L438.4,606.2 L439.1,602.6 L439.8,603.4 L439.8,614.4 L439.1,613.6 L438.4,617.2 L437.7,617.6 L437.0,616.4 L436.3,617.0 L435.6,619.4 L434.9,619.6 L433.9,617.0 L432.8,615.8 L432.1,613.7 L431.4,615.9 L430.7,614.1 L430.0,616.3 L429.3,616.8 L428.6,616.7 L427.9,619.1 L427.2,618.3 L426.1,617.1 L425.1,612.1 L424.4,610.9 L423.7,608.9 L423.0,607.2 L422.3,607.8 L421.6,604.0 L420.9,603.5 L420.2,604.6 L419.5,602.0 L418.8,601.2 L418.1,601.5 L417.4,600.5 L416.5,598.9 L415.5,595.9 L414.6,596.2 L413.9,594.1 L413.2,591.7 L412.5,590.2 L411.8,588.2 L411.1,585.7 L410.4,585.0 L409.7,585.0 L409.0,585.2 L408.3,586.2 L407.6,589.7 L406.9,590.8 L406.2,589.2 L405.4,586.7 L404.7,584.3 L404.0,585.1 L403.3,585.4 L402.6,585.0 L401.9,585.8 L401.2,584.5 L400.1,581.6 L399.1,580.3 L398.4,581.6 L397.7,580.7 L397.0,581.9 L396.3,582.0 L395.6,580.9 L394.9,579.8 L393.9,576.8 L392.8,574.1 L392.1,571.4 L391.4,571.0 L390.7,568.4 L389.6,566.6 L388.6,562.3 L387.9,560.6 L387.2,560.2 L386.5,558.7 L385.8,557.0 L385.1,556.0 L384.4,555.8 L383.4,552.2 L382.3,552.8 L381.6,553.2 L380.9,555.4 L380.0,556.6 L379.1,558.1 L378.2,560.9 L377.4,565.2 L376.0,576.3 L375.0,578.1 L374.0,579.6 L373.3,579.3 L372.6,580.6 L371.9,581.2 L371.2,584.0 L370.5,584.9 L369.8,585.4 L369.1,585.7 L368.4,586.9 L367.5,587.3 L366.5,587.9 L365.6,589.3 L364.9,587.9 L364.2,588.7 L363.5,587.8 L362.8,587.2 L362.1,587.9 L361.4,589.4 L360.7,591.1 L360.0,591.2 L359.3,592.4 L358.6,590.6 L357.9,592.2 L357.2,589.8 L356.5,591.4 L355.8,591.4 L355.1,593.6 L354.4,594.9 L353.5,593.6 L352.5,595.9 L351.6,598.7 L350.9,598.5 L350.2,601.5 L349.5,603.1 L348.8,604.8 L348.1,600.2 L347.4,600.3 L346.7,598.7 L346.0,595.7 L345.3,596.3 L344.6,594.7 L343.9,594.6 L343.2,594.1 L342.5,593.3 L341.8,592.2 L341.1,593.6 L340.4,595.0 L339.4,596.3 L338.3,599.5 L337.6,601.8 L336.9,602.7 L336.2,604.8 L335.5,602.3 L334.7,599.6 L334.0,594.8 L333.0,597.2 L332.0,599.6 L331.3,598.2 L330.5,596.5 L329.8,596.3 L329.1,596.0 L328.4,599.0 L327.7,598.0 L326.6,597.3 L325.6,597.2 L324.9,595.1 L324.2,591.3 L323.5,591.4 L322.8,590.6 L322.1,592.1 L321.4,593.1 L320.5,591.6 L319.5,593.6 L318.6,592.4 L317.9,590.1 L317.2,589.9 L316.5,586.9 L315.8,588.4 L315.1,587.0 L314.4,588.3 L313.5,587.3 L312.7,584.8 Z" fill="#D55E00" fill-opacity="0.2" stroke="none"/>
<path d="M312.7,588.9 L313.5,587.5 L314.3,584.9 L315.1,585.3 L316.1,581.7 L317.2,579.7 L317.9,579.7 L318.6,577.5 L319.3,578.4 L320.0,575.8 L320.7,577.8 L321.4,579.0 L322.1,583.7 L323.1,577.1 L324.2,573.0 L324.9,575.1 L325.6,575.8 L326.3,578.7 L327.4,578.7 L328.4,580.3 L329.1,577.9 L329.8,576.0 L330.5,574.7 L331.2,577.1 L331.9,576.5 L332.6,578.7 L333.3,576.6 L334.1,577.8 L334.8,574.4 L335.9,577.5 L336.9,578.7 L337.6,580.1 L338.3,580.0 L339.0,582.5 L339.7,581.8 L340.4,584.0 L341.1,583.7 L341.8,582.6 L342.5,583.0 L343.2,582.9 L343.9,585.1 L344.6,584.3 L345.3,584.4 L346.0,584.4 L346.7,586.2 L347.4,585.7 L348.1,583.9 L349.0,586.2 L350.0,587.9 L350.9,587.3 L351.6,586.5 L352.3,588.3 L353.0,585.8 L353.7,587.1 L354.4,584.2 L355.1,585.8 L355.8,582.1 L356.5,582.4 L357.2,583.1 L357.9,582.2 L358.6,585.0 L359.3,585.7 L360.0,583.1 L360.7,583.2 L361.4,580.9 L362.1,580.2 L363.0,583.0 L364.0,584.1 L364.9,584.4 L365.6,586.6 L366.3,585.9 L367.0,584.0 L367.7,584.3 L368.4,583.4 L369.1,584.8 L369.8,586.5 L370.5,585.7 L371.2,586.3 L371.9,588.5 L372.6,588.2 L373.3,590.7 L374.2,591.3 L375.1,591.5 L376.0,592.7 L376.7,594.2 L377.4,593.4 L378.1,596.4 L379.1,598.0 L380.2,597.4 L380.9,595.4 L381.6,595.6 L382.3,593.6 L383.0,592.2 L383.7,592.2 L384.4,590.6 L385.1,590.6 L385.8,587.6 L386.9,586.8 L387.9,586.9 L388.6,588.2 L389.3,589.9 L390.0,591.0 L390.7,591.4 L391.4,594.3 L392.1,592.7 L393.1,597.5 L394.2,599.4 L394.9,598.8 L395.6,595.0 L396.3,595.6 L397.4,598.3 L398.4,599.4 L399.1,599.7 L399.8,597.4 L400.5,596.6 L401.2,592.6 L401.9,595.0 L402.6,592.0 L403.3,591.9 L404.0,591.6 L404.7,593.4 L405.4,591.8 L406.2,593.4 L406.9,595.2 L407.6,593.7 L408.3,592.1 L409.0,592.2 L409.7,590.2 L410.4,591.0 L411.1,593.2 L411.8,593.6 L412.5,595.7 L413.2,592.9 L413.9,591.6 L414.6,591.9 L415.3,590.8 L416.0,589.1 L416.7,591.7 L417.4,591.8 L418.1,591.9 L419.0,591.9 L420.0,591.0 L420.9,592.0 L421.6,589.4 L422.3,590.4 L423.0,588.6 L423.7,584.3 L424.4,585.5 L425.1,582.0 L425.8,583.0 L426.9,585.6 L427.9,588.0 L428.6,588.1 L429.3,588.2 L430.0,587.4 L430.7,587.3 L431.4,589.1 L432.1,587.8 L432.8,589.8 L433.5,592.7 L434.2,589.8 L434.9,587.0 L435.6,583.4 L436.3,583.8 L437.4,583.8 L438.4,585.7 L439.1,583.8 L439.8,582.6 L439.8,593.0 L439.1,594.2 L438.4,596.1 L437.4,594.2 L436.3,594.2 L435.6,593.8 L434.9,597.4 L434.2,600.2 L433.5,603.1 L432.8,600.2 L432.1,598.2 L431.4,599.5 L430.7,597.7 L430.0,597.8 L429.3,598.6 L428.6,598.5 L427.9,598.4 L426.9,596.0 L425.8,593.4 L425.1,592.4 L424.4,595.9 L423.7,594.7 L423.0,599.0 L422.3,600.8 L421.6,599.8 L420.9,602.4 L420.0,601.4 L419.0,602.3 L418.1,602.3 L417.4,602.2 L416.7,602.1 L416.0,599.5 L415.3,601.2 L414.6,602.3 L413.9,602.0 L413.2,603.3 L412.5,606.1 L411.8,604.0 L411.1,603.6 L410.4,601.4 L409.7,600.6 L409.0,602.6 L408.3,602.5 L407.6,604.1 L406.9,605.6 L406.2,603.8 L405.4,602.2 L404.7,603.8 L404.0,602.0 L403.3,602.3 L402.6,602.4 L401.9,605.4 L401.2,603.0 L400.5,607.0 L399.8,607.8 L399.1,610.1 L398.4,609.8 L397.4,608.7 L396.3,606.0 L395.6,605.4 L394.9,609.2 L394.2,609.8 L393.1,607.9 L392.1,603.1 L391.4,604.7 L390.7,601.8 L390.0,601.4 L389.3,600.3 L388.6,598.6 L387.9,597.3 L386.9,597.2 L385.8,598.0 L385.1,601.0 L384.4,601.0 L383.7,602.6 L383.0,602.6 L382.3,604.0 L381.6,606.0 L380.9,605.8 L380.2,607.8 L379.1,608.4 L378.1,606.8 L377.4,603.8 L376.7,604.6 L376.0,603.1 L375.1,601.9 L374.2,601.7 L373.3,601.1 L372.6,598.6 L371.9,598.9 L371.2,596.7 L370.5,596.1 L369.8,596.9 L369.1,595.2 L368.4,593.8 L367.7,594.7 L367.0,594.4 L366.3,596.3 L365.6,597.0 L364.9,594.8 L364.0,594.5 L363.0,593.4 L362.1,590.6 L361.4,591.3 L360.7,593.6 L360.0,593.5 L359.3,596.1 L358.6,595.4 L357.9,592.6 L357.2,593.5 L356.5,592.8 L355.8,592.5 L355.1,596.2 L354.4,594.6 L353.7,597.5 L353.0,596.2 L352.3,598.7 L351.6,596.9 L350.9,597.7 L350.0,598.3 L349.0,596.6 L348.1,594.3 L347.4,596.1 L346.7,596.6 L346.0,594.8 L345.3,594.8 L344.6,594.7 L343.9,595.5 L343.2,593.3 L342.5,593.4 L341.8,593.0 L341.1,594.1 L340.4,594.4 L339.7,592.2 L339.0,592.9 L338.3,590.4 L337.6,590.5 L336.9,589.1 L335.9,587.9 L334.8,584.8 L334.1,588.2 L333.3,587.0 L332.6,589.1 L331.9,586.9 L331.2,587.5 L330.5,585.1 L329.8,586.4 L329.1,588.3 L328.4,590.7 L327.4,589.1 L326.3,589.1 L325.6,586.2 L324.9,585.5 L324.2,583.4 L323.1,587.5 L322.1,594.1 L321.4,589.4 L320.7,588.2 L320.0,586.2 L319.3,588.8 L318.6,587.9 L317.9,590.1 L317.2,590.1 L316.1,592.1 L315.1,595.7 L314.3,595.3 L313.5,597.9 L312.7,599.3 Z" fill="#0072B2" fill-opacity="0.2" stroke="none"/>
<path d="M312.7,579.3 L313.5,581.8 L314.4,582.8 L315.1,581.5 L315.8,582.9 L316.5,581.4 L317.2,584.4 L317.9,584.6 L318.6,586.9 L319.5,588.1 L320.5,586.1 L321.4,587.6 L322.1,586.6 L322.8,585.1 L323.5,585.9 L324.2,585.8 L324.9,589.6 L325.6,591.7 L326.6,591.8 L327.7,592.5 L328.4,593.5 L329.1,590.5 L329.8,590.8 L330.5,591.0 L331.3,592.7 L332.0,594.1 L333.0,591.7 L334.0,589.3 L334.7,594.1 L335.5,596.8 L336.2,599.3 L336.9,597.2 L337.6,596.3 L338.3,594.0 L339.4,590.8 L340.4,589.5 L341.1,588.1 L341.8,586.7 L342.5,587.8 L343.2,588.6 L343.9,589.1 L344.6,589.2 L345.3,590.8 L346.0,590.2 L346.7,593.2 L347.4,594.8 L348.1,594.7 L348.8,599.3 L349.5,597.6 L350.2,596.0 L350.9,593.0 L351.6,593.2 L352.5,590.4 L353.5,588.1 L354.4,589.4 L355.1,588.1 L355.8,585.9 L356.5,585.9 L357.2,584.3 L357.9,586.7 L358.6,585.1 L359.3,586.9 L360.0,585.7 L360.7,585.6 L361.4,583.9 L362.1,582.4 L362.8,581.7 L363.5,582.3 L364.2,583.2 L364.9,582.4 L365.6,583.8 L366.5,582.4 L367.5,581.8 L368.4,581.4 L369.1,580.2 L369.8,579.9 L370.5,579.4 L371.2,578.5 L371.9,575.7 L372.6,575.1 L373.3,573.8 L374.0,574.1 L375.0,572.6 L376.0,570.8 L377.4,559.7 L378.2,555.4 L379.1,552.6 L380.0,551.1 L380.9,549.9 L381.6,547.7 L382.3,547.3 L383.4,546.7 L384.4,550.3 L385.1,550.5 L385.8,551.5 L386.5,553.2 L387.2,554.7 L387.9,555.1 L388.6,556.8 L389.6,561.1 L390.7,562.9 L391.4,565.5 L392.1,565.9 L392.8,568.6 L393.9,571.3 L394.9,574.3 L395.6,575.4 L396.3,576.5 L397.0,576.4 L397.7,575.2 L398.4,576.1 L399.1,574.8 L400.1,576.1 L401.2,579.0 L401.9,580.3 L402.6,579.5 L403.3,579.9 L404.0,579.6 L404.7,578.8 L405.4,581.2 L406.2,583.7 L406.9,585.3 L407.6,584.2 L408.3,580.7 L409.0,579.7 L409.7,579.5 L410.4,579.5 L411.1,580.2 L411.8,582.7 L412.5,584.7 L413.2,586.2 L413.9,588.6 L414.6,590.7 L415.5,590.4 L416.5,593.4 L417.4,595.0 L418.1,596.0 L418.8,595.7 L419.5,596.5 L420.2,599.1 L420.9,598.0 L421.6,598.5 L422.3,602.3 L423.0,601.7 L423.7,603.4 L424.4,605.4 L425.1,606.6 L426.1,611.6 L427.2,612.8 L427.9,613.6 L428.6,611.2 L429.3,611.3 L430.0,610.8 L430.7,608.6 L431.4,610.4 L432.1,608.2 L432.8,610.3 L433.9,611.5 L434.9,614.1 L435.6,613.9 L436.3,611.5 L437.0,610.9 L437.7,612.1 L438.4,611.7 L439.1,608.1 L439.8,608.9" fill="none" stroke="#C8703A" stroke-width="1.05" stroke-linejoin="round"/>
<path d="M312.7,594.1 L313.5,592.7 L314.3,590.1 L315.1,590.5 L316.1,586.9 L317.2,584.9 L317.9,584.9 L318.6,582.7 L319.3,583.6 L320.0,581.0 L320.7,583.0 L321.4,584.2 L322.1,588.9 L323.1,582.3 L324.2,578.2 L324.9,580.3 L325.6,581.0 L326.3,583.9 L327.4,583.9 L328.4,585.5 L329.1,583.1 L329.8,581.2 L330.5,579.9 L331.2,582.3 L331.9,581.7 L332.6,583.9 L333.3,581.8 L334.1,583.0 L334.8,579.6 L335.9,582.7 L336.9,583.9 L337.6,585.3 L338.3,585.2 L339.0,587.7 L339.7,587.0 L340.4,589.2 L341.1,588.9 L341.8,587.8 L342.5,588.2 L343.2,588.1 L343.9,590.3 L344.6,589.5 L345.3,589.6 L346.0,589.6 L346.7,591.4 L347.4,590.9 L348.1,589.1 L349.0,591.4 L350.0,593.1 L350.9,592.5 L351.6,591.7 L352.3,593.5 L353.0,591.0 L353.7,592.3 L354.4,589.4 L355.1,591.0 L355.8,587.3 L356.5,587.6 L357.2,588.3 L357.9,587.4 L358.6,590.2 L359.3,590.9 L360.0,588.3 L360.7,588.4 L361.4,586.1 L362.1,585.4 L363.0,588.2 L364.0,589.3 L364.9,589.6 L365.6,591.8 L366.3,591.1 L367.0,589.2 L367.7,589.5 L368.4,588.6 L369.1,590.0 L369.8,591.7 L370.5,590.9 L371.2,591.5 L371.9,593.7 L372.6,593.4 L373.3,595.9 L374.2,596.5 L375.1,596.7 L376.0,597.9 L376.7,599.4 L377.4,598.6 L378.1,601.6 L379.1,603.2 L380.2,602.6 L380.9,600.6 L381.6,600.8 L382.3,598.8 L383.0,597.4 L383.7,597.4 L384.4,595.8 L385.1,595.8 L385.8,592.8 L386.9,592.0 L387.9,592.1 L388.6,593.4 L389.3,595.1 L390.0,596.2 L390.7,596.6 L391.4,599.5 L392.1,597.9 L393.1,602.7 L394.2,604.6 L394.9,604.0 L395.6,600.2 L396.3,600.8 L397.4,603.5 L398.4,604.6 L399.1,604.9 L399.8,602.6 L400.5,601.8 L401.2,597.8 L401.9,600.2 L402.6,597.2 L403.3,597.1 L404.0,596.8 L404.7,598.6 L405.4,597.0 L406.2,598.6 L406.9,600.4 L407.6,598.9 L408.3,597.3 L409.0,597.4 L409.7,595.4 L410.4,596.2 L411.1,598.4 L411.8,598.8 L412.5,600.9 L413.2,598.1 L413.9,596.8 L414.6,597.1 L415.3,596.0 L416.0,594.3 L416.7,596.9 L417.4,597.0 L418.1,597.1 L419.0,597.1 L420.0,596.2 L420.9,597.2 L421.6,594.6 L422.3,595.6 L423.0,593.8 L423.7,589.5 L424.4,590.7 L425.1,587.2 L425.8,588.2 L426.9,590.8 L427.9,593.2 L428.6,593.3 L429.3,593.4 L430.0,592.6 L430.7,592.5 L431.4,594.3 L432.1,593.0 L432.8,595.0 L433.5,597.9 L434.2,595.0 L434.9,592.2 L435.6,588.6 L436.3,589.0 L437.4,589.0 L438.4,590.9 L439.1,589.0 L439.8,587.8" fill="none" stroke="#1E6E9C" stroke-width="1.05" stroke-linejoin="round"/>
<line x1="306.50" y1="587.00" x2="445.80" y2="587.00" stroke="#1a1a1a" stroke-width="1.0" />
<line x1="376.50" y1="534.00" x2="376.50" y2="628.00" stroke="#1a1a1a" stroke-width="1.0" />
<line x1="378.80" y1="534.00" x2="378.80" y2="628.00" stroke="#c83a3e" stroke-width="1.2" />
<line x1="387.20" y1="534.00" x2="387.20" y2="628.00" stroke="#c83a3e" stroke-width="1.2" />
<path d="M459.7,556.5 L460.5,558.2 L461.4,560.9 L462.1,561.7 L462.8,564.7 L463.5,564.6 L464.2,568.7 L464.9,570.7 L465.6,571.7 L466.6,573.2 L467.7,573.7 L468.4,576.4 L469.1,577.9 L469.8,579.1 L470.5,577.9 L471.2,577.8 L471.9,580.2 L472.6,579.7 L473.5,579.3 L474.5,579.5 L475.4,577.7 L476.1,579.1 L476.8,578.4 L477.5,576.1 L478.2,575.6 L478.9,577.1 L479.6,578.5 L480.3,579.9 L481.0,580.2 L481.7,580.9 L482.4,582.0 L483.2,583.0 L483.9,583.7 L484.6,585.9 L485.3,586.0 L486.0,586.6 L486.7,588.5 L487.4,587.5 L488.1,586.3 L488.8,585.4 L489.5,584.2 L490.2,583.2 L490.9,584.7 L491.6,583.0 L492.3,580.9 L493.0,582.8 L493.7,584.6 L494.4,584.4 L495.1,588.0 L496.0,588.1 L497.0,586.6 L497.9,586.6 L498.6,590.5 L499.3,591.6 L500.0,591.2 L500.7,593.3 L501.4,591.8 L502.1,588.2 L502.8,587.5 L503.5,585.1 L504.2,584.6 L504.9,585.0 L505.6,583.5 L506.3,584.0 L507.0,582.0 L507.7,580.2 L508.4,581.4 L509.1,580.7 L510.0,581.1 L511.0,582.0 L511.9,581.4 L512.6,581.1 L513.3,582.0 L514.0,583.3 L514.7,585.0 L515.6,583.1 L516.6,583.7 L517.5,583.0 L518.4,582.3 L519.4,580.8 L520.3,580.5 L521.2,583.1 L522.1,581.3 L523.0,582.7 L523.9,584.5 L524.8,585.9 L525.5,587.9 L526.2,586.8 L526.9,590.9 L527.6,590.8 L528.3,588.3 L529.0,584.9 L529.7,583.7 L530.8,584.8 L531.8,581.0 L532.5,582.4 L533.2,579.9 L533.9,578.8 L534.6,581.3 L535.5,581.5 L536.5,582.3 L537.4,584.1 L538.1,585.2 L538.8,586.5 L539.5,585.9 L540.2,589.5 L541.1,584.4 L542.1,582.0 L543.0,579.6 L543.7,576.1 L544.4,575.9 L545.1,574.3 L545.8,576.2 L546.5,577.8 L547.2,579.9 L547.9,579.1 L548.7,578.8 L549.4,577.8 L550.1,576.2 L551.0,574.2 L552.0,574.7 L552.9,570.4 L553.6,571.9 L554.3,571.7 L555.0,573.1 L555.7,573.3 L556.6,576.6 L557.6,581.9 L558.5,582.5 L559.4,585.9 L560.4,585.3 L561.3,589.0 L562.0,589.0 L562.7,587.3 L563.4,584.7 L564.1,585.2 L565.0,585.0 L566.0,586.6 L566.9,588.4 L567.6,590.1 L568.3,592.3 L569.0,595.2 L569.7,599.5 L570.4,601.2 L571.1,604.6 L571.8,602.2 L572.5,599.5 L573.2,597.6 L574.2,594.1 L575.3,589.4 L576.0,589.6 L576.7,588.5 L577.4,586.7 L578.1,586.8 L579.0,586.0 L580.0,583.2 L580.9,582.4 L581.6,583.6 L582.3,585.0 L583.0,587.3 L583.7,587.3 L584.8,585.7 L585.8,581.7 L585.8,592.9 L584.8,596.9 L583.7,598.5 L583.0,598.5 L582.3,596.2 L581.6,594.8 L580.9,593.6 L580.0,594.4 L579.0,597.2 L578.1,598.0 L577.4,597.9 L576.7,599.7 L576.0,600.8 L575.3,600.6 L574.2,605.3 L573.2,608.8 L572.5,610.7 L571.8,613.4 L571.1,615.8 L570.4,612.4 L569.7,610.7 L569.0,606.4 L568.3,603.5 L567.6,601.3 L566.9,599.6 L566.0,597.8 L565.0,596.2 L564.1,596.4 L563.4,595.9 L562.7,598.5 L562.0,600.2 L561.3,600.2 L560.4,596.5 L559.4,597.1 L558.5,593.7 L557.6,593.1 L556.6,587.8 L555.7,584.5 L555.0,584.3 L554.3,582.9 L553.6,583.1 L552.9,581.6 L552.0,585.9 L551.0,585.4 L550.1,587.4 L549.4,589.0 L548.7,590.0 L547.9,590.3 L547.2,591.1 L546.5,589.0 L545.8,587.4 L545.1,585.5 L544.4,587.1 L543.7,587.3 L543.0,590.8 L542.1,593.2 L541.1,595.6 L540.2,600.7 L539.5,597.1 L538.8,597.7 L538.1,596.4 L537.4,595.3 L536.5,593.5 L535.5,592.7 L534.6,592.5 L533.9,590.0 L533.2,591.1 L532.5,593.6 L531.8,592.2 L530.8,596.0 L529.7,594.9 L529.0,596.1 L528.3,599.5 L527.6,602.0 L526.9,602.1 L526.2,598.0 L525.5,599.1 L524.8,597.1 L523.9,595.7 L523.0,593.9 L522.1,592.5 L521.2,594.3 L520.3,591.7 L519.4,592.0 L518.4,593.5 L517.5,594.2 L516.6,594.9 L515.6,594.3 L514.7,596.2 L514.0,594.5 L513.3,593.2 L512.6,592.3 L511.9,592.6 L511.0,593.2 L510.0,592.3 L509.1,591.9 L508.4,592.6 L507.7,591.4 L507.0,593.2 L506.3,595.2 L505.6,594.7 L504.9,596.2 L504.2,595.8 L503.5,596.3 L502.8,598.7 L502.1,599.4 L501.4,603.0 L500.7,604.5 L500.0,602.4 L499.3,602.8 L498.6,601.7 L497.9,597.8 L497.0,597.8 L496.0,599.3 L495.1,599.2 L494.4,595.6 L493.7,595.8 L493.0,594.0 L492.3,592.1 L491.6,594.2 L490.9,595.9 L490.2,594.4 L489.5,595.4 L488.8,596.6 L488.1,597.5 L487.4,598.7 L486.7,599.7 L486.0,597.8 L485.3,597.2 L484.6,597.1 L483.9,594.9 L483.2,594.2 L482.4,593.2 L481.7,592.1 L481.0,591.4 L480.3,591.1 L479.6,589.7 L478.9,588.3 L478.2,586.8 L477.5,587.3 L476.8,589.6 L476.1,590.3 L475.4,588.9 L474.5,590.7 L473.5,590.5 L472.6,590.9 L471.9,591.4 L471.2,589.0 L470.5,589.1 L469.8,590.3 L469.1,589.1 L468.4,587.6 L467.7,584.9 L466.6,584.4 L465.6,582.9 L464.9,581.9 L464.2,579.9 L463.5,575.8 L462.8,575.9 L462.1,572.9 L461.4,572.1 L460.5,569.4 L459.7,567.7 Z" fill="#D55E00" fill-opacity="0.2" stroke="none"/>
<path d="M459.7,582.6 L460.5,584.1 L461.3,585.9 L462.1,588.9 L463.1,585.8 L464.2,584.6 L464.9,588.7 L465.6,588.8 L466.3,592.5 L467.4,590.5 L468.4,586.1 L469.1,584.3 L469.8,583.2 L470.5,584.5 L471.2,582.2 L471.9,580.5 L472.6,579.6 L473.3,581.6 L474.0,580.6 L474.7,580.9 L475.4,579.4 L476.1,579.6 L476.8,578.6 L477.9,575.8 L478.9,572.8 L479.6,570.6 L480.3,568.5 L481.0,567.1 L481.7,568.3 L482.4,568.7 L483.2,570.6 L483.9,571.4 L484.6,573.0 L485.3,574.9 L486.0,573.2 L486.7,575.0 L487.4,577.7 L488.1,576.4 L488.8,577.1 L489.5,580.6 L490.2,576.9 L490.9,573.7 L491.6,571.3 L492.5,575.6 L493.5,576.0 L494.4,575.8 L495.1,579.4 L495.8,579.1 L496.5,580.9 L497.2,581.2 L497.9,578.9 L498.6,579.7 L499.3,578.2 L500.0,579.7 L500.7,579.4 L501.4,580.1 L502.1,583.8 L502.8,582.5 L503.5,583.8 L504.2,586.5 L504.9,585.6 L505.6,586.9 L506.5,588.9 L507.5,593.3 L508.4,595.2 L509.1,593.5 L509.8,591.4 L510.5,589.1 L511.4,587.4 L512.4,585.7 L513.3,582.4 L514.0,584.7 L514.7,581.7 L515.4,582.6 L516.1,583.4 L517.0,581.8 L518.0,583.2 L518.9,581.5 L519.6,580.7 L520.3,579.3 L521.0,578.6 L521.7,576.7 L522.5,578.9 L523.2,578.2 L524.0,575.3 L524.8,575.9 L525.5,575.0 L526.2,575.3 L526.9,573.5 L527.6,572.9 L528.5,571.9 L529.5,572.6 L530.4,572.4 L531.1,571.0 L531.8,572.6 L532.5,574.2 L533.2,575.6 L534.1,572.7 L535.1,570.8 L536.0,569.9 L536.9,571.8 L537.9,571.4 L538.8,573.1 L539.5,574.6 L540.2,574.7 L540.9,573.8 L541.6,575.1 L542.5,576.7 L543.5,578.7 L544.4,579.1 L545.1,579.2 L545.8,583.9 L546.5,586.0 L547.9,594.9 L548.6,590.9 L549.4,591.3 L550.1,589.2 L551.0,587.8 L552.0,590.6 L552.9,590.3 L553.6,591.5 L554.3,590.4 L555.0,590.8 L555.7,589.8 L556.6,586.6 L557.6,586.0 L558.5,586.1 L559.4,587.2 L560.4,589.0 L561.3,591.7 L562.0,589.6 L562.7,590.3 L563.4,588.5 L564.1,584.5 L565.0,585.8 L566.0,583.8 L566.9,583.4 L567.6,583.6 L568.3,582.1 L569.0,583.3 L569.7,583.9 L570.6,581.9 L571.6,581.5 L572.5,581.9 L573.4,581.8 L574.4,582.8 L575.3,585.1 L576.0,584.4 L576.7,580.7 L577.4,580.5 L578.1,580.1 L579.0,582.5 L580.0,585.1 L580.9,588.8 L581.6,590.5 L582.3,590.8 L583.0,590.1 L583.7,592.1 L584.8,589.8 L585.8,584.1 L585.8,595.3 L584.8,601.0 L583.7,603.3 L583.0,601.3 L582.3,602.0 L581.6,601.7 L580.9,600.0 L580.0,596.3 L579.0,593.7 L578.1,591.3 L577.4,591.7 L576.7,591.9 L576.0,595.6 L575.3,596.3 L574.4,594.0 L573.4,593.0 L572.5,593.1 L571.6,592.7 L570.6,593.1 L569.7,595.1 L569.0,594.5 L568.3,593.3 L567.6,594.8 L566.9,594.6 L566.0,595.0 L565.0,597.0 L564.1,595.7 L563.4,599.7 L562.7,601.5 L562.0,600.8 L561.3,602.9 L560.4,600.2 L559.4,598.4 L558.5,597.3 L557.6,597.2 L556.6,597.8 L555.7,601.0 L555.0,602.0 L554.3,601.6 L553.6,602.7 L552.9,601.5 L552.0,601.8 L551.0,599.0 L550.1,600.4 L549.4,602.5 L548.6,602.1 L547.9,606.1 L546.5,597.2 L545.8,595.1 L545.1,590.4 L544.4,590.3 L543.5,589.9 L542.5,587.9 L541.6,586.3 L540.9,585.0 L540.2,585.9 L539.5,585.8 L538.8,584.3 L537.9,582.6 L536.9,583.0 L536.0,581.1 L535.1,582.0 L534.1,583.9 L533.2,586.8 L532.5,585.4 L531.8,583.8 L531.1,582.2 L530.4,583.6 L529.5,583.8 L528.5,583.1 L527.6,584.1 L526.9,584.7 L526.2,586.5 L525.5,586.2 L524.8,587.1 L524.0,586.5 L523.2,589.4 L522.5,590.1 L521.7,587.9 L521.0,589.8 L520.3,590.5 L519.6,591.9 L518.9,592.7 L518.0,594.4 L517.0,593.0 L516.1,594.6 L515.4,593.8 L514.7,592.9 L514.0,595.9 L513.3,593.6 L512.4,596.9 L511.4,598.6 L510.5,600.3 L509.8,602.6 L509.1,604.7 L508.4,606.4 L507.5,604.5 L506.5,600.1 L505.6,598.1 L504.9,596.8 L504.2,597.7 L503.5,595.0 L502.8,593.7 L502.1,595.0 L501.4,591.3 L500.7,590.6 L500.0,590.9 L499.3,589.4 L498.6,590.9 L497.9,590.1 L497.2,592.4 L496.5,592.1 L495.8,590.3 L495.1,590.6 L494.4,587.0 L493.5,587.2 L492.5,586.8 L491.6,582.5 L490.9,584.9 L490.2,588.1 L489.5,591.8 L488.8,588.3 L488.1,587.6 L487.4,588.9 L486.7,586.2 L486.0,584.4 L485.3,586.1 L484.6,584.2 L483.9,582.6 L483.2,581.8 L482.4,579.9 L481.7,579.5 L481.0,578.3 L480.3,579.7 L479.6,581.8 L478.9,584.0 L477.9,587.0 L476.8,589.8 L476.1,590.8 L475.4,590.6 L474.7,592.1 L474.0,591.8 L473.3,592.8 L472.6,590.8 L471.9,591.7 L471.2,593.4 L470.5,595.7 L469.8,594.4 L469.1,595.5 L468.4,597.3 L467.4,601.7 L466.3,603.7 L465.6,600.0 L464.9,599.9 L464.2,595.8 L463.1,597.0 L462.1,600.1 L461.3,597.1 L460.5,595.3 L459.7,593.8 Z" fill="#0072B2" fill-opacity="0.2" stroke="none"/>
<path d="M459.7,562.1 L460.5,563.8 L461.4,566.5 L462.1,567.3 L462.8,570.3 L463.5,570.2 L464.2,574.3 L464.9,576.3 L465.6,577.3 L466.6,578.8 L467.7,579.3 L468.4,582.0 L469.1,583.5 L469.8,584.7 L470.5,583.5 L471.2,583.4 L471.9,585.8 L472.6,585.3 L473.5,584.9 L474.5,585.1 L475.4,583.3 L476.1,584.7 L476.8,584.0 L477.5,581.7 L478.2,581.2 L478.9,582.7 L479.6,584.1 L480.3,585.5 L481.0,585.8 L481.7,586.5 L482.4,587.6 L483.2,588.6 L483.9,589.3 L484.6,591.5 L485.3,591.6 L486.0,592.2 L486.7,594.1 L487.4,593.1 L488.1,591.9 L488.8,591.0 L489.5,589.8 L490.2,588.8 L490.9,590.3 L491.6,588.6 L492.3,586.5 L493.0,588.4 L493.7,590.2 L494.4,590.0 L495.1,593.6 L496.0,593.7 L497.0,592.2 L497.9,592.2 L498.6,596.1 L499.3,597.2 L500.0,596.8 L500.7,598.9 L501.4,597.4 L502.1,593.8 L502.8,593.1 L503.5,590.7 L504.2,590.2 L504.9,590.6 L505.6,589.1 L506.3,589.6 L507.0,587.6 L507.7,585.8 L508.4,587.0 L509.1,586.3 L510.0,586.7 L511.0,587.6 L511.9,587.0 L512.6,586.7 L513.3,587.6 L514.0,588.9 L514.7,590.6 L515.6,588.7 L516.6,589.3 L517.5,588.6 L518.4,587.9 L519.4,586.4 L520.3,586.1 L521.2,588.7 L522.1,586.9 L523.0,588.3 L523.9,590.1 L524.8,591.5 L525.5,593.5 L526.2,592.4 L526.9,596.5 L527.6,596.4 L528.3,593.9 L529.0,590.5 L529.7,589.3 L530.8,590.4 L531.8,586.6 L532.5,588.0 L533.2,585.5 L533.9,584.4 L534.6,586.9 L535.5,587.1 L536.5,587.9 L537.4,589.7 L538.1,590.8 L538.8,592.1 L539.5,591.5 L540.2,595.1 L541.1,590.0 L542.1,587.6 L543.0,585.2 L543.7,581.7 L544.4,581.5 L545.1,579.9 L545.8,581.8 L546.5,583.4 L547.2,585.5 L547.9,584.7 L548.7,584.4 L549.4,583.4 L550.1,581.8 L551.0,579.8 L552.0,580.3 L552.9,576.0 L553.6,577.5 L554.3,577.3 L555.0,578.7 L555.7,578.9 L556.6,582.2 L557.6,587.5 L558.5,588.1 L559.4,591.5 L560.4,590.9 L561.3,594.6 L562.0,594.6 L562.7,592.9 L563.4,590.3 L564.1,590.8 L565.0,590.6 L566.0,592.2 L566.9,594.0 L567.6,595.7 L568.3,597.9 L569.0,600.8 L569.7,605.1 L570.4,606.8 L571.1,610.2 L571.8,607.8 L572.5,605.1 L573.2,603.2 L574.2,599.7 L575.3,595.0 L576.0,595.2 L576.7,594.1 L577.4,592.3 L578.1,592.4 L579.0,591.6 L580.0,588.8 L580.9,588.0 L581.6,589.2 L582.3,590.6 L583.0,592.9 L583.7,592.9 L584.8,591.3 L585.8,587.3" fill="none" stroke="#C8703A" stroke-width="1.05" stroke-linejoin="round"/>
<path d="M459.7,588.2 L460.5,589.7 L461.3,591.5 L462.1,594.5 L463.1,591.4 L464.2,590.2 L464.9,594.3 L465.6,594.4 L466.3,598.1 L467.4,596.1 L468.4,591.7 L469.1,589.9 L469.8,588.8 L470.5,590.1 L471.2,587.8 L471.9,586.1 L472.6,585.2 L473.3,587.2 L474.0,586.2 L474.7,586.5 L475.4,585.0 L476.1,585.2 L476.8,584.2 L477.9,581.4 L478.9,578.4 L479.6,576.2 L480.3,574.1 L481.0,572.7 L481.7,573.9 L482.4,574.3 L483.2,576.2 L483.9,577.0 L484.6,578.6 L485.3,580.5 L486.0,578.8 L486.7,580.6 L487.4,583.3 L488.1,582.0 L488.8,582.7 L489.5,586.2 L490.2,582.5 L490.9,579.3 L491.6,576.9 L492.5,581.2 L493.5,581.6 L494.4,581.4 L495.1,585.0 L495.8,584.7 L496.5,586.5 L497.2,586.8 L497.9,584.5 L498.6,585.3 L499.3,583.8 L500.0,585.3 L500.7,585.0 L501.4,585.7 L502.1,589.4 L502.8,588.1 L503.5,589.4 L504.2,592.1 L504.9,591.2 L505.6,592.5 L506.5,594.5 L507.5,598.9 L508.4,600.8 L509.1,599.1 L509.8,597.0 L510.5,594.7 L511.4,593.0 L512.4,591.3 L513.3,588.0 L514.0,590.3 L514.7,587.3 L515.4,588.2 L516.1,589.0 L517.0,587.4 L518.0,588.8 L518.9,587.1 L519.6,586.3 L520.3,584.9 L521.0,584.2 L521.7,582.3 L522.5,584.5 L523.2,583.8 L524.0,580.9 L524.8,581.5 L525.5,580.6 L526.2,580.9 L526.9,579.1 L527.6,578.5 L528.5,577.5 L529.5,578.2 L530.4,578.0 L531.1,576.6 L531.8,578.2 L532.5,579.8 L533.2,581.2 L534.1,578.3 L535.1,576.4 L536.0,575.5 L536.9,577.4 L537.9,577.0 L538.8,578.7 L539.5,580.2 L540.2,580.3 L540.9,579.4 L541.6,580.7 L542.5,582.3 L543.5,584.3 L544.4,584.7 L545.1,584.8 L545.8,589.5 L546.5,591.6 L547.9,600.5 L548.6,596.5 L549.4,596.9 L550.1,594.8 L551.0,593.4 L552.0,596.2 L552.9,595.9 L553.6,597.1 L554.3,596.0 L555.0,596.4 L555.7,595.4 L556.6,592.2 L557.6,591.6 L558.5,591.7 L559.4,592.8 L560.4,594.6 L561.3,597.3 L562.0,595.2 L562.7,595.9 L563.4,594.1 L564.1,590.1 L565.0,591.4 L566.0,589.4 L566.9,589.0 L567.6,589.2 L568.3,587.7 L569.0,588.9 L569.7,589.5 L570.6,587.5 L571.6,587.1 L572.5,587.5 L573.4,587.4 L574.4,588.4 L575.3,590.7 L576.0,590.0 L576.7,586.3 L577.4,586.1 L578.1,585.7 L579.0,588.1 L580.0,590.7 L580.9,594.4 L581.6,596.1 L582.3,596.4 L583.0,595.7 L583.7,597.7 L584.8,595.4 L585.8,589.7" fill="none" stroke="#1E6E9C" stroke-width="1.05" stroke-linejoin="round"/>
<line x1="453.20" y1="587.00" x2="592.70" y2="587.00" stroke="#1a1a1a" stroke-width="1.0" />
<line x1="523.00" y1="534.00" x2="523.00" y2="628.00" stroke="#1a1a1a" stroke-width="1.0" />
<line x1="306.50" y1="534.00" x2="306.50" y2="628.00" stroke="#1a1a1a" stroke-width="1.0" />
<line x1="303.00" y1="537.40" x2="306.50" y2="537.40" stroke="#1a1a1a" stroke-width="1.0" />
<text x="301.00" y="541.40" font-size="11.5" text-anchor="end" fill="#1a1a1a" >0.4</text>
<line x1="303.00" y1="562.20" x2="306.50" y2="562.20" stroke="#1a1a1a" stroke-width="1.0" />
<text x="301.00" y="566.20" font-size="11.5" text-anchor="end" fill="#1a1a1a" >0.2</text>
<line x1="303.00" y1="587.00" x2="306.50" y2="587.00" stroke="#1a1a1a" stroke-width="1.0" />
<text x="301.00" y="591.00" font-size="11.5" text-anchor="end" fill="#1a1a1a" >0.0</text>
<line x1="303.00" y1="611.80" x2="306.50" y2="611.80" stroke="#1a1a1a" stroke-width="1.0" />
<text x="301.00" y="615.80" font-size="11.5" text-anchor="end" fill="#1a1a1a" >-0.2</text>
<text x="267.80" y="581.40" font-size="11.7" text-anchor="middle" fill="#444" transform="rotate(-90 267.80 581.40)" >SCR [z]</text>
<line x1="306.50" y1="627.60" x2="445.80" y2="627.60" stroke="#1a1a1a" stroke-width="1.0" />
<line x1="312.57" y1="627.60" x2="312.57" y2="630.60" stroke="#1a1a1a" stroke-width="1.0" />
<text x="312.57" y="641.90" font-size="11.5" text-anchor="middle" fill="#1a1a1a" >-15</text>
<line x1="333.85" y1="627.60" x2="333.85" y2="630.60" stroke="#1a1a1a" stroke-width="1.0" />
<text x="333.85" y="641.90" font-size="11.5" text-anchor="middle" fill="#1a1a1a" >-10</text>
<line x1="355.12" y1="627.60" x2="355.12" y2="630.60" stroke="#1a1a1a" stroke-width="1.0" />
<text x="355.12" y="641.90" font-size="11.5" text-anchor="middle" fill="#1a1a1a" >-5</text>
<line x1="376.40" y1="627.60" x2="376.40" y2="630.60" stroke="#1a1a1a" stroke-width="1.0" />
<text x="376.40" y="641.90" font-size="11.5" text-anchor="middle" fill="#1a1a1a" >0</text>
<line x1="397.67" y1="627.60" x2="397.67" y2="630.60" stroke="#1a1a1a" stroke-width="1.0" />
<text x="397.67" y="641.90" font-size="11.5" text-anchor="middle" fill="#1a1a1a" >5</text>
<line x1="418.95" y1="627.60" x2="418.95" y2="630.60" stroke="#1a1a1a" stroke-width="1.0" />
<text x="418.95" y="641.90" font-size="11.5" text-anchor="middle" fill="#1a1a1a" >10</text>
<line x1="440.22" y1="627.60" x2="440.22" y2="630.60" stroke="#1a1a1a" stroke-width="1.0" />
<text x="440.22" y="641.90" font-size="11.5" text-anchor="middle" fill="#1a1a1a" >15</text>
<text x="376.40" y="656.90" font-size="11.6" text-anchor="middle" fill="#1a1a1a" >Chills</text>
<line x1="453.20" y1="627.60" x2="592.70" y2="627.60" stroke="#1a1a1a" stroke-width="1.0" />
<line x1="459.18" y1="627.60" x2="459.18" y2="630.60" stroke="#1a1a1a" stroke-width="1.0" />
<text x="459.18" y="641.90" font-size="11.5" text-anchor="middle" fill="#1a1a1a" >-15</text>
<line x1="480.45" y1="627.60" x2="480.45" y2="630.60" stroke="#1a1a1a" stroke-width="1.0" />
<text x="480.45" y="641.90" font-size="11.5" text-anchor="middle" fill="#1a1a1a" >-10</text>
<line x1="501.73" y1="627.60" x2="501.73" y2="630.60" stroke="#1a1a1a" stroke-width="1.0" />
<text x="501.73" y="641.90" font-size="11.5" text-anchor="middle" fill="#1a1a1a" >-5</text>
<line x1="523.00" y1="627.60" x2="523.00" y2="630.60" stroke="#1a1a1a" stroke-width="1.0" />
<text x="523.00" y="641.90" font-size="11.5" text-anchor="middle" fill="#1a1a1a" >0</text>
<line x1="544.27" y1="627.60" x2="544.27" y2="630.60" stroke="#1a1a1a" stroke-width="1.0" />
<text x="544.27" y="641.90" font-size="11.5" text-anchor="middle" fill="#1a1a1a" >5</text>
<line x1="565.55" y1="627.60" x2="565.55" y2="630.60" stroke="#1a1a1a" stroke-width="1.0" />
<text x="565.55" y="641.90" font-size="11.5" text-anchor="middle" fill="#1a1a1a" >10</text>
<line x1="586.83" y1="627.60" x2="586.83" y2="630.60" stroke="#1a1a1a" stroke-width="1.0" />
<text x="586.83" y="641.90" font-size="11.5" text-anchor="middle" fill="#1a1a1a" >15</text>
<text x="523.00" y="656.90" font-size="11.6" text-anchor="middle" fill="#1a1a1a" >Tears</text>
<text x="449.50" y="681.00" font-size="14.6" text-anchor="middle" fill="#111111" >Time (s)</text>
<text x="241.30" y="325.50" font-size="14.15" text-anchor="middle" fill="#111111" transform="rotate(-90 241.30 325.50)" >Change from overall mean response [z-score]</text>
</svg>
</body></html>
